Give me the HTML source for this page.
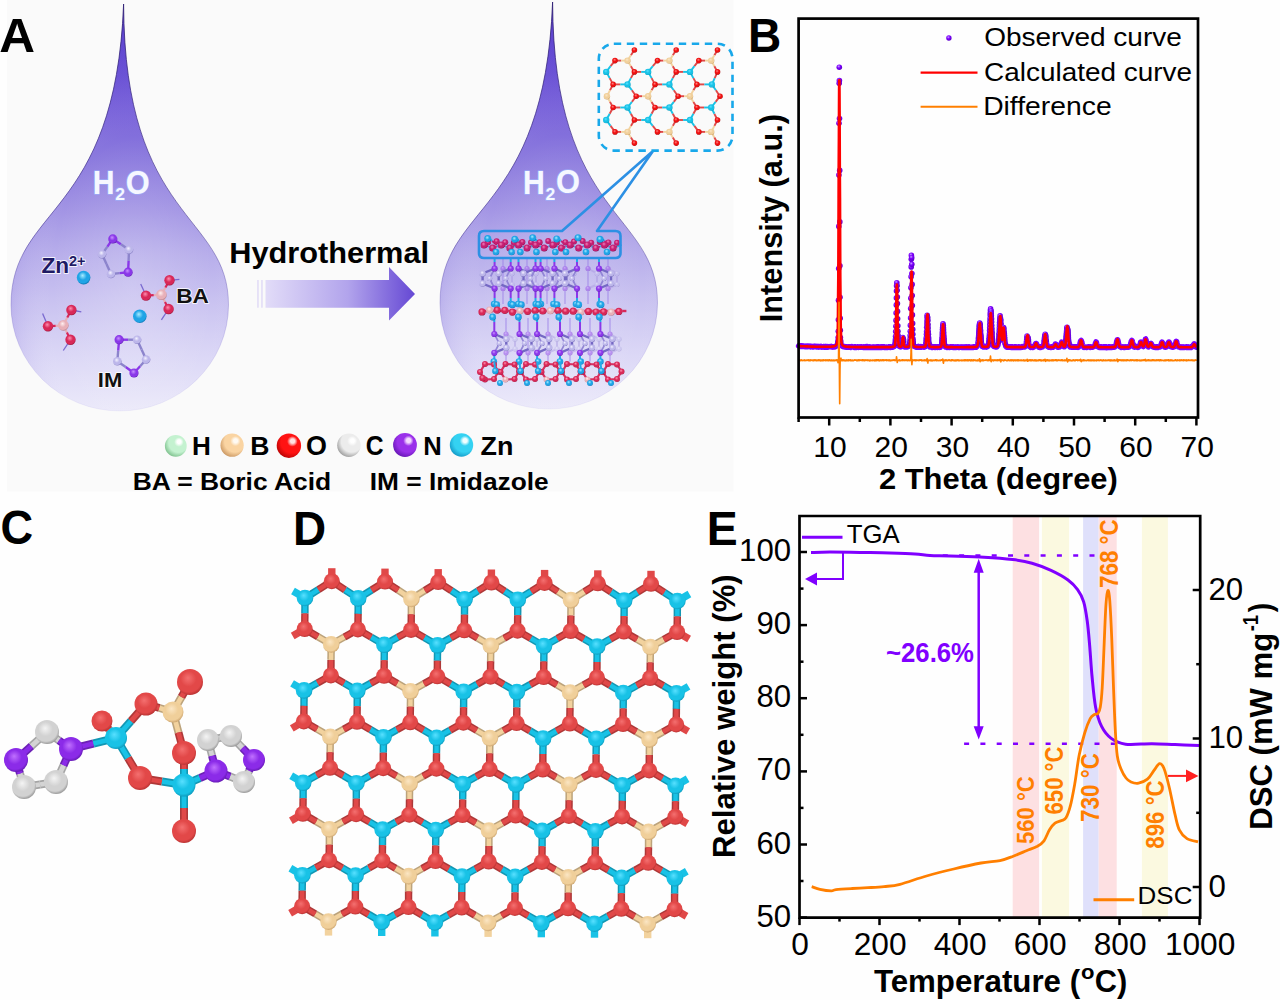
<!DOCTYPE html><html><head><meta charset="utf-8"><title>Figure</title><style>html,body{margin:0;padding:0;background:#fefefe;width:1280px;height:1000px;overflow:hidden}svg{display:block}</style></head><body><svg width="1280" height="1000" viewBox="0 0 1280 1000"><defs><radialGradient id="gLH" cx="0.6" cy="0.38" r="0.72" fx="0.66" fy="0.3"><stop offset="0" stop-color="#ffffff"/><stop offset="0.12" stop-color="#ffffff" stop-opacity="0.9"/><stop offset="0.3" stop-color="#c4f2d0"/><stop offset="0.62" stop-color="#c4f2d0"/><stop offset="1" stop-color="#6cb47c"/></radialGradient><radialGradient id="gLB" cx="0.6" cy="0.38" r="0.72" fx="0.66" fy="0.3"><stop offset="0" stop-color="#fffaf2"/><stop offset="0.12" stop-color="#fffaf2" stop-opacity="0.9"/><stop offset="0.3" stop-color="#fad4a2"/><stop offset="0.62" stop-color="#fad4a2"/><stop offset="1" stop-color="#c08a54"/></radialGradient><radialGradient id="gLOred" cx="0.6" cy="0.38" r="0.72" fx="0.66" fy="0.3"><stop offset="0" stop-color="#ffe0e0"/><stop offset="0.12" stop-color="#ffe0e0" stop-opacity="0.9"/><stop offset="0.3" stop-color="#ff1212"/><stop offset="0.62" stop-color="#ff1212"/><stop offset="1" stop-color="#a80000"/></radialGradient><radialGradient id="gLC" cx="0.6" cy="0.38" r="0.72" fx="0.66" fy="0.3"><stop offset="0" stop-color="#ffffff"/><stop offset="0.12" stop-color="#ffffff" stop-opacity="0.9"/><stop offset="0.3" stop-color="#ececec"/><stop offset="0.62" stop-color="#ececec"/><stop offset="1" stop-color="#8a8a8a"/></radialGradient><radialGradient id="gLN" cx="0.6" cy="0.38" r="0.72" fx="0.66" fy="0.3"><stop offset="0" stop-color="#f4d8ff"/><stop offset="0.12" stop-color="#f4d8ff" stop-opacity="0.9"/><stop offset="0.3" stop-color="#9a30ea"/><stop offset="0.62" stop-color="#9a30ea"/><stop offset="1" stop-color="#5a10a8"/></radialGradient><radialGradient id="gLZn" cx="0.6" cy="0.38" r="0.72" fx="0.66" fy="0.3"><stop offset="0" stop-color="#f0ffff"/><stop offset="0.12" stop-color="#f0ffff" stop-opacity="0.9"/><stop offset="0.3" stop-color="#34d2f2"/><stop offset="0.62" stop-color="#34d2f2"/><stop offset="1" stop-color="#0c8cbc"/></radialGradient><radialGradient id="gO" cx="0.46" cy="0.42" r="0.6" fx="0.42" fy="0.34"><stop offset="0" stop-color="#f47070"/><stop offset="0.5" stop-color="#e24848"/><stop offset="0.8" stop-color="#e24848"/><stop offset="1" stop-color="#b43030"/></radialGradient><radialGradient id="gZn" cx="0.46" cy="0.42" r="0.6" fx="0.42" fy="0.34"><stop offset="0" stop-color="#58e0ff"/><stop offset="0.5" stop-color="#18c2e6"/><stop offset="0.8" stop-color="#18c2e6"/><stop offset="1" stop-color="#0c96b8"/></radialGradient><radialGradient id="gB" cx="0.46" cy="0.42" r="0.6" fx="0.42" fy="0.34"><stop offset="0" stop-color="#fbe6c4"/><stop offset="0.5" stop-color="#f0cf9a"/><stop offset="0.8" stop-color="#f0cf9a"/><stop offset="1" stop-color="#c8a06a"/></radialGradient><radialGradient id="gN" cx="0.46" cy="0.42" r="0.6" fx="0.42" fy="0.34"><stop offset="0" stop-color="#c070ff"/><stop offset="0.5" stop-color="#8b2be8"/><stop offset="0.8" stop-color="#8b2be8"/><stop offset="1" stop-color="#6218b0"/></radialGradient><radialGradient id="gC" cx="0.46" cy="0.42" r="0.6" fx="0.42" fy="0.34"><stop offset="0" stop-color="#f4f4f4"/><stop offset="0.5" stop-color="#d2d2d2"/><stop offset="0.8" stop-color="#d2d2d2"/><stop offset="1" stop-color="#909090"/></radialGradient><radialGradient id="gH" cx="0.46" cy="0.42" r="0.6" fx="0.42" fy="0.34"><stop offset="0" stop-color="#eaffee"/><stop offset="0.5" stop-color="#a8ecb8"/><stop offset="0.8" stop-color="#a8ecb8"/><stop offset="1" stop-color="#70b884"/></radialGradient><radialGradient id="gOred" cx="0.46" cy="0.42" r="0.6" fx="0.42" fy="0.34"><stop offset="0" stop-color="#ff8080"/><stop offset="0.5" stop-color="#ee1010"/><stop offset="0.8" stop-color="#ee1010"/><stop offset="1" stop-color="#a00000"/></radialGradient><radialGradient id="gaO" cx="0.46" cy="0.42" r="0.6" fx="0.42" fy="0.34"><stop offset="0" stop-color="#ff8fb0"/><stop offset="0.5" stop-color="#d82858"/><stop offset="0.8" stop-color="#d82858"/><stop offset="1" stop-color="#98163a"/></radialGradient><radialGradient id="gsO" cx="0.46" cy="0.42" r="0.6" fx="0.42" fy="0.34"><stop offset="0" stop-color="#f080b8"/><stop offset="0.5" stop-color="#c41e72"/><stop offset="0.8" stop-color="#c41e72"/><stop offset="1" stop-color="#7c0e48"/></radialGradient><radialGradient id="gaB" cx="0.46" cy="0.42" r="0.6" fx="0.42" fy="0.34"><stop offset="0" stop-color="#fff0f0"/><stop offset="0.5" stop-color="#e8b0b8"/><stop offset="0.8" stop-color="#e8b0b8"/><stop offset="1" stop-color="#b07a86"/></radialGradient><radialGradient id="gaN" cx="0.46" cy="0.42" r="0.6" fx="0.42" fy="0.34"><stop offset="0" stop-color="#c890ff"/><stop offset="0.5" stop-color="#8a38e8"/><stop offset="0.8" stop-color="#8a38e8"/><stop offset="1" stop-color="#5a18a8"/></radialGradient><radialGradient id="gaC" cx="0.46" cy="0.42" r="0.6" fx="0.42" fy="0.34"><stop offset="0" stop-color="#f4f2ff"/><stop offset="0.5" stop-color="#bcb6ea"/><stop offset="0.8" stop-color="#bcb6ea"/><stop offset="1" stop-color="#7c74bc"/></radialGradient><radialGradient id="gaZn" cx="0.46" cy="0.42" r="0.6" fx="0.42" fy="0.34"><stop offset="0" stop-color="#a8ecff"/><stop offset="0.5" stop-color="#20a4e6"/><stop offset="0.8" stop-color="#20a4e6"/><stop offset="1" stop-color="#0a6eac"/></radialGradient><linearGradient id="dropG" gradientUnits="userSpaceOnUse" x1="0" y1="4" x2="0" y2="412"><stop offset="0" stop-color="#5434cc"/><stop offset="0.12" stop-color="#6046d2"/><stop offset="0.25" stop-color="#765fd9"/><stop offset="0.38" stop-color="#8c7bde"/><stop offset="0.5" stop-color="#a193e4"/><stop offset="0.6" stop-color="#b5abea"/><stop offset="0.72" stop-color="#c8c1f0"/><stop offset="0.86" stop-color="#dbd7f6"/><stop offset="1" stop-color="#eceafa"/></linearGradient><radialGradient id="dropShade" cx="0.56" cy="0.7" r="0.62"><stop offset="0" stop-color="#ffffff" stop-opacity="0.18"/><stop offset="0.6" stop-color="#ffffff" stop-opacity="0"/><stop offset="0.85" stop-color="#7a66d8" stop-opacity="0.10"/><stop offset="1" stop-color="#6a54d0" stop-opacity="0.28"/></radialGradient><linearGradient id="dropStroke" gradientUnits="userSpaceOnUse" x1="0" y1="4" x2="0" y2="412"><stop offset="0" stop-color="#2a1a70" stop-opacity="0.9"/><stop offset="0.55" stop-color="#3a2a88" stop-opacity="0.6"/><stop offset="0.8" stop-color="#6a5ac8" stop-opacity="0.25"/><stop offset="1" stop-color="#9a90e0" stop-opacity="0.1"/></linearGradient><linearGradient id="arrG" x1="0" y1="0" x2="1" y2="0"><stop offset="0" stop-color="#e2dcf8"/><stop offset="0.55" stop-color="#b2a4ec"/><stop offset="1" stop-color="#6548d4"/></linearGradient><radialGradient id="gobs" cx="0.4" cy="0.35" r="0.6"><stop offset="0" stop-color="#c9a0ff"/><stop offset="0.5" stop-color="#7f00ff"/><stop offset="1" stop-color="#6000d0"/></radialGradient></defs><rect width="1280" height="1000" fill="#fefefe"/><rect x="7" y="0" width="726.5" height="491.6" fill="#fafafa"/><g transform="translate(0,0)"><path d="M123.6,4.0 C124.3,221.7 228.5,213.1 228.5,305.0 A108.75,106 0 0 1 11.0,305.0 C11.0,205.5 115.5,218.4 123.6,4.0 Z" fill="url(#dropG)"/><path d="M123.6,4.0 C124.3,221.7 228.5,213.1 228.5,305.0 A108.75,106 0 0 1 11.0,305.0 C11.0,205.5 115.5,218.4 123.6,4.0 Z" fill="url(#dropShade)" stroke="url(#dropStroke)" stroke-width="0.9"/></g><g transform="translate(0,-2)"><path d="M552.6,4.0 C553.3,221.7 657.5,213.1 657.5,305.0 A108.75,106 0 0 1 440.0,305.0 C440.0,205.5 544.5,218.4 552.6,4.0 Z" fill="url(#dropG)"/><path d="M552.6,4.0 C553.3,221.7 657.5,213.1 657.5,305.0 A108.75,106 0 0 1 440.0,305.0 C440.0,205.5 544.5,218.4 552.6,4.0 Z" fill="url(#dropShade)" stroke="url(#dropStroke)" stroke-width="0.9"/></g><text transform="translate(92.74,194.00) scale(0.9335,1)" font-family="'Liberation Sans', Arial, Helvetica, sans-serif" font-weight="bold" font-size="32.32" fill="#f6f8ff" stroke="#9cb4ff" stroke-width="1.4" stroke-opacity="0.7" paint-order="stroke" stroke-linejoin="round">H</text><text transform="translate(115.19,200.10) scale(1.0208,1)" font-family="'Liberation Sans', Arial, Helvetica, sans-serif" font-weight="bold" font-size="17.14" fill="#f6f8ff" stroke="#9cb4ff" stroke-width="1.4" stroke-opacity="0.7" paint-order="stroke" stroke-linejoin="round">2</text><text transform="translate(125.67,193.97) scale(0.9464,1)" font-family="'Liberation Sans', Arial, Helvetica, sans-serif" font-weight="bold" font-size="32.54" fill="#f6f8ff" stroke="#9cb4ff" stroke-width="1.4" stroke-opacity="0.7" paint-order="stroke" stroke-linejoin="round">O</text><text transform="translate(523.04,193.50) scale(0.9335,1)" font-family="'Liberation Sans', Arial, Helvetica, sans-serif" font-weight="bold" font-size="32.32" fill="#f6f8ff" stroke="#9cb4ff" stroke-width="1.4" stroke-opacity="0.7" paint-order="stroke" stroke-linejoin="round">H</text><text transform="translate(545.49,199.60) scale(1.0208,1)" font-family="'Liberation Sans', Arial, Helvetica, sans-serif" font-weight="bold" font-size="17.14" fill="#f6f8ff" stroke="#9cb4ff" stroke-width="1.4" stroke-opacity="0.7" paint-order="stroke" stroke-linejoin="round">2</text><text transform="translate(555.97,193.47) scale(0.9464,1)" font-family="'Liberation Sans', Arial, Helvetica, sans-serif" font-weight="bold" font-size="32.54" fill="#f6f8ff" stroke="#9cb4ff" stroke-width="1.4" stroke-opacity="0.7" paint-order="stroke" stroke-linejoin="round">O</text><line x1="112.8" y1="238.9" x2="120.9" y2="244.3" stroke="#8a38e8" stroke-width="2.4"/><line x1="120.9" y1="244.3" x2="129.0" y2="249.7" stroke="#8c84cc" stroke-width="2.4"/><line x1="129.0" y1="249.7" x2="128.6" y2="260.9" stroke="#8c84cc" stroke-width="2.4"/><line x1="128.6" y1="260.9" x2="128.1" y2="272.2" stroke="#8a38e8" stroke-width="2.4"/><line x1="128.1" y1="272.2" x2="119.5" y2="273.1" stroke="#8a38e8" stroke-width="2.4"/><line x1="119.5" y1="273.1" x2="111.0" y2="274.0" stroke="#8c84cc" stroke-width="2.4"/><line x1="111.0" y1="274.0" x2="106.5" y2="264.1" stroke="#8c84cc" stroke-width="2.4"/><line x1="106.5" y1="264.1" x2="102.0" y2="254.2" stroke="#8c84cc" stroke-width="2.4"/><line x1="102.0" y1="254.2" x2="107.4" y2="246.6" stroke="#8c84cc" stroke-width="2.4"/><line x1="107.4" y1="246.6" x2="112.8" y2="238.9" stroke="#8a38e8" stroke-width="2.4"/><circle cx="112.8" cy="238.9" r="4.6" fill="url(#gaN)"/><circle cx="129.0" cy="249.7" r="4.3" fill="url(#gaC)"/><circle cx="128.1" cy="272.2" r="4.6" fill="url(#gaN)"/><circle cx="111.0" cy="274.0" r="4.3" fill="url(#gaC)"/><circle cx="102.0" cy="254.2" r="4.3" fill="url(#gaC)"/><line x1="119.1" y1="339.7" x2="128.1" y2="339.7" stroke="#8a38e8" stroke-width="2.4"/><line x1="128.1" y1="339.7" x2="137.1" y2="339.7" stroke="#8c84cc" stroke-width="2.4"/><line x1="137.1" y1="339.7" x2="141.6" y2="349.6" stroke="#8c84cc" stroke-width="2.4"/><line x1="141.6" y1="349.6" x2="146.1" y2="359.5" stroke="#8c84cc" stroke-width="2.4"/><line x1="146.1" y1="359.5" x2="140.1" y2="366.2" stroke="#8c84cc" stroke-width="2.4"/><line x1="140.1" y1="366.2" x2="134.0" y2="373.0" stroke="#8a38e8" stroke-width="2.4"/><line x1="134.0" y1="373.0" x2="125.7" y2="367.1" stroke="#8a38e8" stroke-width="2.4"/><line x1="125.7" y1="367.1" x2="117.3" y2="361.3" stroke="#8c84cc" stroke-width="2.4"/><line x1="117.3" y1="361.3" x2="118.2" y2="350.5" stroke="#8c84cc" stroke-width="2.4"/><line x1="118.2" y1="350.5" x2="119.1" y2="339.7" stroke="#8a38e8" stroke-width="2.4"/><circle cx="119.1" cy="339.7" r="4.6" fill="url(#gaN)"/><circle cx="137.1" cy="339.7" r="4.3" fill="url(#gaC)"/><circle cx="146.1" cy="359.5" r="4.3" fill="url(#gaC)"/><circle cx="134.0" cy="373.0" r="4.6" fill="url(#gaN)"/><circle cx="117.3" cy="361.3" r="4.3" fill="url(#gaC)"/><line x1="169.5" y1="280.3" x2="179.4" y2="279.4" stroke="#7a6ad0" stroke-width="1.3"/><line x1="161.4" y1="294.7" x2="165.4" y2="287.5" stroke="#e8b0b8" stroke-width="2.2"/><line x1="165.4" y1="287.5" x2="169.5" y2="280.3" stroke="#d82858" stroke-width="2.2"/><line x1="146" y1="295.6" x2="140.7" y2="283.9" stroke="#7a6ad0" stroke-width="1.3"/><line x1="161.4" y1="294.7" x2="153.7" y2="295.1" stroke="#e8b0b8" stroke-width="2.2"/><line x1="153.7" y1="295.1" x2="146.0" y2="295.6" stroke="#d82858" stroke-width="2.2"/><line x1="168.6" y1="309" x2="161.4" y2="319.9" stroke="#7a6ad0" stroke-width="1.3"/><line x1="161.4" y1="294.7" x2="165.0" y2="301.9" stroke="#e8b0b8" stroke-width="2.2"/><line x1="165.0" y1="301.9" x2="168.6" y2="309.0" stroke="#d82858" stroke-width="2.2"/><circle cx="161.4" cy="294.7" r="5.4" fill="url(#gaB)"/><circle cx="169.5" cy="280.3" r="5.2" fill="url(#gaO)"/><circle cx="146.0" cy="295.6" r="5.2" fill="url(#gaO)"/><circle cx="168.6" cy="309.0" r="5.2" fill="url(#gaO)"/><line x1="71.4" y1="310" x2="81.3" y2="311.8" stroke="#7a6ad0" stroke-width="1.3"/><line x1="63.3" y1="325.3" x2="67.3" y2="317.6" stroke="#e8b0b8" stroke-width="2.2"/><line x1="67.3" y1="317.6" x2="71.4" y2="310.0" stroke="#d82858" stroke-width="2.2"/><line x1="48" y1="326.2" x2="42.6" y2="313.6" stroke="#7a6ad0" stroke-width="1.3"/><line x1="63.3" y1="325.3" x2="55.6" y2="325.8" stroke="#e8b0b8" stroke-width="2.2"/><line x1="55.6" y1="325.8" x2="48.0" y2="326.2" stroke="#d82858" stroke-width="2.2"/><line x1="70.5" y1="339.7" x2="63.3" y2="350.5" stroke="#7a6ad0" stroke-width="1.3"/><line x1="63.3" y1="325.3" x2="66.9" y2="332.5" stroke="#e8b0b8" stroke-width="2.2"/><line x1="66.9" y1="332.5" x2="70.5" y2="339.7" stroke="#d82858" stroke-width="2.2"/><circle cx="63.3" cy="325.3" r="5.4" fill="url(#gaB)"/><circle cx="71.4" cy="310.0" r="5.2" fill="url(#gaO)"/><circle cx="48.0" cy="326.2" r="5.2" fill="url(#gaO)"/><circle cx="70.5" cy="339.7" r="5.2" fill="url(#gaO)"/><circle cx="83.6" cy="277.6" r="6.8" fill="url(#gaZn)"/><circle cx="139.8" cy="316.3" r="6.8" fill="url(#gaZn)"/><text transform="translate(41.52,272.60) scale(1.0562,1)" font-family="'Liberation Sans', Arial, Helvetica, sans-serif" font-weight="bold" font-size="21.45" fill="#1e1a64" stroke="#ffffff" stroke-width="1.8" stroke-opacity="0.85" paint-order="stroke" stroke-linejoin="round">Zn</text><text transform="translate(69.09,265.80) scale(1.0224,1)" font-family="'Liberation Sans', Arial, Helvetica, sans-serif" font-weight="bold" font-size="14.14" fill="#1e1a64" stroke="#ffffff" stroke-width="1.8" stroke-opacity="0.85" paint-order="stroke" stroke-linejoin="round">2+</text><text transform="translate(176.13,303.20) scale(1.1252,1)" font-family="'Liberation Sans', Arial, Helvetica, sans-serif" font-weight="bold" font-size="20.14" fill="#111" stroke="#ffffff" stroke-width="1.8" stroke-opacity="0.85" paint-order="stroke" stroke-linejoin="round">BA</text><text transform="translate(97.87,386.50) scale(1.0488,1)" font-family="'Liberation Sans', Arial, Helvetica, sans-serif" font-weight="bold" font-size="21.01" fill="#111" stroke="#ffffff" stroke-width="1.8" stroke-opacity="0.85" paint-order="stroke" stroke-linejoin="round">IM</text><path d="M265.5,280 L389,280 L389,267 L415,294 L389,320.5 L389,307.7 L265.5,307.7 Z" fill="url(#arrG)"/><rect x="257.3" y="280" width="1.3" height="27.7" fill="#ddd6f6"/><rect x="261.3" y="280" width="1.3" height="27.7" fill="#ddd6f6"/><text transform="translate(229.20,263.44) scale(1.0163,1)" font-family="'Liberation Sans', Arial, Helvetica, sans-serif" font-weight="bold" font-size="30.27" fill="#000">Hydrothermal</text><g opacity="0.45"><line x1="503" y1="258" x2="503" y2="304" stroke="#9a7ee8" stroke-width="1.8"/><path d="M503,268.5 L512,273.5 L512,284.5 L503,288.5" fill="none" stroke="#a898e0" stroke-width="2"/><circle cx="503.0" cy="268.5" r="2.6" fill="url(#gaN)"/><circle cx="503.0" cy="288.5" r="2.6" fill="url(#gaN)"/><circle cx="512.0" cy="273.5" r="2.6" fill="url(#gaC)"/><circle cx="512.0" cy="284.5" r="2.6" fill="url(#gaC)"/></g><g opacity="0.45"><line x1="527" y1="258" x2="527" y2="304" stroke="#9a7ee8" stroke-width="1.8"/><path d="M527,268.5 L536,273.5 L536,284.5 L527,288.5" fill="none" stroke="#a898e0" stroke-width="2"/><circle cx="527.0" cy="268.5" r="2.6" fill="url(#gaN)"/><circle cx="527.0" cy="288.5" r="2.6" fill="url(#gaN)"/><circle cx="536.0" cy="273.5" r="2.6" fill="url(#gaC)"/><circle cx="536.0" cy="284.5" r="2.6" fill="url(#gaC)"/></g><g opacity="0.45"><line x1="547" y1="258" x2="547" y2="304" stroke="#9a7ee8" stroke-width="1.8"/><path d="M547,268.5 L556,273.5 L556,284.5 L547,288.5" fill="none" stroke="#a898e0" stroke-width="2"/><circle cx="547.0" cy="268.5" r="2.6" fill="url(#gaN)"/><circle cx="547.0" cy="288.5" r="2.6" fill="url(#gaN)"/><circle cx="556.0" cy="273.5" r="2.6" fill="url(#gaC)"/><circle cx="556.0" cy="284.5" r="2.6" fill="url(#gaC)"/></g><g opacity="0.45"><line x1="565" y1="258" x2="565" y2="304" stroke="#9a7ee8" stroke-width="1.8"/><path d="M565,268.5 L574,273.5 L574,284.5 L565,288.5" fill="none" stroke="#a898e0" stroke-width="2"/><circle cx="565.0" cy="268.5" r="2.6" fill="url(#gaN)"/><circle cx="565.0" cy="288.5" r="2.6" fill="url(#gaN)"/><circle cx="574.0" cy="273.5" r="2.6" fill="url(#gaC)"/><circle cx="574.0" cy="284.5" r="2.6" fill="url(#gaC)"/></g><g opacity="0.45"><line x1="588" y1="258" x2="588" y2="304" stroke="#9a7ee8" stroke-width="1.8"/><path d="M588,268.5 L597,273.5 L597,284.5 L588,288.5" fill="none" stroke="#a898e0" stroke-width="2"/><circle cx="588.0" cy="268.5" r="2.6" fill="url(#gaN)"/><circle cx="588.0" cy="288.5" r="2.6" fill="url(#gaN)"/><circle cx="597.0" cy="273.5" r="2.6" fill="url(#gaC)"/><circle cx="597.0" cy="284.5" r="2.6" fill="url(#gaC)"/></g><g opacity="0.45"><line x1="608" y1="258" x2="608" y2="304" stroke="#9a7ee8" stroke-width="1.8"/><path d="M608,268.5 L617,273.5 L617,284.5 L608,288.5" fill="none" stroke="#a898e0" stroke-width="2"/><circle cx="608.0" cy="268.5" r="2.6" fill="url(#gaN)"/><circle cx="608.0" cy="288.5" r="2.6" fill="url(#gaN)"/><circle cx="617.0" cy="273.5" r="2.6" fill="url(#gaC)"/><circle cx="617.0" cy="284.5" r="2.6" fill="url(#gaC)"/></g><path d="M494.6,268.5 L482.6,273.5 L482.6,283.5 L494.6,288.5" fill="none" stroke="#7468c4" stroke-width="2.4"/><path d="M494.6,268.5 L489.6,278.5 L494.6,288.5" fill="none" stroke="#9286d6" stroke-width="1.7"/><circle cx="482.6" cy="273.5" r="3.2" fill="url(#gaC)"/><circle cx="482.6" cy="283.5" r="3.2" fill="url(#gaC)"/><circle cx="489.6" cy="278.5" r="2.6" fill="url(#gaC)"/><path d="M510.7,268.5 L498.7,273.5 L498.7,283.5 L510.7,288.5" fill="none" stroke="#7468c4" stroke-width="2.4"/><path d="M510.7,268.5 L505.7,278.5 L510.7,288.5" fill="none" stroke="#9286d6" stroke-width="1.7"/><circle cx="498.7" cy="273.5" r="3.2" fill="url(#gaC)"/><circle cx="498.7" cy="283.5" r="3.2" fill="url(#gaC)"/><circle cx="505.7" cy="278.5" r="2.6" fill="url(#gaC)"/><path d="M518.5,268.5 L530.5,273.5 L530.5,283.5 L518.5,288.5" fill="none" stroke="#7468c4" stroke-width="2.4"/><path d="M518.5,268.5 L523.5,278.5 L518.5,288.5" fill="none" stroke="#9286d6" stroke-width="1.7"/><circle cx="530.5" cy="273.5" r="3.2" fill="url(#gaC)"/><circle cx="530.5" cy="283.5" r="3.2" fill="url(#gaC)"/><circle cx="523.5" cy="278.5" r="2.6" fill="url(#gaC)"/><path d="M535.5,268.5 L523.5,273.5 L523.5,283.5 L535.5,288.5" fill="none" stroke="#7468c4" stroke-width="2.4"/><path d="M535.5,268.5 L530.5,278.5 L535.5,288.5" fill="none" stroke="#9286d6" stroke-width="1.7"/><circle cx="523.5" cy="273.5" r="3.2" fill="url(#gaC)"/><circle cx="523.5" cy="283.5" r="3.2" fill="url(#gaC)"/><circle cx="530.5" cy="278.5" r="2.6" fill="url(#gaC)"/><path d="M540.6,268.5 L552.6,273.5 L552.6,283.5 L540.6,288.5" fill="none" stroke="#7468c4" stroke-width="2.4"/><path d="M540.6,268.5 L545.6,278.5 L540.6,288.5" fill="none" stroke="#9286d6" stroke-width="1.7"/><circle cx="552.6" cy="273.5" r="3.2" fill="url(#gaC)"/><circle cx="552.6" cy="283.5" r="3.2" fill="url(#gaC)"/><circle cx="545.6" cy="278.5" r="2.6" fill="url(#gaC)"/><path d="M554.4,268.5 L566.4,273.5 L566.4,283.5 L554.4,288.5" fill="none" stroke="#7468c4" stroke-width="2.4"/><path d="M554.4,268.5 L559.4,278.5 L554.4,288.5" fill="none" stroke="#9286d6" stroke-width="1.7"/><circle cx="566.4" cy="273.5" r="3.2" fill="url(#gaC)"/><circle cx="566.4" cy="283.5" r="3.2" fill="url(#gaC)"/><circle cx="559.4" cy="278.5" r="2.6" fill="url(#gaC)"/><path d="M577.0,268.5 L565.0,273.5 L565.0,283.5 L577.0,288.5" fill="none" stroke="#7468c4" stroke-width="2.4"/><path d="M577,268.5 L572.0,278.5 L577,288.5" fill="none" stroke="#9286d6" stroke-width="1.7"/><circle cx="565.0" cy="273.5" r="3.2" fill="url(#gaC)"/><circle cx="565.0" cy="283.5" r="3.2" fill="url(#gaC)"/><circle cx="572.0" cy="278.5" r="2.6" fill="url(#gaC)"/><path d="M599.0,268.5 L611.0,273.5 L611.0,283.5 L599.0,288.5" fill="none" stroke="#7468c4" stroke-width="2.4"/><path d="M599,268.5 L604.0,278.5 L599,288.5" fill="none" stroke="#9286d6" stroke-width="1.7"/><circle cx="611.0" cy="273.5" r="3.2" fill="url(#gaC)"/><circle cx="611.0" cy="283.5" r="3.2" fill="url(#gaC)"/><circle cx="604.0" cy="278.5" r="2.6" fill="url(#gaC)"/><line x1="494.6" y1="258" x2="494.6" y2="262" stroke="#22ace8" stroke-width="2"/><line x1="494.6" y1="262" x2="494.6" y2="268.5" stroke="#8a38e8" stroke-width="2"/><line x1="494.6" y1="288.5" x2="494.6" y2="298" stroke="#8a38e8" stroke-width="2"/><line x1="494.6" y1="298" x2="494.6" y2="304" stroke="#22ace8" stroke-width="2"/><circle cx="494.6" cy="268.5" r="3.1" fill="url(#gaN)"/><circle cx="494.6" cy="288.5" r="3.1" fill="url(#gaN)"/><circle cx="494.1" cy="304.0" r="3.3" fill="url(#gaZn)"/><line x1="510.7" y1="258" x2="510.7" y2="262" stroke="#22ace8" stroke-width="2"/><line x1="510.7" y1="262" x2="510.7" y2="268.5" stroke="#8a38e8" stroke-width="2"/><line x1="510.7" y1="288.5" x2="510.7" y2="298" stroke="#8a38e8" stroke-width="2"/><line x1="510.7" y1="298" x2="510.7" y2="304" stroke="#22ace8" stroke-width="2"/><circle cx="510.7" cy="268.5" r="3.1" fill="url(#gaN)"/><circle cx="510.7" cy="288.5" r="3.1" fill="url(#gaN)"/><circle cx="510.8" cy="304.0" r="3.3" fill="url(#gaZn)"/><line x1="518.5" y1="258" x2="518.5" y2="262" stroke="#22ace8" stroke-width="2"/><line x1="518.5" y1="262" x2="518.5" y2="268.5" stroke="#8a38e8" stroke-width="2"/><line x1="518.5" y1="288.5" x2="518.5" y2="298" stroke="#8a38e8" stroke-width="2"/><line x1="518.5" y1="298" x2="518.5" y2="304" stroke="#22ace8" stroke-width="2"/><circle cx="518.5" cy="268.5" r="3.1" fill="url(#gaN)"/><circle cx="518.5" cy="288.5" r="3.1" fill="url(#gaN)"/><circle cx="518.2" cy="304.0" r="3.3" fill="url(#gaZn)"/><line x1="535.5" y1="258" x2="535.5" y2="262" stroke="#22ace8" stroke-width="2"/><line x1="535.5" y1="262" x2="535.5" y2="268.5" stroke="#8a38e8" stroke-width="2"/><line x1="535.5" y1="288.5" x2="535.5" y2="298" stroke="#8a38e8" stroke-width="2"/><line x1="535.5" y1="298" x2="535.5" y2="304" stroke="#22ace8" stroke-width="2"/><circle cx="535.5" cy="268.5" r="3.1" fill="url(#gaN)"/><circle cx="535.5" cy="288.5" r="3.1" fill="url(#gaN)"/><circle cx="535.7" cy="304.0" r="3.3" fill="url(#gaZn)"/><line x1="540.6" y1="258" x2="540.6" y2="262" stroke="#22ace8" stroke-width="2"/><line x1="540.6" y1="262" x2="540.6" y2="268.5" stroke="#8a38e8" stroke-width="2"/><line x1="540.6" y1="288.5" x2="540.6" y2="298" stroke="#8a38e8" stroke-width="2"/><line x1="540.6" y1="298" x2="540.6" y2="304" stroke="#22ace8" stroke-width="2"/><circle cx="540.6" cy="268.5" r="3.1" fill="url(#gaN)"/><circle cx="540.6" cy="288.5" r="3.1" fill="url(#gaN)"/><circle cx="540.9" cy="304.0" r="3.3" fill="url(#gaZn)"/><line x1="554.4" y1="258" x2="554.4" y2="262" stroke="#22ace8" stroke-width="2"/><line x1="554.4" y1="262" x2="554.4" y2="268.5" stroke="#8a38e8" stroke-width="2"/><line x1="554.4" y1="288.5" x2="554.4" y2="298" stroke="#8a38e8" stroke-width="2"/><line x1="554.4" y1="298" x2="554.4" y2="304" stroke="#22ace8" stroke-width="2"/><circle cx="554.4" cy="268.5" r="3.1" fill="url(#gaN)"/><circle cx="554.4" cy="288.5" r="3.1" fill="url(#gaN)"/><circle cx="553.5" cy="304.0" r="3.3" fill="url(#gaZn)"/><line x1="577" y1="258" x2="577" y2="262" stroke="#22ace8" stroke-width="2"/><line x1="577" y1="262" x2="577" y2="268.5" stroke="#8a38e8" stroke-width="2"/><line x1="577" y1="288.5" x2="577" y2="298" stroke="#8a38e8" stroke-width="2"/><line x1="577" y1="298" x2="577" y2="304" stroke="#22ace8" stroke-width="2"/><circle cx="577.0" cy="268.5" r="3.1" fill="url(#gaN)"/><circle cx="577.0" cy="288.5" r="3.1" fill="url(#gaN)"/><circle cx="576.0" cy="304.0" r="3.3" fill="url(#gaZn)"/><line x1="599" y1="258" x2="599" y2="262" stroke="#22ace8" stroke-width="2"/><line x1="599" y1="262" x2="599" y2="268.5" stroke="#8a38e8" stroke-width="2"/><line x1="599" y1="288.5" x2="599" y2="298" stroke="#8a38e8" stroke-width="2"/><line x1="599" y1="298" x2="599" y2="304" stroke="#22ace8" stroke-width="2"/><circle cx="599.0" cy="268.5" r="3.1" fill="url(#gaN)"/><circle cx="599.0" cy="288.5" r="3.1" fill="url(#gaN)"/><circle cx="599.7" cy="304.0" r="3.3" fill="url(#gaZn)"/><g opacity="0.45"><line x1="506" y1="318" x2="506" y2="361.5" stroke="#9a7ee8" stroke-width="1.8"/><path d="M506,334 L515,339 L515,348.8 L506,352.8" fill="none" stroke="#a898e0" stroke-width="2"/><circle cx="506.0" cy="334.0" r="2.6" fill="url(#gaN)"/><circle cx="506.0" cy="352.8" r="2.6" fill="url(#gaN)"/><circle cx="515.0" cy="339.0" r="2.6" fill="url(#gaC)"/><circle cx="515.0" cy="348.8" r="2.6" fill="url(#gaC)"/></g><g opacity="0.45"><line x1="528" y1="318" x2="528" y2="361.5" stroke="#9a7ee8" stroke-width="1.8"/><path d="M528,334 L537,339 L537,348.8 L528,352.8" fill="none" stroke="#a898e0" stroke-width="2"/><circle cx="528.0" cy="334.0" r="2.6" fill="url(#gaN)"/><circle cx="528.0" cy="352.8" r="2.6" fill="url(#gaN)"/><circle cx="537.0" cy="339.0" r="2.6" fill="url(#gaC)"/><circle cx="537.0" cy="348.8" r="2.6" fill="url(#gaC)"/></g><g opacity="0.45"><line x1="548" y1="318" x2="548" y2="361.5" stroke="#9a7ee8" stroke-width="1.8"/><path d="M548,334 L557,339 L557,348.8 L548,352.8" fill="none" stroke="#a898e0" stroke-width="2"/><circle cx="548.0" cy="334.0" r="2.6" fill="url(#gaN)"/><circle cx="548.0" cy="352.8" r="2.6" fill="url(#gaN)"/><circle cx="557.0" cy="339.0" r="2.6" fill="url(#gaC)"/><circle cx="557.0" cy="348.8" r="2.6" fill="url(#gaC)"/></g><g opacity="0.45"><line x1="570" y1="318" x2="570" y2="361.5" stroke="#9a7ee8" stroke-width="1.8"/><path d="M570,334 L579,339 L579,348.8 L570,352.8" fill="none" stroke="#a898e0" stroke-width="2"/><circle cx="570.0" cy="334.0" r="2.6" fill="url(#gaN)"/><circle cx="570.0" cy="352.8" r="2.6" fill="url(#gaN)"/><circle cx="579.0" cy="339.0" r="2.6" fill="url(#gaC)"/><circle cx="579.0" cy="348.8" r="2.6" fill="url(#gaC)"/></g><g opacity="0.45"><line x1="590" y1="318" x2="590" y2="361.5" stroke="#9a7ee8" stroke-width="1.8"/><path d="M590,334 L599,339 L599,348.8 L590,352.8" fill="none" stroke="#a898e0" stroke-width="2"/><circle cx="590.0" cy="334.0" r="2.6" fill="url(#gaN)"/><circle cx="590.0" cy="352.8" r="2.6" fill="url(#gaN)"/><circle cx="599.0" cy="339.0" r="2.6" fill="url(#gaC)"/><circle cx="599.0" cy="348.8" r="2.6" fill="url(#gaC)"/></g><g opacity="0.45"><line x1="610" y1="318" x2="610" y2="361.5" stroke="#9a7ee8" stroke-width="1.8"/><path d="M610,334 L619,339 L619,348.8 L610,352.8" fill="none" stroke="#a898e0" stroke-width="2"/><circle cx="610.0" cy="334.0" r="2.6" fill="url(#gaN)"/><circle cx="610.0" cy="352.8" r="2.6" fill="url(#gaN)"/><circle cx="619.0" cy="339.0" r="2.6" fill="url(#gaC)"/><circle cx="619.0" cy="348.8" r="2.6" fill="url(#gaC)"/></g><path d="M494.3,334.0 L506.3,339.0 L506.3,347.8 L494.3,352.8" fill="none" stroke="#7468c4" stroke-width="2.4"/><path d="M494.3,334 L499.3,343.4 L494.3,352.8" fill="none" stroke="#9286d6" stroke-width="1.7"/><circle cx="506.3" cy="339.0" r="3.2" fill="url(#gaC)"/><circle cx="506.3" cy="347.8" r="3.2" fill="url(#gaC)"/><circle cx="499.3" cy="343.4" r="2.6" fill="url(#gaC)"/><path d="M519.5,334.0 L531.5,339.0 L531.5,347.8 L519.5,352.8" fill="none" stroke="#7468c4" stroke-width="2.4"/><path d="M519.5,334 L524.5,343.4 L519.5,352.8" fill="none" stroke="#9286d6" stroke-width="1.7"/><circle cx="531.5" cy="339.0" r="3.2" fill="url(#gaC)"/><circle cx="531.5" cy="347.8" r="3.2" fill="url(#gaC)"/><circle cx="524.5" cy="343.4" r="2.6" fill="url(#gaC)"/><path d="M537.1,334.0 L549.1,339.0 L549.1,347.8 L537.1,352.8" fill="none" stroke="#7468c4" stroke-width="2.4"/><path d="M537.1,334 L542.1,343.4 L537.1,352.8" fill="none" stroke="#9286d6" stroke-width="1.7"/><circle cx="549.1" cy="339.0" r="3.2" fill="url(#gaC)"/><circle cx="549.1" cy="347.8" r="3.2" fill="url(#gaC)"/><circle cx="542.1" cy="343.4" r="2.6" fill="url(#gaC)"/><path d="M560.0,334.0 L572.0,339.0 L572.0,347.8 L560.0,352.8" fill="none" stroke="#7468c4" stroke-width="2.4"/><path d="M560,334 L565.0,343.4 L560,352.8" fill="none" stroke="#9286d6" stroke-width="1.7"/><circle cx="572.0" cy="339.0" r="3.2" fill="url(#gaC)"/><circle cx="572.0" cy="347.8" r="3.2" fill="url(#gaC)"/><circle cx="565.0" cy="343.4" r="2.6" fill="url(#gaC)"/><path d="M580.0,334.0 L592.0,339.0 L592.0,347.8 L580.0,352.8" fill="none" stroke="#7468c4" stroke-width="2.4"/><path d="M580,334 L585.0,343.4 L580,352.8" fill="none" stroke="#9286d6" stroke-width="1.7"/><circle cx="592.0" cy="339.0" r="3.2" fill="url(#gaC)"/><circle cx="592.0" cy="347.8" r="3.2" fill="url(#gaC)"/><circle cx="585.0" cy="343.4" r="2.6" fill="url(#gaC)"/><path d="M600.4,334.0 L612.4,339.0 L612.4,347.8 L600.4,352.8" fill="none" stroke="#7468c4" stroke-width="2.4"/><path d="M600.4,334 L605.4,343.4 L600.4,352.8" fill="none" stroke="#9286d6" stroke-width="1.7"/><circle cx="612.4" cy="339.0" r="3.2" fill="url(#gaC)"/><circle cx="612.4" cy="347.8" r="3.2" fill="url(#gaC)"/><circle cx="605.4" cy="343.4" r="2.6" fill="url(#gaC)"/><line x1="494.3" y1="318" x2="494.3" y2="322" stroke="#22ace8" stroke-width="2"/><line x1="494.3" y1="322" x2="494.3" y2="334" stroke="#8a38e8" stroke-width="2"/><line x1="494.3" y1="352.8" x2="494.3" y2="355.5" stroke="#8a38e8" stroke-width="2"/><line x1="494.3" y1="355.5" x2="494.3" y2="361.5" stroke="#22ace8" stroke-width="2"/><circle cx="494.3" cy="334.0" r="3.1" fill="url(#gaN)"/><circle cx="494.3" cy="352.8" r="3.1" fill="url(#gaN)"/><circle cx="493.8" cy="361.5" r="3.3" fill="url(#gaZn)"/><line x1="519.5" y1="318" x2="519.5" y2="322" stroke="#22ace8" stroke-width="2"/><line x1="519.5" y1="322" x2="519.5" y2="334" stroke="#8a38e8" stroke-width="2"/><line x1="519.5" y1="352.8" x2="519.5" y2="355.5" stroke="#8a38e8" stroke-width="2"/><line x1="519.5" y1="355.5" x2="519.5" y2="361.5" stroke="#22ace8" stroke-width="2"/><circle cx="519.5" cy="334.0" r="3.1" fill="url(#gaN)"/><circle cx="519.5" cy="352.8" r="3.1" fill="url(#gaN)"/><circle cx="519.0" cy="361.5" r="3.3" fill="url(#gaZn)"/><line x1="537.1" y1="318" x2="537.1" y2="322" stroke="#22ace8" stroke-width="2"/><line x1="537.1" y1="322" x2="537.1" y2="334" stroke="#8a38e8" stroke-width="2"/><line x1="537.1" y1="352.8" x2="537.1" y2="355.5" stroke="#8a38e8" stroke-width="2"/><line x1="537.1" y1="355.5" x2="537.1" y2="361.5" stroke="#22ace8" stroke-width="2"/><circle cx="537.1" cy="334.0" r="3.1" fill="url(#gaN)"/><circle cx="537.1" cy="352.8" r="3.1" fill="url(#gaN)"/><circle cx="538.1" cy="361.5" r="3.3" fill="url(#gaZn)"/><line x1="560" y1="318" x2="560" y2="322" stroke="#22ace8" stroke-width="2"/><line x1="560" y1="322" x2="560" y2="334" stroke="#8a38e8" stroke-width="2"/><line x1="560" y1="352.8" x2="560" y2="355.5" stroke="#8a38e8" stroke-width="2"/><line x1="560" y1="355.5" x2="560" y2="361.5" stroke="#22ace8" stroke-width="2"/><circle cx="560.0" cy="334.0" r="3.1" fill="url(#gaN)"/><circle cx="560.0" cy="352.8" r="3.1" fill="url(#gaN)"/><circle cx="559.9" cy="361.5" r="3.3" fill="url(#gaZn)"/><line x1="580" y1="318" x2="580" y2="322" stroke="#22ace8" stroke-width="2"/><line x1="580" y1="322" x2="580" y2="334" stroke="#8a38e8" stroke-width="2"/><line x1="580" y1="352.8" x2="580" y2="355.5" stroke="#8a38e8" stroke-width="2"/><line x1="580" y1="355.5" x2="580" y2="361.5" stroke="#22ace8" stroke-width="2"/><circle cx="580.0" cy="334.0" r="3.1" fill="url(#gaN)"/><circle cx="580.0" cy="352.8" r="3.1" fill="url(#gaN)"/><circle cx="580.7" cy="361.5" r="3.3" fill="url(#gaZn)"/><line x1="600.4" y1="318" x2="600.4" y2="322" stroke="#22ace8" stroke-width="2"/><line x1="600.4" y1="322" x2="600.4" y2="334" stroke="#8a38e8" stroke-width="2"/><line x1="600.4" y1="352.8" x2="600.4" y2="355.5" stroke="#8a38e8" stroke-width="2"/><line x1="600.4" y1="355.5" x2="600.4" y2="361.5" stroke="#22ace8" stroke-width="2"/><circle cx="600.4" cy="334.0" r="3.1" fill="url(#gaN)"/><circle cx="600.4" cy="352.8" r="3.1" fill="url(#gaN)"/><circle cx="600.4" cy="361.5" r="3.3" fill="url(#gaZn)"/><line x1="484.0" y1="245.0" x2="488.3" y2="246.5" stroke="#c41e72" stroke-width="1.8"/><line x1="488.3" y1="246.5" x2="492.6" y2="248.0" stroke="#22ace8" stroke-width="1.8"/><line x1="492.6" y1="248.0" x2="496.9" y2="246.5" stroke="#c41e72" stroke-width="1.8"/><line x1="496.9" y1="246.5" x2="501.2" y2="245.0" stroke="#22ace8" stroke-width="1.8"/><line x1="501.2" y1="245.0" x2="505.5" y2="246.5" stroke="#c41e72" stroke-width="1.8"/><line x1="505.5" y1="246.5" x2="509.8" y2="248.0" stroke="#22ace8" stroke-width="1.8"/><line x1="509.8" y1="248.0" x2="514.1" y2="246.5" stroke="#c41e72" stroke-width="1.8"/><line x1="514.1" y1="246.5" x2="518.4" y2="245.0" stroke="#22ace8" stroke-width="1.8"/><line x1="518.4" y1="245.0" x2="522.7" y2="246.5" stroke="#c41e72" stroke-width="1.8"/><line x1="522.7" y1="246.5" x2="527.0" y2="248.0" stroke="#22ace8" stroke-width="1.8"/><line x1="527.0" y1="248.0" x2="531.3" y2="246.5" stroke="#c41e72" stroke-width="1.8"/><line x1="531.3" y1="246.5" x2="535.6" y2="245.0" stroke="#22ace8" stroke-width="1.8"/><line x1="535.6" y1="245.0" x2="539.9" y2="246.5" stroke="#c41e72" stroke-width="1.8"/><line x1="539.9" y1="246.5" x2="544.2" y2="248.0" stroke="#22ace8" stroke-width="1.8"/><line x1="544.2" y1="248.0" x2="548.5" y2="246.5" stroke="#c41e72" stroke-width="1.8"/><line x1="548.5" y1="246.5" x2="552.8" y2="245.0" stroke="#22ace8" stroke-width="1.8"/><line x1="552.8" y1="245.0" x2="557.1" y2="246.5" stroke="#c41e72" stroke-width="1.8"/><line x1="557.1" y1="246.5" x2="561.4" y2="248.0" stroke="#22ace8" stroke-width="1.8"/><line x1="561.4" y1="248.0" x2="565.7" y2="246.5" stroke="#c41e72" stroke-width="1.8"/><line x1="565.7" y1="246.5" x2="570.0" y2="245.0" stroke="#22ace8" stroke-width="1.8"/><line x1="570.0" y1="245.0" x2="574.3" y2="246.5" stroke="#c41e72" stroke-width="1.8"/><line x1="574.3" y1="246.5" x2="578.6" y2="248.0" stroke="#22ace8" stroke-width="1.8"/><line x1="578.6" y1="248.0" x2="582.9" y2="246.5" stroke="#c41e72" stroke-width="1.8"/><line x1="582.9" y1="246.5" x2="587.2" y2="245.0" stroke="#22ace8" stroke-width="1.8"/><line x1="587.2" y1="245.0" x2="591.5" y2="246.5" stroke="#c41e72" stroke-width="1.8"/><line x1="591.5" y1="246.5" x2="595.8" y2="248.0" stroke="#22ace8" stroke-width="1.8"/><line x1="595.8" y1="248.0" x2="600.1" y2="246.5" stroke="#c41e72" stroke-width="1.8"/><line x1="600.1" y1="246.5" x2="604.4" y2="245.0" stroke="#22ace8" stroke-width="1.8"/><line x1="604.4" y1="245.0" x2="608.7" y2="246.5" stroke="#c41e72" stroke-width="1.8"/><line x1="608.7" y1="246.5" x2="613.0" y2="248.0" stroke="#22ace8" stroke-width="1.8"/><line x1="613.0" y1="248.0" x2="617.3" y2="246.5" stroke="#c41e72" stroke-width="1.8"/><line x1="617.3" y1="246.5" x2="621.6" y2="245.0" stroke="#22ace8" stroke-width="1.8"/><line x1="487.7" y1="237.0" x2="492.2" y2="241.0" stroke="#22ace8" stroke-width="1.8"/><line x1="492.2" y1="241.0" x2="496.7" y2="245.0" stroke="#c41e72" stroke-width="1.8"/><line x1="514.8" y1="237.0" x2="519.3" y2="241.0" stroke="#22ace8" stroke-width="1.8"/><line x1="519.3" y1="241.0" x2="523.8" y2="245.0" stroke="#c41e72" stroke-width="1.8"/><line x1="532.7" y1="237.0" x2="537.2" y2="241.0" stroke="#22ace8" stroke-width="1.8"/><line x1="537.2" y1="241.0" x2="541.7" y2="245.0" stroke="#c41e72" stroke-width="1.8"/><line x1="556.7" y1="237.0" x2="561.2" y2="241.0" stroke="#22ace8" stroke-width="1.8"/><line x1="561.2" y1="241.0" x2="565.7" y2="245.0" stroke="#c41e72" stroke-width="1.8"/><line x1="578.0" y1="237.0" x2="582.5" y2="241.0" stroke="#22ace8" stroke-width="1.8"/><line x1="582.5" y1="241.0" x2="587.0" y2="245.0" stroke="#c41e72" stroke-width="1.8"/><line x1="600.0" y1="237.0" x2="604.5" y2="241.0" stroke="#22ace8" stroke-width="1.8"/><line x1="604.5" y1="241.0" x2="609.0" y2="245.0" stroke="#c41e72" stroke-width="1.8"/><circle cx="488.0" cy="242.3" r="3.0" fill="url(#gsO)"/><circle cx="496.6" cy="241.3" r="3.0" fill="url(#gsO)"/><circle cx="505.2" cy="242.3" r="3.0" fill="url(#gsO)"/><circle cx="513.8" cy="242.7" r="3.0" fill="url(#gsO)"/><circle cx="522.4" cy="242.0" r="3.0" fill="url(#gsO)"/><circle cx="531.0" cy="242.5" r="3.0" fill="url(#gsO)"/><circle cx="539.6" cy="242.3" r="3.0" fill="url(#gsO)"/><circle cx="548.2" cy="241.1" r="3.0" fill="url(#gsO)"/><circle cx="556.8" cy="242.5" r="3.0" fill="url(#gsO)"/><circle cx="565.4" cy="242.2" r="3.0" fill="url(#gsO)"/><circle cx="574.0" cy="241.6" r="3.0" fill="url(#gsO)"/><circle cx="582.6" cy="241.1" r="3.0" fill="url(#gsO)"/><circle cx="591.2" cy="242.7" r="3.0" fill="url(#gsO)"/><circle cx="599.8" cy="241.9" r="3.0" fill="url(#gsO)"/><circle cx="608.4" cy="242.4" r="3.0" fill="url(#gsO)"/><circle cx="617.0" cy="242.8" r="3.0" fill="url(#gsO)"/><circle cx="484.0" cy="245.0" r="3.5" fill="url(#gsO)"/><circle cx="492.6" cy="248.0" r="3.5" fill="url(#gsO)"/><circle cx="501.2" cy="245.0" r="3.5" fill="url(#gsO)"/><circle cx="509.8" cy="248.0" r="3.5" fill="url(#gsO)"/><circle cx="518.4" cy="245.0" r="3.5" fill="url(#gsO)"/><circle cx="527.0" cy="248.0" r="3.5" fill="url(#gsO)"/><circle cx="535.6" cy="245.0" r="3.5" fill="url(#gsO)"/><circle cx="544.2" cy="248.0" r="3.5" fill="url(#gsO)"/><circle cx="552.8" cy="245.0" r="3.5" fill="url(#gsO)"/><circle cx="561.4" cy="248.0" r="3.5" fill="url(#gsO)"/><circle cx="570.0" cy="245.0" r="3.5" fill="url(#gsO)"/><circle cx="578.6" cy="248.0" r="3.5" fill="url(#gsO)"/><circle cx="587.2" cy="245.0" r="3.5" fill="url(#gsO)"/><circle cx="595.8" cy="248.0" r="3.5" fill="url(#gsO)"/><circle cx="604.4" cy="245.0" r="3.5" fill="url(#gsO)"/><circle cx="613.0" cy="248.0" r="3.5" fill="url(#gsO)"/><circle cx="487.7" cy="238.6" r="3.5" fill="url(#gaZn)"/><circle cx="514.8" cy="239.3" r="3.5" fill="url(#gaZn)"/><circle cx="532.7" cy="237.7" r="3.5" fill="url(#gaZn)"/><circle cx="556.7" cy="238.9" r="3.5" fill="url(#gaZn)"/><circle cx="578.0" cy="237.8" r="3.5" fill="url(#gaZn)"/><circle cx="600.0" cy="239.3" r="3.5" fill="url(#gaZn)"/><circle cx="496.0" cy="252.0" r="3.3" fill="url(#gaZn)"/><circle cx="511.6" cy="252.0" r="3.3" fill="url(#gaZn)"/><circle cx="520.3" cy="252.0" r="3.3" fill="url(#gaZn)"/><circle cx="536.4" cy="252.0" r="3.3" fill="url(#gaZn)"/><circle cx="555.3" cy="252.0" r="3.3" fill="url(#gaZn)"/><circle cx="566.0" cy="252.0" r="3.3" fill="url(#gaZn)"/><circle cx="586.0" cy="252.0" r="3.3" fill="url(#gaZn)"/><circle cx="607.0" cy="252.0" r="3.3" fill="url(#gaZn)"/><circle cx="496.7" cy="304.7" r="3.4" fill="url(#gaZn)"/><circle cx="512.5" cy="304.7" r="3.4" fill="url(#gaZn)"/><circle cx="521.3" cy="304.7" r="3.4" fill="url(#gaZn)"/><circle cx="538.3" cy="304.7" r="3.4" fill="url(#gaZn)"/><circle cx="557.0" cy="304.7" r="3.4" fill="url(#gaZn)"/><circle cx="578.7" cy="304.7" r="3.4" fill="url(#gaZn)"/><circle cx="601.0" cy="304.7" r="3.4" fill="url(#gaZn)"/><line x1="482.0" y1="311.0" x2="485.8" y2="311.0" stroke="#d82858" stroke-width="2.4"/><line x1="485.8" y1="311.0" x2="489.6" y2="311.0" stroke="#d82858" stroke-width="2.4"/><line x1="489.6" y1="311.0" x2="493.4" y2="311.0" stroke="#d82858" stroke-width="2.4"/><line x1="493.4" y1="311.0" x2="497.2" y2="311.0" stroke="#d82858" stroke-width="2.4"/><line x1="497.2" y1="311.0" x2="501.0" y2="311.0" stroke="#d82858" stroke-width="2.4"/><line x1="501.0" y1="311.0" x2="504.8" y2="311.0" stroke="#d82858" stroke-width="2.4"/><line x1="504.8" y1="311.0" x2="508.6" y2="311.0" stroke="#d82858" stroke-width="2.4"/><line x1="508.6" y1="311.0" x2="512.4" y2="311.0" stroke="#d82858" stroke-width="2.4"/><line x1="512.4" y1="311.0" x2="516.2" y2="311.0" stroke="#d82858" stroke-width="2.4"/><line x1="516.2" y1="311.0" x2="520.0" y2="311.0" stroke="#d82858" stroke-width="2.4"/><line x1="520.0" y1="311.0" x2="523.8" y2="311.0" stroke="#d82858" stroke-width="2.4"/><line x1="523.8" y1="311.0" x2="527.6" y2="311.0" stroke="#d82858" stroke-width="2.4"/><line x1="527.6" y1="311.0" x2="531.4" y2="311.0" stroke="#d82858" stroke-width="2.4"/><line x1="531.4" y1="311.0" x2="535.2" y2="311.0" stroke="#d82858" stroke-width="2.4"/><line x1="535.2" y1="311.0" x2="539.0" y2="311.0" stroke="#d82858" stroke-width="2.4"/><line x1="539.0" y1="311.0" x2="542.8" y2="311.0" stroke="#d82858" stroke-width="2.4"/><line x1="542.8" y1="311.0" x2="546.6" y2="311.0" stroke="#d82858" stroke-width="2.4"/><line x1="546.6" y1="311.0" x2="550.4" y2="311.0" stroke="#d82858" stroke-width="2.4"/><line x1="550.4" y1="311.0" x2="554.2" y2="311.0" stroke="#d82858" stroke-width="2.4"/><line x1="554.2" y1="311.0" x2="558.0" y2="311.0" stroke="#d82858" stroke-width="2.4"/><line x1="558.0" y1="311.0" x2="561.8" y2="311.0" stroke="#d82858" stroke-width="2.4"/><line x1="561.8" y1="311.0" x2="565.6" y2="311.0" stroke="#d82858" stroke-width="2.4"/><line x1="565.6" y1="311.0" x2="569.4" y2="311.0" stroke="#d82858" stroke-width="2.4"/><line x1="569.4" y1="311.0" x2="573.2" y2="311.0" stroke="#d82858" stroke-width="2.4"/><line x1="573.2" y1="311.0" x2="577.0" y2="311.0" stroke="#d82858" stroke-width="2.4"/><line x1="577.0" y1="311.0" x2="580.8" y2="311.0" stroke="#d82858" stroke-width="2.4"/><line x1="580.8" y1="311.0" x2="584.6" y2="311.0" stroke="#d82858" stroke-width="2.4"/><line x1="584.6" y1="311.0" x2="588.4" y2="311.0" stroke="#d82858" stroke-width="2.4"/><line x1="588.4" y1="311.0" x2="592.2" y2="311.0" stroke="#d82858" stroke-width="2.4"/><line x1="592.2" y1="311.0" x2="596.0" y2="311.0" stroke="#d82858" stroke-width="2.4"/><line x1="596.0" y1="311.0" x2="599.8" y2="311.0" stroke="#d82858" stroke-width="2.4"/><line x1="599.8" y1="311.0" x2="603.6" y2="311.0" stroke="#d82858" stroke-width="2.4"/><line x1="603.6" y1="311.0" x2="607.4" y2="311.0" stroke="#d82858" stroke-width="2.4"/><line x1="607.4" y1="311.0" x2="611.2" y2="311.0" stroke="#d82858" stroke-width="2.4"/><line x1="611.2" y1="311.0" x2="615.0" y2="311.0" stroke="#d82858" stroke-width="2.4"/><line x1="615.0" y1="311.0" x2="618.8" y2="311.0" stroke="#d82858" stroke-width="2.4"/><line x1="618.8" y1="311.0" x2="622.6" y2="311.0" stroke="#d82858" stroke-width="2.4"/><line x1="622.6" y1="311.0" x2="626.4" y2="311.0" stroke="#d82858" stroke-width="2.4"/><circle cx="482.0" cy="311.9" r="3.6" fill="url(#gaO)"/><circle cx="489.6" cy="310.0" r="3.6" fill="url(#gaB)"/><circle cx="497.2" cy="310.1" r="3.6" fill="url(#gaO)"/><circle cx="504.8" cy="310.3" r="3.6" fill="url(#gaO)"/><circle cx="512.4" cy="312.1" r="3.6" fill="url(#gaO)"/><circle cx="520.0" cy="310.8" r="3.6" fill="url(#gaB)"/><circle cx="527.6" cy="311.3" r="3.6" fill="url(#gaO)"/><circle cx="535.2" cy="310.5" r="3.6" fill="url(#gaO)"/><circle cx="542.8" cy="311.0" r="3.6" fill="url(#gaO)"/><circle cx="550.4" cy="310.7" r="3.6" fill="url(#gaB)"/><circle cx="558.0" cy="310.6" r="3.6" fill="url(#gaO)"/><circle cx="565.6" cy="311.2" r="3.6" fill="url(#gaO)"/><circle cx="573.2" cy="311.2" r="3.6" fill="url(#gaO)"/><circle cx="580.8" cy="312.0" r="3.6" fill="url(#gaB)"/><circle cx="588.4" cy="311.4" r="3.6" fill="url(#gaO)"/><circle cx="596.0" cy="312.0" r="3.6" fill="url(#gaO)"/><circle cx="603.6" cy="311.9" r="3.6" fill="url(#gaO)"/><circle cx="611.2" cy="312.2" r="3.6" fill="url(#gaB)"/><circle cx="618.8" cy="311.4" r="3.6" fill="url(#gaO)"/><circle cx="492.6" cy="317.0" r="3.4" fill="url(#gaZn)"/><circle cx="518.4" cy="317.0" r="3.4" fill="url(#gaZn)"/><circle cx="536.0" cy="317.0" r="3.4" fill="url(#gaZn)"/><circle cx="558.8" cy="317.0" r="3.4" fill="url(#gaZn)"/><circle cx="578.7" cy="317.0" r="3.4" fill="url(#gaZn)"/><circle cx="599.3" cy="317.0" r="3.4" fill="url(#gaZn)"/><path d="M485.0,364.0 L494.0,364.5 L498.5,371.5 L494.0,379.0 L485.0,379.5 L480.0,372.0Z" fill="none" stroke="#d83060" stroke-width="2.2"/><circle cx="485.0" cy="364.0" r="3.0" fill="url(#gaO)"/><circle cx="494.0" cy="364.5" r="3.0" fill="url(#gaO)"/><circle cx="498.5" cy="371.5" r="3.0" fill="url(#gaO)"/><circle cx="494.0" cy="379.0" r="3.0" fill="url(#gaO)"/><circle cx="485.0" cy="379.5" r="3.0" fill="url(#gaO)"/><circle cx="480.0" cy="372.0" r="3.0" fill="url(#gaO)"/><path d="M505.5,364.0 L514.5,364.5 L519.0,371.5 L514.5,379.0 L505.5,379.5 L500.5,372.0Z" fill="none" stroke="#d83060" stroke-width="2.2"/><circle cx="505.5" cy="364.0" r="3.0" fill="url(#gaO)"/><circle cx="514.5" cy="364.5" r="3.0" fill="url(#gaO)"/><circle cx="519.0" cy="371.5" r="3.0" fill="url(#gaO)"/><circle cx="514.5" cy="379.0" r="3.0" fill="url(#gaO)"/><circle cx="505.5" cy="379.5" r="3.0" fill="url(#gaB)"/><circle cx="500.5" cy="372.0" r="3.0" fill="url(#gaO)"/><path d="M526.0,364.0 L535.0,364.5 L539.5,371.5 L535.0,379.0 L526.0,379.5 L521.0,372.0Z" fill="none" stroke="#d83060" stroke-width="2.2"/><circle cx="526.0" cy="364.0" r="3.0" fill="url(#gaO)"/><circle cx="535.0" cy="364.5" r="3.0" fill="url(#gaO)"/><circle cx="539.5" cy="371.5" r="3.0" fill="url(#gaO)"/><circle cx="535.0" cy="379.0" r="3.0" fill="url(#gaO)"/><circle cx="526.0" cy="379.5" r="3.0" fill="url(#gaO)"/><circle cx="521.0" cy="372.0" r="3.0" fill="url(#gaO)"/><path d="M546.5,364.0 L555.5,364.5 L560.0,371.5 L555.5,379.0 L546.5,379.5 L541.5,372.0Z" fill="none" stroke="#d83060" stroke-width="2.2"/><circle cx="546.5" cy="364.0" r="3.0" fill="url(#gaO)"/><circle cx="555.5" cy="364.5" r="3.0" fill="url(#gaO)"/><circle cx="560.0" cy="371.5" r="3.0" fill="url(#gaO)"/><circle cx="555.5" cy="379.0" r="3.0" fill="url(#gaO)"/><circle cx="546.5" cy="379.5" r="3.0" fill="url(#gaB)"/><circle cx="541.5" cy="372.0" r="3.0" fill="url(#gaO)"/><path d="M567.0,364.0 L576.0,364.5 L580.5,371.5 L576.0,379.0 L567.0,379.5 L562.0,372.0Z" fill="none" stroke="#d83060" stroke-width="2.2"/><circle cx="567.0" cy="364.0" r="3.0" fill="url(#gaO)"/><circle cx="576.0" cy="364.5" r="3.0" fill="url(#gaO)"/><circle cx="580.5" cy="371.5" r="3.0" fill="url(#gaO)"/><circle cx="576.0" cy="379.0" r="3.0" fill="url(#gaO)"/><circle cx="567.0" cy="379.5" r="3.0" fill="url(#gaO)"/><circle cx="562.0" cy="372.0" r="3.0" fill="url(#gaO)"/><path d="M587.5,364.0 L596.5,364.5 L601.0,371.5 L596.5,379.0 L587.5,379.5 L582.5,372.0Z" fill="none" stroke="#d83060" stroke-width="2.2"/><circle cx="587.5" cy="364.0" r="3.0" fill="url(#gaO)"/><circle cx="596.5" cy="364.5" r="3.0" fill="url(#gaO)"/><circle cx="601.0" cy="371.5" r="3.0" fill="url(#gaO)"/><circle cx="596.5" cy="379.0" r="3.0" fill="url(#gaO)"/><circle cx="587.5" cy="379.5" r="3.0" fill="url(#gaB)"/><circle cx="582.5" cy="372.0" r="3.0" fill="url(#gaO)"/><path d="M608.0,364.0 L617.0,364.5 L621.5,371.5 L617.0,379.0 L608.0,379.5 L603.0,372.0Z" fill="none" stroke="#d83060" stroke-width="2.2"/><circle cx="608.0" cy="364.0" r="3.0" fill="url(#gaO)"/><circle cx="617.0" cy="364.5" r="3.0" fill="url(#gaO)"/><circle cx="621.5" cy="371.5" r="3.0" fill="url(#gaO)"/><circle cx="617.0" cy="379.0" r="3.0" fill="url(#gaO)"/><circle cx="608.0" cy="379.5" r="3.0" fill="url(#gaO)"/><circle cx="603.0" cy="372.0" r="3.0" fill="url(#gaO)"/><line x1="494.3" y1="361.5" x2="495.3" y2="371" stroke="#22ace8" stroke-width="2"/><circle cx="495.3" cy="371.0" r="3.2" fill="url(#gaZn)"/><line x1="519.5" y1="361.5" x2="520.5" y2="371" stroke="#22ace8" stroke-width="2"/><circle cx="520.5" cy="371.0" r="3.2" fill="url(#gaZn)"/><line x1="537.1" y1="361.5" x2="538.1" y2="371" stroke="#22ace8" stroke-width="2"/><circle cx="538.1" cy="371.0" r="3.2" fill="url(#gaZn)"/><line x1="560" y1="361.5" x2="561" y2="371" stroke="#22ace8" stroke-width="2"/><circle cx="561.0" cy="371.0" r="3.2" fill="url(#gaZn)"/><line x1="580" y1="361.5" x2="581" y2="371" stroke="#22ace8" stroke-width="2"/><circle cx="581.0" cy="371.0" r="3.2" fill="url(#gaZn)"/><line x1="600.4" y1="361.5" x2="601.4" y2="371" stroke="#22ace8" stroke-width="2"/><circle cx="601.4" cy="371.0" r="3.2" fill="url(#gaZn)"/><circle cx="500.0" cy="383.0" r="3.0" fill="url(#gaZn)"/><circle cx="527.0" cy="383.0" r="3.0" fill="url(#gaZn)"/><circle cx="548.0" cy="383.0" r="3.0" fill="url(#gaZn)"/><circle cx="569.0" cy="383.0" r="3.0" fill="url(#gaZn)"/><circle cx="590.0" cy="383.0" r="3.0" fill="url(#gaZn)"/><circle cx="611.0" cy="383.0" r="3.0" fill="url(#gaZn)"/><circle cx="482.5" cy="378.0" r="3.2" fill="url(#gaO)"/><path d="M562,231 L484,231 Q479,231 479,236 L479,253 Q479,258 484,258 L615.5,258 Q620.5,258 620.5,253 L620.5,236 Q620.5,231 615.5,231 L597,231 L653,151 Z" fill="none" stroke="#2c90e4" stroke-width="2.6" stroke-linejoin="round"/><rect x="598.8" y="43.8" width="133.7" height="106.8" rx="15" ry="15" fill="#fafafa" stroke="#18a8ea" stroke-width="2.6" stroke-dasharray="7.4,5.6"/><line x1="634.4" y1="50.0" x2="630.9" y2="55.3" stroke="#e04848" stroke-width="1.9"/><line x1="630.9" y1="55.3" x2="627.5" y2="60.6" stroke="#f2d29e" stroke-width="1.9"/><line x1="676.2" y1="50.0" x2="672.8" y2="55.3" stroke="#e04848" stroke-width="1.9"/><line x1="672.8" y1="55.3" x2="669.4" y2="60.6" stroke="#f2d29e" stroke-width="1.9"/><line x1="717.5" y1="50.0" x2="714.4" y2="55.3" stroke="#e04848" stroke-width="1.9"/><line x1="714.4" y1="55.3" x2="711.2" y2="60.6" stroke="#f2d29e" stroke-width="1.9"/><line x1="615.0" y1="60.6" x2="621.2" y2="60.6" stroke="#e04848" stroke-width="1.9"/><line x1="621.2" y1="60.6" x2="627.5" y2="60.6" stroke="#f2d29e" stroke-width="1.9"/><line x1="615.0" y1="60.6" x2="610.6" y2="66.2" stroke="#e04848" stroke-width="1.9"/><line x1="610.6" y1="66.2" x2="606.2" y2="71.9" stroke="#18c2e6" stroke-width="1.9"/><line x1="627.5" y1="60.6" x2="630.9" y2="66.2" stroke="#f2d29e" stroke-width="1.9"/><line x1="630.9" y1="66.2" x2="634.4" y2="71.9" stroke="#e04848" stroke-width="1.9"/><line x1="657.5" y1="60.6" x2="663.4" y2="60.6" stroke="#e04848" stroke-width="1.9"/><line x1="663.4" y1="60.6" x2="669.4" y2="60.6" stroke="#f2d29e" stroke-width="1.9"/><line x1="657.5" y1="60.6" x2="652.8" y2="66.2" stroke="#e04848" stroke-width="1.9"/><line x1="652.8" y1="66.2" x2="648.1" y2="71.9" stroke="#18c2e6" stroke-width="1.9"/><line x1="669.4" y1="60.6" x2="672.8" y2="66.2" stroke="#f2d29e" stroke-width="1.9"/><line x1="672.8" y1="66.2" x2="676.2" y2="71.9" stroke="#e04848" stroke-width="1.9"/><line x1="698.8" y1="60.6" x2="705.0" y2="60.6" stroke="#e04848" stroke-width="1.9"/><line x1="705.0" y1="60.6" x2="711.2" y2="60.6" stroke="#f2d29e" stroke-width="1.9"/><line x1="698.8" y1="60.6" x2="694.4" y2="66.2" stroke="#e04848" stroke-width="1.9"/><line x1="694.4" y1="66.2" x2="690.0" y2="71.9" stroke="#18c2e6" stroke-width="1.9"/><line x1="711.2" y1="60.6" x2="714.4" y2="66.2" stroke="#f2d29e" stroke-width="1.9"/><line x1="714.4" y1="66.2" x2="717.5" y2="71.9" stroke="#e04848" stroke-width="1.9"/><line x1="606.2" y1="71.9" x2="609.7" y2="78.1" stroke="#18c2e6" stroke-width="1.9"/><line x1="609.7" y1="78.1" x2="613.1" y2="84.4" stroke="#e04848" stroke-width="1.9"/><line x1="634.4" y1="71.9" x2="641.2" y2="71.9" stroke="#e04848" stroke-width="1.9"/><line x1="641.2" y1="71.9" x2="648.1" y2="71.9" stroke="#18c2e6" stroke-width="1.9"/><line x1="634.4" y1="71.9" x2="630.9" y2="78.1" stroke="#e04848" stroke-width="1.9"/><line x1="630.9" y1="78.1" x2="627.5" y2="84.4" stroke="#18c2e6" stroke-width="1.9"/><line x1="648.1" y1="71.9" x2="651.6" y2="78.1" stroke="#18c2e6" stroke-width="1.9"/><line x1="651.6" y1="78.1" x2="655.0" y2="84.4" stroke="#e04848" stroke-width="1.9"/><line x1="676.2" y1="71.9" x2="683.1" y2="71.9" stroke="#e04848" stroke-width="1.9"/><line x1="683.1" y1="71.9" x2="690.0" y2="71.9" stroke="#18c2e6" stroke-width="1.9"/><line x1="676.2" y1="71.9" x2="672.8" y2="78.1" stroke="#e04848" stroke-width="1.9"/><line x1="672.8" y1="78.1" x2="669.4" y2="84.4" stroke="#18c2e6" stroke-width="1.9"/><line x1="690.0" y1="71.9" x2="693.4" y2="78.1" stroke="#18c2e6" stroke-width="1.9"/><line x1="693.4" y1="78.1" x2="696.9" y2="84.4" stroke="#e04848" stroke-width="1.9"/><line x1="717.5" y1="71.9" x2="714.7" y2="78.1" stroke="#e04848" stroke-width="1.9"/><line x1="714.7" y1="78.1" x2="711.9" y2="84.4" stroke="#18c2e6" stroke-width="1.9"/><line x1="613.1" y1="84.4" x2="620.3" y2="84.4" stroke="#e04848" stroke-width="1.9"/><line x1="620.3" y1="84.4" x2="627.5" y2="84.4" stroke="#18c2e6" stroke-width="1.9"/><line x1="613.1" y1="84.4" x2="610.0" y2="90.3" stroke="#e04848" stroke-width="1.9"/><line x1="610.0" y1="90.3" x2="606.9" y2="96.2" stroke="#f2d29e" stroke-width="1.9"/><line x1="627.5" y1="84.4" x2="631.9" y2="90.3" stroke="#18c2e6" stroke-width="1.9"/><line x1="631.9" y1="90.3" x2="636.2" y2="96.2" stroke="#e04848" stroke-width="1.9"/><line x1="655.0" y1="84.4" x2="662.2" y2="84.4" stroke="#e04848" stroke-width="1.9"/><line x1="662.2" y1="84.4" x2="669.4" y2="84.4" stroke="#18c2e6" stroke-width="1.9"/><line x1="655.0" y1="84.4" x2="651.6" y2="90.3" stroke="#e04848" stroke-width="1.9"/><line x1="651.6" y1="90.3" x2="648.1" y2="96.2" stroke="#f2d29e" stroke-width="1.9"/><line x1="669.4" y1="84.4" x2="673.8" y2="90.3" stroke="#18c2e6" stroke-width="1.9"/><line x1="673.8" y1="90.3" x2="678.1" y2="96.2" stroke="#e04848" stroke-width="1.9"/><line x1="696.9" y1="84.4" x2="704.4" y2="84.4" stroke="#e04848" stroke-width="1.9"/><line x1="704.4" y1="84.4" x2="711.9" y2="84.4" stroke="#18c2e6" stroke-width="1.9"/><line x1="696.9" y1="84.4" x2="693.4" y2="90.3" stroke="#e04848" stroke-width="1.9"/><line x1="693.4" y1="90.3" x2="690.0" y2="96.2" stroke="#f2d29e" stroke-width="1.9"/><line x1="711.9" y1="84.4" x2="715.9" y2="90.3" stroke="#18c2e6" stroke-width="1.9"/><line x1="715.9" y1="90.3" x2="720.0" y2="96.2" stroke="#e04848" stroke-width="1.9"/><line x1="606.9" y1="96.2" x2="610.0" y2="101.9" stroke="#f2d29e" stroke-width="1.9"/><line x1="610.0" y1="101.9" x2="613.1" y2="107.5" stroke="#e04848" stroke-width="1.9"/><line x1="636.2" y1="96.2" x2="642.2" y2="96.2" stroke="#e04848" stroke-width="1.9"/><line x1="642.2" y1="96.2" x2="648.1" y2="96.2" stroke="#f2d29e" stroke-width="1.9"/><line x1="636.2" y1="96.2" x2="631.9" y2="101.9" stroke="#e04848" stroke-width="1.9"/><line x1="631.9" y1="101.9" x2="627.5" y2="107.5" stroke="#18c2e6" stroke-width="1.9"/><line x1="648.1" y1="96.2" x2="651.6" y2="101.9" stroke="#f2d29e" stroke-width="1.9"/><line x1="651.6" y1="101.9" x2="655.0" y2="107.5" stroke="#e04848" stroke-width="1.9"/><line x1="678.1" y1="96.2" x2="684.1" y2="96.2" stroke="#e04848" stroke-width="1.9"/><line x1="684.1" y1="96.2" x2="690.0" y2="96.2" stroke="#f2d29e" stroke-width="1.9"/><line x1="678.1" y1="96.2" x2="673.8" y2="101.9" stroke="#e04848" stroke-width="1.9"/><line x1="673.8" y1="101.9" x2="669.4" y2="107.5" stroke="#18c2e6" stroke-width="1.9"/><line x1="690.0" y1="96.2" x2="693.4" y2="101.9" stroke="#f2d29e" stroke-width="1.9"/><line x1="693.4" y1="101.9" x2="696.9" y2="107.5" stroke="#e04848" stroke-width="1.9"/><line x1="720.0" y1="96.2" x2="715.6" y2="101.9" stroke="#e04848" stroke-width="1.9"/><line x1="715.6" y1="101.9" x2="711.2" y2="107.5" stroke="#18c2e6" stroke-width="1.9"/><line x1="613.1" y1="107.5" x2="620.3" y2="107.5" stroke="#e04848" stroke-width="1.9"/><line x1="620.3" y1="107.5" x2="627.5" y2="107.5" stroke="#18c2e6" stroke-width="1.9"/><line x1="613.1" y1="107.5" x2="609.7" y2="113.8" stroke="#e04848" stroke-width="1.9"/><line x1="609.7" y1="113.8" x2="606.2" y2="120.0" stroke="#18c2e6" stroke-width="1.9"/><line x1="627.5" y1="107.5" x2="630.9" y2="113.8" stroke="#18c2e6" stroke-width="1.9"/><line x1="630.9" y1="113.8" x2="634.4" y2="120.0" stroke="#e04848" stroke-width="1.9"/><line x1="655.0" y1="107.5" x2="662.2" y2="107.5" stroke="#e04848" stroke-width="1.9"/><line x1="662.2" y1="107.5" x2="669.4" y2="107.5" stroke="#18c2e6" stroke-width="1.9"/><line x1="655.0" y1="107.5" x2="651.6" y2="113.8" stroke="#e04848" stroke-width="1.9"/><line x1="651.6" y1="113.8" x2="648.1" y2="120.0" stroke="#18c2e6" stroke-width="1.9"/><line x1="669.4" y1="107.5" x2="672.8" y2="113.8" stroke="#18c2e6" stroke-width="1.9"/><line x1="672.8" y1="113.8" x2="676.2" y2="120.0" stroke="#e04848" stroke-width="1.9"/><line x1="696.9" y1="107.5" x2="704.1" y2="107.5" stroke="#e04848" stroke-width="1.9"/><line x1="704.1" y1="107.5" x2="711.2" y2="107.5" stroke="#18c2e6" stroke-width="1.9"/><line x1="696.9" y1="107.5" x2="693.4" y2="113.8" stroke="#e04848" stroke-width="1.9"/><line x1="693.4" y1="113.8" x2="690.0" y2="120.0" stroke="#18c2e6" stroke-width="1.9"/><line x1="711.2" y1="107.5" x2="714.4" y2="113.8" stroke="#18c2e6" stroke-width="1.9"/><line x1="714.4" y1="113.8" x2="717.5" y2="120.0" stroke="#e04848" stroke-width="1.9"/><line x1="606.2" y1="120.0" x2="610.6" y2="125.9" stroke="#18c2e6" stroke-width="1.9"/><line x1="610.6" y1="125.9" x2="615.0" y2="131.9" stroke="#e04848" stroke-width="1.9"/><line x1="634.4" y1="120.0" x2="641.2" y2="120.0" stroke="#e04848" stroke-width="1.9"/><line x1="641.2" y1="120.0" x2="648.1" y2="120.0" stroke="#18c2e6" stroke-width="1.9"/><line x1="634.4" y1="120.0" x2="630.9" y2="125.9" stroke="#e04848" stroke-width="1.9"/><line x1="630.9" y1="125.9" x2="627.5" y2="131.9" stroke="#f2d29e" stroke-width="1.9"/><line x1="648.1" y1="120.0" x2="652.8" y2="125.9" stroke="#18c2e6" stroke-width="1.9"/><line x1="652.8" y1="125.9" x2="657.5" y2="131.9" stroke="#e04848" stroke-width="1.9"/><line x1="676.2" y1="120.0" x2="683.1" y2="120.0" stroke="#e04848" stroke-width="1.9"/><line x1="683.1" y1="120.0" x2="690.0" y2="120.0" stroke="#18c2e6" stroke-width="1.9"/><line x1="676.2" y1="120.0" x2="672.8" y2="125.9" stroke="#e04848" stroke-width="1.9"/><line x1="672.8" y1="125.9" x2="669.4" y2="131.9" stroke="#f2d29e" stroke-width="1.9"/><line x1="690.0" y1="120.0" x2="694.4" y2="125.9" stroke="#18c2e6" stroke-width="1.9"/><line x1="694.4" y1="125.9" x2="698.8" y2="131.9" stroke="#e04848" stroke-width="1.9"/><line x1="717.5" y1="120.0" x2="714.4" y2="125.9" stroke="#e04848" stroke-width="1.9"/><line x1="714.4" y1="125.9" x2="711.2" y2="131.9" stroke="#f2d29e" stroke-width="1.9"/><line x1="615.0" y1="131.9" x2="621.2" y2="131.9" stroke="#e04848" stroke-width="1.9"/><line x1="621.2" y1="131.9" x2="627.5" y2="131.9" stroke="#f2d29e" stroke-width="1.9"/><line x1="627.5" y1="131.9" x2="630.9" y2="137.5" stroke="#f2d29e" stroke-width="1.9"/><line x1="630.9" y1="137.5" x2="634.4" y2="143.1" stroke="#e04848" stroke-width="1.9"/><line x1="657.5" y1="131.9" x2="663.4" y2="131.9" stroke="#e04848" stroke-width="1.9"/><line x1="663.4" y1="131.9" x2="669.4" y2="131.9" stroke="#f2d29e" stroke-width="1.9"/><line x1="669.4" y1="131.9" x2="672.8" y2="137.5" stroke="#f2d29e" stroke-width="1.9"/><line x1="672.8" y1="137.5" x2="676.2" y2="143.1" stroke="#e04848" stroke-width="1.9"/><line x1="698.8" y1="131.9" x2="705.0" y2="131.9" stroke="#e04848" stroke-width="1.9"/><line x1="705.0" y1="131.9" x2="711.2" y2="131.9" stroke="#f2d29e" stroke-width="1.9"/><line x1="711.2" y1="131.9" x2="714.4" y2="137.5" stroke="#f2d29e" stroke-width="1.9"/><line x1="714.4" y1="137.5" x2="717.5" y2="143.1" stroke="#e04848" stroke-width="1.9"/><circle cx="634.4" cy="50.0" r="2.8" fill="url(#gOred)"/><circle cx="676.2" cy="50.0" r="2.8" fill="url(#gOred)"/><circle cx="717.5" cy="50.0" r="2.8" fill="url(#gOred)"/><circle cx="615.0" cy="60.6" r="2.8" fill="url(#gOred)"/><circle cx="627.5" cy="60.6" r="3.2" fill="url(#gB)"/><circle cx="657.5" cy="60.6" r="2.8" fill="url(#gOred)"/><circle cx="669.4" cy="60.6" r="3.2" fill="url(#gB)"/><circle cx="698.8" cy="60.6" r="2.8" fill="url(#gOred)"/><circle cx="711.2" cy="60.6" r="3.2" fill="url(#gB)"/><circle cx="606.2" cy="71.9" r="3.2" fill="url(#gZn)"/><circle cx="634.4" cy="71.9" r="2.8" fill="url(#gOred)"/><circle cx="648.1" cy="71.9" r="3.2" fill="url(#gZn)"/><circle cx="676.2" cy="71.9" r="2.8" fill="url(#gOred)"/><circle cx="690.0" cy="71.9" r="3.2" fill="url(#gZn)"/><circle cx="717.5" cy="71.9" r="2.8" fill="url(#gOred)"/><circle cx="613.1" cy="84.4" r="2.8" fill="url(#gOred)"/><circle cx="627.5" cy="84.4" r="3.2" fill="url(#gZn)"/><circle cx="655.0" cy="84.4" r="2.8" fill="url(#gOred)"/><circle cx="669.4" cy="84.4" r="3.2" fill="url(#gZn)"/><circle cx="696.9" cy="84.4" r="2.8" fill="url(#gOred)"/><circle cx="711.9" cy="84.4" r="3.2" fill="url(#gZn)"/><circle cx="606.9" cy="96.2" r="3.2" fill="url(#gB)"/><circle cx="636.2" cy="96.2" r="2.8" fill="url(#gOred)"/><circle cx="648.1" cy="96.2" r="3.2" fill="url(#gB)"/><circle cx="678.1" cy="96.2" r="2.8" fill="url(#gOred)"/><circle cx="690.0" cy="96.2" r="3.2" fill="url(#gB)"/><circle cx="720.0" cy="96.2" r="2.8" fill="url(#gOred)"/><circle cx="613.1" cy="107.5" r="2.8" fill="url(#gOred)"/><circle cx="627.5" cy="107.5" r="3.2" fill="url(#gZn)"/><circle cx="655.0" cy="107.5" r="2.8" fill="url(#gOred)"/><circle cx="669.4" cy="107.5" r="3.2" fill="url(#gZn)"/><circle cx="696.9" cy="107.5" r="2.8" fill="url(#gOred)"/><circle cx="711.2" cy="107.5" r="3.2" fill="url(#gZn)"/><circle cx="606.2" cy="120.0" r="3.2" fill="url(#gZn)"/><circle cx="634.4" cy="120.0" r="2.8" fill="url(#gOred)"/><circle cx="648.1" cy="120.0" r="3.2" fill="url(#gZn)"/><circle cx="676.2" cy="120.0" r="2.8" fill="url(#gOred)"/><circle cx="690.0" cy="120.0" r="3.2" fill="url(#gZn)"/><circle cx="717.5" cy="120.0" r="2.8" fill="url(#gOred)"/><circle cx="615.0" cy="131.9" r="2.8" fill="url(#gOred)"/><circle cx="627.5" cy="131.9" r="3.2" fill="url(#gB)"/><circle cx="657.5" cy="131.9" r="2.8" fill="url(#gOred)"/><circle cx="669.4" cy="131.9" r="3.2" fill="url(#gB)"/><circle cx="698.8" cy="131.9" r="2.8" fill="url(#gOred)"/><circle cx="711.2" cy="131.9" r="3.2" fill="url(#gB)"/><circle cx="634.4" cy="143.1" r="2.8" fill="url(#gOred)"/><circle cx="676.2" cy="143.1" r="2.8" fill="url(#gOred)"/><circle cx="717.5" cy="143.1" r="2.8" fill="url(#gOred)"/><circle cx="175.8" cy="445.9" r="10.9" fill="url(#gLH)"/><text transform="translate(192.10,454.50) scale(0.9842,1)" font-family="'Liberation Sans', Arial, Helvetica, sans-serif" font-weight="bold" font-size="26.52" fill="#000">H</text><circle cx="232.1" cy="445.2" r="11.6" fill="url(#gLB)"/><text transform="translate(250.37,454.50) scale(1.0013,1)" font-family="'Liberation Sans', Arial, Helvetica, sans-serif" font-weight="bold" font-size="26.52" fill="#000">B</text><circle cx="288.9" cy="445.7" r="12.2" fill="url(#gLOred)"/><text transform="translate(305.92,454.73) scale(0.9847,1)" font-family="'Liberation Sans', Arial, Helvetica, sans-serif" font-weight="bold" font-size="27.32" fill="#000">O</text><circle cx="348.9" cy="445.2" r="11.7" fill="url(#gLC)"/><text transform="translate(365.81,454.73) scale(0.9052,1)" font-family="'Liberation Sans', Arial, Helvetica, sans-serif" font-weight="bold" font-size="27.32" fill="#000">C</text><circle cx="405.0" cy="445.0" r="11.9" fill="url(#gLN)"/><text transform="translate(423.34,454.50) scale(0.9650,1)" font-family="'Liberation Sans', Arial, Helvetica, sans-serif" font-weight="bold" font-size="26.52" fill="#000">N</text><circle cx="461.5" cy="445.0" r="11.7" fill="url(#gLZn)"/><text transform="translate(480.59,454.50) scale(1.0144,1)" font-family="'Liberation Sans', Arial, Helvetica, sans-serif" font-weight="bold" font-size="26.52" fill="#000">Zn</text><text transform="translate(132.68,490.26) scale(1.1109,1)" font-family="'Liberation Sans', Arial, Helvetica, sans-serif" font-weight="bold" font-size="23.81" fill="#000">BA = Boric Acid</text><text transform="translate(369.79,490.26) scale(1.1035,1)" font-family="'Liberation Sans', Arial, Helvetica, sans-serif" font-weight="bold" font-size="23.81" fill="#000">IM = Imidazole</text><polyline points="798.6,345.9 798.9,346.1 799.1,346.1 799.4,345.7 799.6,345.7 799.9,345.7 800.1,346.0 800.4,345.8 800.7,346.2 800.9,346.2 801.2,346.5 801.4,346.4 801.7,345.9 801.9,346.0 802.2,345.9 802.4,346.3 802.7,346.3 802.9,345.9 803.2,346.4 803.4,346.1 803.7,346.2 803.9,346.5 804.2,346.1 804.4,346.3 804.7,346.5 804.9,346.7 805.2,346.3 805.4,346.1 805.7,346.0 805.9,346.6 806.2,346.7 806.4,346.6 806.7,346.5 806.9,346.7 807.2,346.4 807.4,346.1 807.7,346.6 807.9,346.7 808.2,346.4 808.4,346.1 808.7,346.2 808.9,346.2 809.2,346.2 809.4,346.4 809.7,346.2 809.9,346.6 810.2,346.8 810.4,346.4 810.7,346.5 810.9,346.9 811.2,346.3 811.4,346.4 811.7,346.7 811.9,346.2 812.2,346.5 812.4,347.0 812.7,346.6 812.9,346.8 813.2,347.0 813.4,346.9 813.7,346.6 813.9,346.3 814.2,346.3 814.5,346.4 814.7,346.6 815.0,346.3 815.2,346.4 815.5,346.3 815.7,346.8 816.0,346.5 816.2,346.6 816.5,347.0 816.7,346.7 817.0,346.4 817.2,346.6 817.5,347.0 817.7,346.4 818.0,346.8 818.2,346.8 818.5,346.8 818.7,347.1 819.0,346.6 819.2,346.5 819.5,346.8 819.7,346.7 820.0,347.0 820.2,347.1 820.5,347.1 820.7,346.6 821.0,346.7 821.2,346.4 821.5,346.6 821.7,347.2 822.0,347.2 822.2,347.2 822.5,346.6 822.7,346.6 823.0,346.9 823.2,347.1 823.5,347.0 823.7,346.5 824.0,347.2 824.2,347.1 824.5,346.6 824.7,346.7 825.0,347.2 825.2,346.8 825.5,347.1 825.7,346.6 826.0,347.2 826.2,346.6 826.5,347.3 826.7,346.8 827.0,346.6 827.2,347.3 827.5,346.9 827.7,346.8 828.0,347.1 828.3,346.7 828.5,346.7 828.8,346.7 829.0,346.6 829.3,346.8 829.5,346.9 829.8,346.8 830.0,346.9 830.3,346.9 830.5,346.8 830.8,346.5 831.0,346.6 831.3,347.0 831.5,346.7 831.8,346.9 832.0,346.5 832.3,346.6 832.5,347.0 832.8,346.9 833.0,347.1 833.3,346.9 833.5,346.8 833.8,346.7 834.0,346.7 834.3,346.8 834.5,347.0 834.8,346.6 835.0,346.8 835.3,346.2 835.5,346.1 835.8,346.0 836.0,346.5 836.3,345.8 836.5,346.0 836.8,346.0 837.0,345.2 837.3,344.9 837.5,344.8 837.8,343.1 837.8,343.1" fill="none" stroke="#7f00ff" stroke-width="5.4" stroke-linejoin="round" stroke-linecap="round"/><polyline points="840.8,343.3 841.0,344.6 841.3,344.7 841.6,345.5 841.8,345.4 842.1,346.1 842.3,345.8 842.6,346.4 842.8,346.0 843.1,346.1 843.3,346.5 843.6,346.7 843.8,346.5 844.1,346.7 844.3,346.4 844.6,346.4 844.8,346.7 845.1,347.0 845.3,346.9 845.6,346.8 845.8,346.7 846.1,347.1 846.3,346.7 846.6,347.3 846.8,347.2 847.1,347.0 847.3,346.9 847.6,347.1 847.8,346.9 848.1,347.2 848.3,346.9 848.6,346.7 848.8,346.7 849.1,346.8 849.3,346.7 849.6,347.3 849.8,346.9 850.1,346.9 850.3,346.8 850.6,346.9 850.8,347.4 851.1,346.9 851.3,346.9 851.6,346.7 851.8,347.1 852.1,346.8 852.3,346.7 852.6,346.8 852.8,346.7 853.1,346.9 853.3,347.2 853.6,347.3 853.8,347.3 854.1,347.0 854.3,347.5 854.6,347.3 854.8,346.7 855.1,347.4 855.4,347.3 855.6,346.8 855.9,347.1 856.1,347.4 856.4,347.2 856.6,347.3 856.9,346.9 857.1,346.8 857.4,346.8 857.6,347.2 857.9,347.2 858.1,347.1 858.4,347.4 858.6,347.1 858.9,347.3 859.1,347.3 859.4,346.8 859.6,347.3 859.9,347.3 860.1,347.1 860.4,347.1 860.6,347.3 860.9,347.2 861.1,346.8 861.4,347.3 861.6,347.2 861.9,346.8 862.1,347.3 862.4,347.3 862.6,347.1 862.9,347.1 863.1,347.5 863.4,347.5 863.6,346.8 863.9,347.4 864.1,347.1 864.4,346.9 864.6,346.9 864.9,346.9 865.1,347.5 865.4,347.4 865.6,347.5 865.9,346.9 866.1,347.1 866.4,346.7 866.6,347.1 866.9,346.9 867.1,347.0 867.4,346.7 867.6,347.4 867.9,347.5 868.1,347.5 868.4,347.0 868.6,347.5 868.9,347.0 869.2,347.0 869.4,346.8 869.7,347.0 869.9,347.0 870.2,347.2 870.4,347.0 870.7,347.5 870.9,347.3 871.2,347.5 871.4,347.3 871.7,347.3 871.9,347.4 872.2,347.0 872.4,347.5 872.7,347.1 872.9,347.0 873.2,347.5 873.4,347.3 873.7,347.2 873.9,346.9 874.2,346.9 874.4,347.2 874.7,347.5 874.9,347.1 875.2,346.9 875.4,347.0 875.7,346.9 875.9,347.2 876.2,347.4 876.4,347.1 876.7,347.1 876.9,346.8 877.2,347.5 877.4,347.2 877.7,347.4 877.9,347.0 878.2,347.1 878.4,347.5 878.7,347.4 878.9,346.8 879.2,347.5 879.4,347.2 879.7,347.1 879.9,347.4 880.2,347.5 880.4,346.8 880.7,347.2 880.9,347.5 881.2,347.3 881.4,347.1 881.7,346.8 881.9,346.9 882.2,347.3 882.5,346.8 882.7,347.3 883.0,346.8 883.2,347.2 883.5,347.0 883.7,347.2 884.0,347.0 884.2,347.5 884.5,347.4 884.7,346.9 885.0,347.5 885.2,347.0 885.5,347.1 885.7,347.1 886.0,347.3 886.2,346.9 886.5,347.0 886.7,347.3 887.0,347.4 887.2,347.1 887.5,347.5 887.7,347.4 888.0,346.9 888.2,346.9 888.5,347.1 888.7,346.9 889.0,347.2 889.2,346.8 889.5,346.8 889.7,346.8 890.0,346.7 890.2,347.4 890.5,347.2 890.7,347.4 891.0,346.8 891.2,347.2 891.5,347.1 891.7,346.9 892.0,346.7 892.2,346.7 892.5,347.3 892.7,347.2 893.0,346.7 893.2,347.0 893.5,346.3 893.7,346.5 894.0,346.3 894.2,346.7 894.5,346.2 894.7,346.1 895.0,344.7 895.1,344.0" fill="none" stroke="#7f00ff" stroke-width="5.4" stroke-linejoin="round" stroke-linecap="round"/><polyline points="898.5,344.5 898.8,345.7 899.0,346.2 899.3,346.3 899.5,346.2 899.8,346.7 900.0,346.3 900.3,346.4 900.5,346.3 900.8,346.5 901.0,346.9 901.3,346.2 901.5,345.6 901.8,345.2 902.0,343.3 902.3,341.5 902.3,341.5" fill="none" stroke="#7f00ff" stroke-width="5.4" stroke-linejoin="round" stroke-linecap="round"/><polyline points="902.5,339.2 902.6,338.3" fill="none" stroke="#7f00ff" stroke-width="5.4" stroke-linejoin="round" stroke-linecap="round"/><polyline points="903.7,341.5 903.9,343.6 904.2,345.6 904.4,346.0 904.7,346.9 904.9,346.5 905.2,346.9 905.4,346.5 905.7,347.1 905.9,347.1 906.2,346.6 906.4,346.5 906.7,346.8 906.9,346.6 907.2,346.7 907.4,346.9 907.7,346.3 907.9,346.6 908.2,346.4 908.4,346.1 908.7,346.3 908.9,345.8 909.2,345.7 909.4,345.1 909.7,344.0 909.7,344.0" fill="none" stroke="#7f00ff" stroke-width="5.4" stroke-linejoin="round" stroke-linecap="round"/><polyline points="913.3,343.8 913.6,345.2 913.8,345.4 914.1,346.2 914.3,345.9 914.6,346.3 914.8,346.2 915.1,346.6 915.3,346.3 915.6,346.9 915.8,346.5 916.1,347.1 916.3,346.8 916.6,347.2 916.8,347.2 917.1,347.2 917.3,347.2 917.6,346.9 917.8,347.2 918.1,346.7 918.3,347.0 918.6,346.7 918.8,347.2 919.1,346.6 919.3,347.2 919.6,347.3 919.8,347.1 920.1,347.1 920.3,347.0 920.6,347.0 920.8,347.0 921.1,346.6 921.3,347.0 921.6,347.2 921.8,347.0 922.1,347.0 922.3,346.7 922.6,346.7 922.8,347.0 923.1,347.1 923.4,347.1 923.6,346.9 923.9,346.9 924.1,347.2 924.4,347.1 924.6,347.0 924.9,346.4 925.1,346.5 925.4,346.6 925.6,345.8 925.7,345.4" fill="none" stroke="#7f00ff" stroke-width="5.4" stroke-linejoin="round" stroke-linecap="round"/><polyline points="929.0,344.1 929.2,345.7 929.5,346.6 929.7,346.9 930.0,346.6 930.3,346.6 930.5,346.9 930.8,347.1 931.0,346.7 931.3,346.6 931.5,346.8 931.8,347.4 932.0,347.1 932.3,346.6 932.5,346.8 932.8,347.0 933.0,347.4 933.3,346.8 933.5,346.7 933.8,347.0 934.0,347.0 934.3,347.1 934.5,346.8 934.8,347.1 935.0,347.4 935.3,346.8 935.5,347.2 935.8,347.3 936.0,346.9 936.3,347.2 936.5,347.0 936.8,347.0 937.0,347.3 937.3,347.4 937.5,347.1 937.8,346.9 938.0,347.3 938.3,347.1 938.5,346.8 938.8,347.1 939.0,347.1 939.3,346.7 939.5,346.8 939.8,347.3 940.0,347.1 940.3,347.2 940.5,346.8 940.8,346.7 941.0,346.1 941.3,345.5 941.5,344.9 941.7,343.9" fill="none" stroke="#7f00ff" stroke-width="5.4" stroke-linejoin="round" stroke-linecap="round"/><polyline points="944.6,345.2 944.8,346.1 945.1,346.9 945.3,347.0 945.6,347.1 945.8,347.1 946.1,346.8 946.3,347.1 946.6,347.3 946.8,346.6 947.1,347.4 947.3,346.8 947.6,346.7 947.8,347.2 948.1,347.3 948.3,347.2 948.6,347.4 948.8,347.4 949.1,347.4 949.3,347.5 949.6,346.9 949.8,346.8 950.1,347.4 950.3,347.4 950.6,347.0 950.8,346.8 951.1,346.9 951.3,347.1 951.6,346.9 951.8,347.3 952.1,347.0 952.3,347.2 952.6,347.2 952.8,347.1 953.1,347.4 953.3,347.3 953.6,346.9 953.8,346.8 954.1,346.9 954.3,346.9 954.6,347.5 954.8,347.2 955.1,347.4 955.3,347.2 955.6,347.4 955.8,347.5 956.1,346.9 956.3,347.2 956.6,347.3 956.8,347.4 957.1,347.4 957.3,347.0 957.6,347.1 957.9,346.8 958.1,346.8 958.4,347.0 958.6,347.2 958.9,347.5 959.1,347.1 959.4,347.4 959.6,347.3 959.9,347.0 960.1,347.4 960.4,347.4 960.6,347.1 960.9,347.2 961.1,347.1 961.4,347.0 961.6,347.0 961.9,347.4 962.1,346.9 962.4,347.0 962.6,346.9 962.9,346.9 963.1,347.3 963.4,347.5 963.6,347.1 963.9,347.4 964.1,347.1 964.4,347.3 964.6,346.9 964.9,346.8 965.1,347.4 965.4,347.2 965.6,347.1 965.9,347.2 966.1,347.3 966.4,347.1 966.6,347.3 966.9,346.9 967.1,347.4 967.4,347.3 967.6,347.3 967.9,347.1 968.1,347.2 968.4,347.1 968.6,347.3 968.9,346.9 969.1,347.1 969.4,347.1 969.6,347.5 969.9,347.3 970.1,347.0 970.4,347.5 970.6,347.2 970.9,347.3 971.2,347.1 971.4,347.2 971.7,347.3 971.9,347.2 972.2,347.1 972.4,347.4 972.7,347.2 972.9,347.3 973.2,347.5 973.4,346.7 973.7,347.0 973.9,347.0 974.2,347.2 974.4,346.8 974.7,347.2 974.9,347.0 975.2,347.2 975.4,346.7 975.7,347.2 975.9,347.0 976.2,346.9 976.4,347.2 976.7,346.8 976.9,346.8 977.2,346.2 977.4,345.6 977.7,345.0 977.9,343.7 978.1,342.9" fill="none" stroke="#7f00ff" stroke-width="5.4" stroke-linejoin="round" stroke-linecap="round"/><polyline points="981.3,341.8 981.6,343.4 981.8,344.8 982.1,345.7 982.3,346.6 982.6,346.3 982.8,346.7 983.1,346.9 983.3,347.0 983.6,346.6 983.8,346.8 984.1,346.8 984.3,346.9 984.6,346.6 984.8,346.8 985.1,346.8 985.3,346.8 985.6,346.9 985.8,346.4 986.1,346.8 986.3,346.9 986.6,346.6 986.8,347.1 987.1,346.8 987.3,346.2 987.6,346.6 987.8,346.2 988.1,346.0 988.3,345.7 988.6,344.6 988.8,342.6 988.8,342.6" fill="none" stroke="#7f00ff" stroke-width="5.4" stroke-linejoin="round" stroke-linecap="round"/><polyline points="992.7,342.8 993.0,344.3 993.2,345.6 993.5,346.2 993.7,346.4 994.0,346.5 994.2,346.6 994.5,346.3 994.7,346.6 995.0,346.3 995.2,346.3 995.5,347.0 995.7,346.6 996.0,346.9 996.2,346.4 996.5,346.5 996.7,346.5 997.0,346.9 997.2,346.5 997.5,345.9 997.7,345.9 998.0,345.1 998.2,343.9 998.5,342.4 998.5,342.4" fill="none" stroke="#7f00ff" stroke-width="5.4" stroke-linejoin="round" stroke-linecap="round"/><polyline points="1001.9,339.1 1002.1,339.9 1002.4,339.0 1002.5,338.6" fill="none" stroke="#7f00ff" stroke-width="5.4" stroke-linejoin="round" stroke-linecap="round"/><polyline points="1005.2,343.9 1005.4,345.1 1005.7,346.3 1005.9,346.4 1006.2,346.3 1006.4,346.9 1006.7,346.7 1006.9,347.2 1007.2,347.0 1007.4,346.8 1007.7,346.8 1007.9,347.0 1008.2,347.2 1008.4,346.6 1008.7,346.9 1008.9,347.3 1009.2,346.7 1009.4,347.3 1009.7,347.1 1009.9,347.3 1010.2,347.2 1010.4,346.9 1010.7,347.1 1010.9,346.8 1011.2,347.4 1011.4,347.2 1011.7,347.1 1011.9,346.9 1012.2,347.3 1012.4,346.8 1012.7,347.3 1012.9,347.2 1013.2,347.4 1013.4,347.1 1013.7,346.9 1013.9,346.9 1014.2,347.0 1014.4,347.0 1014.7,346.8 1014.9,347.5 1015.2,346.8 1015.4,347.4 1015.7,347.2 1015.9,347.1 1016.2,346.8 1016.4,347.4 1016.7,347.2 1016.9,347.4 1017.2,347.5 1017.4,347.4 1017.7,346.9 1017.9,346.9 1018.2,346.8 1018.4,347.2 1018.7,347.1 1019.0,347.5 1019.2,347.2 1019.5,346.8 1019.7,346.9 1020.0,347.2 1020.2,347.3 1020.5,347.1 1020.7,347.5 1021.0,346.9 1021.2,346.9 1021.5,347.4 1021.7,347.4 1022.0,347.3 1022.2,347.2 1022.5,346.7 1022.7,347.3 1023.0,347.2 1023.2,347.1 1023.5,346.7 1023.7,346.8 1024.0,347.0 1024.2,346.8 1024.5,347.1 1024.7,347.0 1025.0,346.4 1025.2,346.2 1025.5,346.3 1025.7,345.0 1026.0,343.9 1026.2,343.0 1026.5,340.9 1026.7,339.2 1026.7,339.2" fill="none" stroke="#7f00ff" stroke-width="5.4" stroke-linejoin="round" stroke-linecap="round"/><polyline points="1028.5,341.1 1028.7,342.4 1029.0,344.0 1029.2,344.9 1029.5,345.6 1029.7,346.6 1030.0,346.7 1030.2,346.7 1030.5,346.8 1030.7,347.4 1031.0,346.7 1031.2,347.3 1031.5,347.2 1031.7,347.4 1032.0,347.3 1032.2,346.8 1032.5,347.3 1032.8,346.8 1033.0,347.4 1033.3,347.1 1033.5,346.7 1033.8,347.1 1034.0,346.4 1034.3,346.6 1034.5,346.0 1034.8,345.8 1035.0,345.4 1035.3,344.2 1035.5,344.0 1035.8,343.5 1036.0,343.4 1036.3,343.5 1036.5,343.7 1036.8,344.6 1037.0,345.2 1037.3,345.3 1037.5,346.0 1037.8,346.3 1038.0,346.3 1038.3,346.8 1038.5,346.7 1038.8,347.3 1039.0,346.9 1039.3,347.0 1039.5,346.7 1039.8,347.4 1040.0,347.1 1040.3,347.1 1040.5,347.4 1040.8,346.8 1041.0,346.8 1041.3,346.6 1041.5,347.2 1041.8,346.6 1042.0,347.0 1042.3,347.1 1042.5,347.1 1042.8,346.3 1043.0,346.3 1043.3,345.6 1043.5,344.8 1043.8,343.7 1044.0,341.6 1044.2,340.9" fill="none" stroke="#7f00ff" stroke-width="5.4" stroke-linejoin="round" stroke-linecap="round"/><polyline points="1046.3,341.1 1046.6,343.0 1046.8,343.9 1047.1,345.7 1047.3,345.9 1047.6,346.6 1047.8,346.7 1048.1,346.8 1048.3,346.5 1048.6,347.3 1048.8,347.4 1049.1,347.3 1049.3,347.3 1049.6,347.2 1049.8,347.2 1050.1,347.1 1050.3,347.2 1050.6,347.1 1050.8,347.4 1051.1,346.9 1051.3,346.8 1051.6,347.4 1051.8,346.9 1052.1,347.1 1052.3,346.8 1052.6,346.9 1052.8,346.9 1053.1,346.7 1053.3,347.2 1053.6,346.9 1053.8,346.5 1054.1,346.4 1054.3,346.2 1054.6,345.5 1054.8,344.9 1055.1,344.6 1055.3,343.9 1055.6,344.4 1055.8,344.2 1056.1,344.3 1056.3,344.8 1056.6,345.2 1056.8,346.2 1057.1,345.9 1057.3,346.5 1057.6,346.5 1057.8,347.3 1058.1,346.7 1058.3,346.9 1058.6,347.1 1058.8,347.2 1059.1,347.1 1059.3,347.1 1059.6,347.0 1059.9,346.8 1060.1,346.4 1060.4,345.8 1060.6,344.9 1060.9,344.2 1061.1,343.5 1061.4,342.7 1061.6,342.1 1061.9,342.3 1062.1,342.4 1062.4,343.0 1062.6,344.1 1062.9,344.7 1063.1,345.1 1063.4,345.6 1063.6,346.3 1063.9,346.8 1064.1,346.9 1064.4,346.9 1064.6,346.4 1064.9,345.8 1065.1,345.6 1065.4,344.9 1065.6,343.1 1065.6,343.1" fill="none" stroke="#7f00ff" stroke-width="5.4" stroke-linejoin="round" stroke-linecap="round"/><polyline points="1068.8,342.1 1068.9,342.6" fill="none" stroke="#7f00ff" stroke-width="5.4" stroke-linejoin="round" stroke-linecap="round"/><polyline points="1069.1,344.9 1069.4,345.5 1069.6,346.5 1069.9,346.8 1070.1,347.0 1070.4,346.5 1070.6,346.9 1070.9,346.7 1071.1,347.1 1071.4,346.9 1071.6,347.1 1071.9,346.9 1072.1,346.9 1072.4,346.6 1072.6,347.3 1072.9,347.2 1073.1,347.1 1073.4,346.9 1073.7,347.1 1073.9,347.1 1074.2,346.8 1074.4,347.3 1074.7,346.8 1074.9,347.1 1075.2,347.2 1075.4,346.7 1075.7,347.3 1075.9,347.3 1076.2,346.8 1076.4,346.8 1076.7,347.1 1076.9,347.0 1077.2,346.7 1077.4,347.1 1077.7,347.0 1077.9,346.8 1078.2,347.3 1078.4,346.7 1078.7,347.0 1078.9,346.6 1079.2,346.1 1079.4,345.3 1079.7,344.9 1079.9,343.6 1080.2,342.6 1080.4,341.4 1080.7,340.6 1080.9,340.6 1081.2,340.3 1081.4,340.8 1081.7,341.6 1081.9,342.5 1082.2,343.7 1082.4,344.6 1082.7,345.4 1082.9,346.3 1083.2,346.2 1083.4,346.4 1083.7,347.2 1083.9,346.9 1084.2,347.3 1084.4,346.9 1084.7,347.0 1084.9,346.9 1085.2,347.1 1085.4,347.1 1085.7,347.3 1085.9,347.4 1086.2,347.0 1086.4,347.2 1086.7,347.4 1086.9,347.1 1087.2,347.0 1087.5,347.0 1087.7,347.2 1088.0,347.1 1088.2,346.9 1088.5,347.0 1088.7,346.8 1089.0,347.0 1089.2,347.0 1089.5,347.0 1089.7,346.8 1090.0,347.0 1090.2,347.5 1090.5,347.4 1090.7,346.8 1091.0,346.8 1091.2,347.3 1091.5,347.1 1091.7,347.3 1092.0,347.4 1092.2,347.2 1092.5,346.8 1092.7,347.3 1093.0,346.7 1093.2,346.8 1093.5,346.8 1093.7,346.5 1094.0,346.7 1094.2,346.6 1094.5,346.0 1094.7,345.2 1095.0,344.4 1095.2,344.0 1095.5,342.8 1095.7,342.7 1096.0,341.8 1096.2,342.0 1096.5,342.5 1096.7,343.6 1097.0,344.4 1097.2,345.2 1097.5,345.5 1097.7,346.5 1098.0,346.9 1098.2,347.0 1098.5,347.0 1098.7,346.7 1099.0,347.0 1099.2,347.4 1099.5,347.3 1099.7,347.3 1100.0,346.9 1100.2,347.5 1100.5,347.2 1100.8,346.8 1101.0,347.1 1101.3,347.0 1101.5,347.3 1101.8,346.9 1102.0,347.2 1102.3,347.5 1102.5,347.0 1102.8,346.9 1103.0,347.0 1103.3,347.2 1103.5,346.9 1103.8,347.2 1104.0,347.4 1104.3,346.9 1104.5,347.1 1104.8,346.8 1105.0,346.9 1105.3,347.1 1105.5,347.0 1105.8,347.1 1106.0,346.8 1106.3,347.6 1106.5,346.8 1106.8,347.6 1107.0,346.9 1107.3,347.1 1107.5,347.2 1107.8,347.5 1108.0,347.3 1108.3,347.3 1108.5,347.0 1108.8,346.8 1109.0,347.4 1109.3,346.9 1109.5,347.4 1109.8,346.9 1110.0,347.4 1110.3,347.0 1110.5,347.4 1110.8,347.0 1111.0,347.0 1111.3,346.9 1111.5,347.2 1111.8,347.4 1112.0,347.5 1112.3,347.1 1112.5,346.9 1112.8,347.2 1113.0,347.3 1113.3,347.1 1113.5,346.8 1113.8,347.0 1114.0,347.2 1114.3,347.3 1114.6,347.2 1114.8,346.7 1115.1,346.7 1115.3,346.3 1115.6,346.1 1115.8,345.7 1116.1,344.3 1116.3,343.4 1116.6,341.9 1116.8,340.8 1117.1,340.3 1117.3,339.6 1117.6,339.6 1117.8,340.0 1118.1,340.9 1118.3,341.8 1118.6,343.6 1118.8,344.5 1119.1,345.1 1119.3,345.6 1119.6,346.5 1119.8,346.4 1120.1,346.8 1120.3,346.9 1120.6,347.1 1120.8,346.7 1121.1,347.4 1121.3,346.8 1121.6,346.9 1121.8,347.1 1122.1,347.1 1122.3,346.9 1122.6,346.8 1122.8,347.2 1123.1,347.1 1123.3,347.1 1123.6,347.2 1123.8,347.3 1124.1,347.5 1124.3,346.8 1124.6,347.0 1124.8,347.5 1125.1,347.4 1125.3,347.4 1125.6,346.9 1125.8,346.7 1126.1,346.9 1126.3,347.3 1126.6,347.4 1126.8,347.4 1127.1,347.4 1127.3,346.8 1127.6,347.0 1127.8,347.2 1128.1,346.8 1128.4,347.3 1128.6,347.2 1128.9,347.1 1129.1,347.0 1129.4,346.5 1129.6,346.8 1129.9,346.0 1130.1,346.0 1130.4,344.8 1130.6,343.9 1130.9,342.9 1131.1,341.8 1131.4,340.9 1131.6,340.7 1131.9,340.3 1132.1,340.9 1132.4,341.1 1132.6,342.3 1132.9,343.6 1133.1,344.1 1133.4,345.4 1133.6,345.9 1133.9,346.6 1134.1,347.0 1134.4,346.5 1134.6,346.7 1134.9,347.1 1135.1,346.8 1135.4,347.0 1135.6,347.0 1135.9,346.7 1136.1,346.9 1136.4,347.0 1136.6,346.7 1136.9,347.2 1137.1,346.9 1137.4,346.9 1137.6,347.1 1137.9,347.4 1138.1,347.0 1138.4,347.2 1138.6,346.9 1138.9,346.5 1139.1,346.6 1139.4,346.3 1139.6,345.2 1139.9,344.9 1140.1,344.0 1140.4,343.2 1140.6,342.1 1140.9,342.0 1141.1,342.1 1141.4,342.3 1141.7,343.0 1141.9,343.5 1142.2,344.6 1142.4,345.4 1142.7,345.6 1142.9,346.0 1143.2,346.5 1143.4,346.6 1143.7,346.2 1143.9,345.0 1144.2,344.6 1144.4,343.4 1144.7,342.3 1144.9,340.7 1145.2,340.3 1145.4,339.1 1145.7,338.9 1145.9,339.7 1146.2,340.4 1146.4,341.8 1146.7,343.1 1146.9,344.3 1147.2,345.1 1147.4,346.0 1147.7,346.1 1147.9,346.3 1148.2,347.0 1148.4,347.0 1148.7,346.5 1148.9,346.5 1149.2,346.3 1149.4,345.3 1149.7,344.8 1149.9,344.4 1150.2,344.0 1150.4,343.4 1150.7,343.5 1150.9,343.6 1151.2,343.5 1151.4,343.8 1151.7,344.3 1151.9,345.4 1152.2,346.0 1152.4,346.2 1152.7,346.6 1152.9,346.8 1153.2,347.1 1153.4,347.2 1153.7,347.3 1153.9,347.3 1154.2,347.0 1154.4,347.1 1154.7,346.8 1154.9,347.1 1155.2,347.3 1155.5,347.5 1155.7,347.3 1156.0,346.7 1156.2,346.8 1156.5,347.2 1156.7,347.5 1157.0,346.8 1157.2,347.3 1157.5,346.8 1157.7,347.3 1158.0,347.5 1158.2,347.2 1158.5,347.3 1158.7,346.9 1159.0,346.8 1159.2,346.7 1159.5,346.9 1159.7,346.5 1160.0,346.6 1160.2,346.8 1160.5,345.8 1160.7,345.3 1161.0,344.6 1161.2,344.3 1161.5,343.1 1161.7,342.4 1162.0,342.0 1162.2,342.5 1162.5,342.7 1162.7,342.9 1163.0,343.9 1163.2,344.4 1163.5,345.4 1163.7,346.0 1164.0,346.1 1164.2,346.5 1164.5,347.1 1164.7,347.2 1165.0,346.8 1165.2,346.7 1165.5,346.6 1165.7,346.7 1166.0,346.7 1166.2,347.1 1166.5,346.7 1166.7,346.8 1167.0,346.7 1167.2,345.7 1167.5,345.5 1167.7,344.7 1168.0,343.8 1168.2,342.8 1168.5,342.4 1168.7,341.9 1169.0,341.9 1169.3,342.3 1169.5,343.0 1169.8,344.0 1170.0,344.7 1170.3,345.8 1170.5,345.8 1170.8,346.7 1171.0,346.5 1171.3,346.7 1171.5,346.6 1171.8,346.9 1172.0,346.9 1172.3,347.2 1172.5,347.1 1172.8,347.2 1173.0,347.3 1173.3,346.9 1173.5,346.9 1173.8,346.7 1174.0,346.6 1174.3,346.7 1174.5,346.0 1174.8,345.0 1175.0,344.3 1175.3,343.3 1175.5,342.9 1175.8,342.1 1176.0,341.4 1176.3,341.3 1176.5,341.4 1176.8,341.8 1177.0,343.4 1177.3,344.2 1177.5,344.7 1177.8,345.8 1178.0,346.4 1178.3,346.6 1178.5,346.9 1178.8,347.0 1179.0,346.8 1179.3,346.9 1179.5,347.1 1179.8,347.1 1180.0,346.9 1180.3,347.5 1180.5,347.1 1180.8,347.4 1181.0,346.9 1181.3,347.1 1181.5,347.4 1181.8,347.4 1182.0,347.1 1182.3,347.4 1182.6,346.9 1182.8,346.8 1183.1,347.4 1183.3,347.1 1183.6,347.1 1183.8,347.3 1184.1,347.1 1184.3,347.4 1184.6,347.3 1184.8,347.2 1185.1,347.1 1185.3,347.1 1185.6,346.9 1185.8,346.8 1186.1,347.3 1186.3,347.0 1186.6,347.4 1186.8,347.3 1187.1,346.9 1187.3,347.4 1187.6,347.1 1187.8,347.1 1188.1,347.3 1188.3,347.1 1188.6,347.4 1188.8,347.1 1189.1,347.5 1189.3,347.5 1189.6,347.1 1189.8,347.0 1190.1,347.4 1190.3,347.2 1190.6,347.5 1190.8,346.8 1191.1,347.1 1191.3,347.4 1191.6,347.1 1191.8,347.0 1192.1,346.9 1192.3,346.9 1192.6,346.5 1192.8,346.4 1193.1,346.0 1193.3,345.0 1193.6,344.5 1193.8,344.2 1194.1,344.4 1194.3,343.8 1194.6,344.6 1194.8,344.4 1195.1,345.1 1195.3,346.1 1195.6,346.4 1195.8,346.3 1196.1,346.3 1196.2,347.2" fill="none" stroke="#7f00ff" stroke-width="5.4" stroke-linejoin="round" stroke-linecap="round"/><circle cx="837.9" cy="342.4" r="2.8" fill="url(#gobs)"/><circle cx="838.0" cy="340.9" r="2.8" fill="url(#gobs)"/><circle cx="838.2" cy="337.6" r="2.8" fill="url(#gobs)"/><circle cx="838.3" cy="331.3" r="2.8" fill="url(#gobs)"/><circle cx="838.4" cy="319.8" r="2.8" fill="url(#gobs)"/><circle cx="838.5" cy="300.2" r="2.8" fill="url(#gobs)"/><circle cx="838.7" cy="268.6" r="2.8" fill="url(#gobs)"/><circle cx="838.8" cy="226.4" r="2.8" fill="url(#gobs)"/><circle cx="838.9" cy="175.1" r="2.8" fill="url(#gobs)"/><circle cx="839.0" cy="123.2" r="2.8" fill="url(#gobs)"/><circle cx="839.2" cy="83.3" r="2.8" fill="url(#gobs)"/><circle cx="839.3" cy="67.2" r="2.8" fill="url(#gobs)"/><circle cx="839.4" cy="80.6" r="2.8" fill="url(#gobs)"/><circle cx="839.5" cy="118.6" r="2.8" fill="url(#gobs)"/><circle cx="839.7" cy="170.4" r="2.8" fill="url(#gobs)"/><circle cx="839.8" cy="221.9" r="2.8" fill="url(#gobs)"/><circle cx="839.9" cy="265.7" r="2.8" fill="url(#gobs)"/><circle cx="840.0" cy="297.2" r="2.8" fill="url(#gobs)"/><circle cx="840.2" cy="318.3" r="2.8" fill="url(#gobs)"/><circle cx="840.3" cy="330.3" r="2.8" fill="url(#gobs)"/><circle cx="840.4" cy="337.5" r="2.8" fill="url(#gobs)"/><circle cx="840.5" cy="340.5" r="2.8" fill="url(#gobs)"/><circle cx="840.7" cy="342.1" r="2.8" fill="url(#gobs)"/><circle cx="895.2" cy="343.5" r="2.8" fill="url(#gobs)"/><circle cx="895.4" cy="341.3" r="2.8" fill="url(#gobs)"/><circle cx="895.5" cy="339.4" r="2.8" fill="url(#gobs)"/><circle cx="895.6" cy="336.3" r="2.8" fill="url(#gobs)"/><circle cx="895.7" cy="331.6" r="2.8" fill="url(#gobs)"/><circle cx="895.9" cy="326.2" r="2.8" fill="url(#gobs)"/><circle cx="896.0" cy="320.4" r="2.8" fill="url(#gobs)"/><circle cx="896.1" cy="313.0" r="2.8" fill="url(#gobs)"/><circle cx="896.3" cy="305.1" r="2.8" fill="url(#gobs)"/><circle cx="896.4" cy="298.0" r="2.8" fill="url(#gobs)"/><circle cx="896.5" cy="291.0" r="2.8" fill="url(#gobs)"/><circle cx="896.6" cy="285.8" r="2.8" fill="url(#gobs)"/><circle cx="896.8" cy="282.7" r="2.8" fill="url(#gobs)"/><circle cx="897.0" cy="285.7" r="2.8" fill="url(#gobs)"/><circle cx="897.1" cy="290.2" r="2.8" fill="url(#gobs)"/><circle cx="897.3" cy="297.0" r="2.8" fill="url(#gobs)"/><circle cx="897.4" cy="303.6" r="2.8" fill="url(#gobs)"/><circle cx="897.5" cy="311.4" r="2.8" fill="url(#gobs)"/><circle cx="897.6" cy="318.8" r="2.8" fill="url(#gobs)"/><circle cx="897.8" cy="325.7" r="2.8" fill="url(#gobs)"/><circle cx="897.9" cy="331.2" r="2.8" fill="url(#gobs)"/><circle cx="898.0" cy="335.2" r="2.8" fill="url(#gobs)"/><circle cx="898.1" cy="338.5" r="2.8" fill="url(#gobs)"/><circle cx="898.3" cy="341.1" r="2.8" fill="url(#gobs)"/><circle cx="898.4" cy="342.9" r="2.8" fill="url(#gobs)"/><circle cx="902.4" cy="340.3" r="2.8" fill="url(#gobs)"/><circle cx="902.8" cy="337.5" r="2.8" fill="url(#gobs)"/><circle cx="903.4" cy="339.3" r="2.8" fill="url(#gobs)"/><circle cx="903.5" cy="340.7" r="2.8" fill="url(#gobs)"/><circle cx="909.8" cy="343.4" r="2.8" fill="url(#gobs)"/><circle cx="909.9" cy="341.6" r="2.8" fill="url(#gobs)"/><circle cx="910.1" cy="338.9" r="2.8" fill="url(#gobs)"/><circle cx="910.2" cy="335.6" r="2.8" fill="url(#gobs)"/><circle cx="910.3" cy="331.3" r="2.8" fill="url(#gobs)"/><circle cx="910.4" cy="325.4" r="2.8" fill="url(#gobs)"/><circle cx="910.6" cy="318.0" r="2.8" fill="url(#gobs)"/><circle cx="910.7" cy="308.5" r="2.8" fill="url(#gobs)"/><circle cx="910.8" cy="298.3" r="2.8" fill="url(#gobs)"/><circle cx="910.9" cy="287.8" r="2.8" fill="url(#gobs)"/><circle cx="911.1" cy="276.7" r="2.8" fill="url(#gobs)"/><circle cx="911.2" cy="266.9" r="2.8" fill="url(#gobs)"/><circle cx="911.3" cy="259.3" r="2.8" fill="url(#gobs)"/><circle cx="911.4" cy="255.4" r="2.8" fill="url(#gobs)"/><circle cx="911.7" cy="257.7" r="2.8" fill="url(#gobs)"/><circle cx="911.8" cy="264.3" r="2.8" fill="url(#gobs)"/><circle cx="911.9" cy="273.5" r="2.8" fill="url(#gobs)"/><circle cx="912.1" cy="284.4" r="2.8" fill="url(#gobs)"/><circle cx="912.2" cy="295.5" r="2.8" fill="url(#gobs)"/><circle cx="912.3" cy="305.6" r="2.8" fill="url(#gobs)"/><circle cx="912.4" cy="314.9" r="2.8" fill="url(#gobs)"/><circle cx="912.6" cy="323.4" r="2.8" fill="url(#gobs)"/><circle cx="912.7" cy="329.4" r="2.8" fill="url(#gobs)"/><circle cx="912.8" cy="334.3" r="2.8" fill="url(#gobs)"/><circle cx="912.9" cy="338.7" r="2.8" fill="url(#gobs)"/><circle cx="913.1" cy="340.9" r="2.8" fill="url(#gobs)"/><circle cx="913.2" cy="343.0" r="2.8" fill="url(#gobs)"/><circle cx="925.9" cy="343.9" r="2.8" fill="url(#gobs)"/><circle cx="926.1" cy="341.8" r="2.8" fill="url(#gobs)"/><circle cx="926.2" cy="339.4" r="2.8" fill="url(#gobs)"/><circle cx="926.4" cy="337.6" r="2.8" fill="url(#gobs)"/><circle cx="926.5" cy="334.2" r="2.8" fill="url(#gobs)"/><circle cx="926.6" cy="331.4" r="2.8" fill="url(#gobs)"/><circle cx="926.7" cy="327.3" r="2.8" fill="url(#gobs)"/><circle cx="926.9" cy="324.0" r="2.8" fill="url(#gobs)"/><circle cx="927.0" cy="320.9" r="2.8" fill="url(#gobs)"/><circle cx="927.1" cy="317.4" r="2.8" fill="url(#gobs)"/><circle cx="927.2" cy="315.3" r="2.8" fill="url(#gobs)"/><circle cx="927.7" cy="317.5" r="2.8" fill="url(#gobs)"/><circle cx="927.9" cy="320.4" r="2.8" fill="url(#gobs)"/><circle cx="928.0" cy="324.5" r="2.8" fill="url(#gobs)"/><circle cx="928.1" cy="327.9" r="2.8" fill="url(#gobs)"/><circle cx="928.2" cy="331.5" r="2.8" fill="url(#gobs)"/><circle cx="928.4" cy="334.2" r="2.8" fill="url(#gobs)"/><circle cx="928.5" cy="337.6" r="2.8" fill="url(#gobs)"/><circle cx="928.6" cy="339.4" r="2.8" fill="url(#gobs)"/><circle cx="928.7" cy="341.7" r="2.8" fill="url(#gobs)"/><circle cx="928.9" cy="343.2" r="2.8" fill="url(#gobs)"/><circle cx="941.8" cy="342.8" r="2.8" fill="url(#gobs)"/><circle cx="941.9" cy="341.1" r="2.8" fill="url(#gobs)"/><circle cx="942.0" cy="338.9" r="2.8" fill="url(#gobs)"/><circle cx="942.2" cy="337.0" r="2.8" fill="url(#gobs)"/><circle cx="942.3" cy="334.5" r="2.8" fill="url(#gobs)"/><circle cx="942.4" cy="332.3" r="2.8" fill="url(#gobs)"/><circle cx="942.5" cy="329.6" r="2.8" fill="url(#gobs)"/><circle cx="942.7" cy="327.2" r="2.8" fill="url(#gobs)"/><circle cx="942.8" cy="325.7" r="2.8" fill="url(#gobs)"/><circle cx="943.0" cy="323.9" r="2.8" fill="url(#gobs)"/><circle cx="943.3" cy="325.6" r="2.8" fill="url(#gobs)"/><circle cx="943.4" cy="327.7" r="2.8" fill="url(#gobs)"/><circle cx="943.5" cy="329.9" r="2.8" fill="url(#gobs)"/><circle cx="943.7" cy="332.8" r="2.8" fill="url(#gobs)"/><circle cx="943.8" cy="335.5" r="2.8" fill="url(#gobs)"/><circle cx="943.9" cy="337.7" r="2.8" fill="url(#gobs)"/><circle cx="944.1" cy="339.5" r="2.8" fill="url(#gobs)"/><circle cx="944.2" cy="341.7" r="2.8" fill="url(#gobs)"/><circle cx="944.4" cy="343.8" r="2.8" fill="url(#gobs)"/><circle cx="978.2" cy="341.7" r="2.8" fill="url(#gobs)"/><circle cx="978.4" cy="338.9" r="2.8" fill="url(#gobs)"/><circle cx="978.6" cy="337.1" r="2.8" fill="url(#gobs)"/><circle cx="978.7" cy="335.8" r="2.8" fill="url(#gobs)"/><circle cx="978.8" cy="333.5" r="2.8" fill="url(#gobs)"/><circle cx="978.9" cy="331.5" r="2.8" fill="url(#gobs)"/><circle cx="979.1" cy="329.6" r="2.8" fill="url(#gobs)"/><circle cx="979.2" cy="327.8" r="2.8" fill="url(#gobs)"/><circle cx="979.3" cy="326.1" r="2.8" fill="url(#gobs)"/><circle cx="979.4" cy="324.9" r="2.8" fill="url(#gobs)"/><circle cx="979.7" cy="323.1" r="2.8" fill="url(#gobs)"/><circle cx="980.1" cy="324.2" r="2.8" fill="url(#gobs)"/><circle cx="980.2" cy="326.2" r="2.8" fill="url(#gobs)"/><circle cx="980.3" cy="327.9" r="2.8" fill="url(#gobs)"/><circle cx="980.4" cy="329.7" r="2.8" fill="url(#gobs)"/><circle cx="980.6" cy="331.1" r="2.8" fill="url(#gobs)"/><circle cx="980.7" cy="333.7" r="2.8" fill="url(#gobs)"/><circle cx="980.8" cy="335.5" r="2.8" fill="url(#gobs)"/><circle cx="980.9" cy="336.8" r="2.8" fill="url(#gobs)"/><circle cx="981.1" cy="338.5" r="2.8" fill="url(#gobs)"/><circle cx="981.2" cy="340.8" r="2.8" fill="url(#gobs)"/><circle cx="989.0" cy="341.8" r="2.8" fill="url(#gobs)"/><circle cx="989.1" cy="339.9" r="2.8" fill="url(#gobs)"/><circle cx="989.2" cy="338.2" r="2.8" fill="url(#gobs)"/><circle cx="989.3" cy="336.1" r="2.8" fill="url(#gobs)"/><circle cx="989.5" cy="333.8" r="2.8" fill="url(#gobs)"/><circle cx="989.6" cy="330.6" r="2.8" fill="url(#gobs)"/><circle cx="989.7" cy="327.8" r="2.8" fill="url(#gobs)"/><circle cx="989.8" cy="324.6" r="2.8" fill="url(#gobs)"/><circle cx="990.0" cy="321.4" r="2.8" fill="url(#gobs)"/><circle cx="990.1" cy="318.4" r="2.8" fill="url(#gobs)"/><circle cx="990.2" cy="315.0" r="2.8" fill="url(#gobs)"/><circle cx="990.3" cy="312.8" r="2.8" fill="url(#gobs)"/><circle cx="990.5" cy="310.3" r="2.8" fill="url(#gobs)"/><circle cx="990.6" cy="308.9" r="2.8" fill="url(#gobs)"/><circle cx="991.1" cy="311.0" r="2.8" fill="url(#gobs)"/><circle cx="991.2" cy="313.4" r="2.8" fill="url(#gobs)"/><circle cx="991.3" cy="315.8" r="2.8" fill="url(#gobs)"/><circle cx="991.5" cy="318.9" r="2.8" fill="url(#gobs)"/><circle cx="991.6" cy="322.1" r="2.8" fill="url(#gobs)"/><circle cx="991.7" cy="325.6" r="2.8" fill="url(#gobs)"/><circle cx="991.9" cy="328.7" r="2.8" fill="url(#gobs)"/><circle cx="992.0" cy="331.8" r="2.8" fill="url(#gobs)"/><circle cx="992.1" cy="333.9" r="2.8" fill="url(#gobs)"/><circle cx="992.2" cy="336.8" r="2.8" fill="url(#gobs)"/><circle cx="992.4" cy="339.0" r="2.8" fill="url(#gobs)"/><circle cx="992.5" cy="340.4" r="2.8" fill="url(#gobs)"/><circle cx="998.6" cy="341.2" r="2.8" fill="url(#gobs)"/><circle cx="998.8" cy="339.2" r="2.8" fill="url(#gobs)"/><circle cx="998.9" cy="337.4" r="2.8" fill="url(#gobs)"/><circle cx="999.0" cy="335.1" r="2.8" fill="url(#gobs)"/><circle cx="999.1" cy="333.3" r="2.8" fill="url(#gobs)"/><circle cx="999.3" cy="330.4" r="2.8" fill="url(#gobs)"/><circle cx="999.4" cy="327.8" r="2.8" fill="url(#gobs)"/><circle cx="999.5" cy="325.1" r="2.8" fill="url(#gobs)"/><circle cx="999.6" cy="322.6" r="2.8" fill="url(#gobs)"/><circle cx="999.8" cy="320.8" r="2.8" fill="url(#gobs)"/><circle cx="999.9" cy="318.4" r="2.8" fill="url(#gobs)"/><circle cx="1000.1" cy="315.9" r="2.8" fill="url(#gobs)"/><circle cx="1000.6" cy="318.9" r="2.8" fill="url(#gobs)"/><circle cx="1000.8" cy="320.5" r="2.8" fill="url(#gobs)"/><circle cx="1000.9" cy="323.2" r="2.8" fill="url(#gobs)"/><circle cx="1001.0" cy="325.2" r="2.8" fill="url(#gobs)"/><circle cx="1001.1" cy="327.6" r="2.8" fill="url(#gobs)"/><circle cx="1001.3" cy="330.6" r="2.8" fill="url(#gobs)"/><circle cx="1001.4" cy="332.9" r="2.8" fill="url(#gobs)"/><circle cx="1001.5" cy="335.1" r="2.8" fill="url(#gobs)"/><circle cx="1001.6" cy="336.8" r="2.8" fill="url(#gobs)"/><circle cx="1002.8" cy="335.2" r="2.8" fill="url(#gobs)"/><circle cx="1002.9" cy="333.6" r="2.8" fill="url(#gobs)"/><circle cx="1003.1" cy="331.1" r="2.8" fill="url(#gobs)"/><circle cx="1003.3" cy="329.2" r="2.8" fill="url(#gobs)"/><circle cx="1003.6" cy="327.5" r="2.8" fill="url(#gobs)"/><circle cx="1003.9" cy="329.0" r="2.8" fill="url(#gobs)"/><circle cx="1004.1" cy="331.7" r="2.8" fill="url(#gobs)"/><circle cx="1004.3" cy="333.6" r="2.8" fill="url(#gobs)"/><circle cx="1004.4" cy="335.3" r="2.8" fill="url(#gobs)"/><circle cx="1004.5" cy="337.3" r="2.8" fill="url(#gobs)"/><circle cx="1004.6" cy="338.6" r="2.8" fill="url(#gobs)"/><circle cx="1004.8" cy="340.6" r="2.8" fill="url(#gobs)"/><circle cx="1005.0" cy="343.0" r="2.8" fill="url(#gobs)"/><circle cx="1026.9" cy="337.9" r="2.8" fill="url(#gobs)"/><circle cx="1027.1" cy="336.0" r="2.8" fill="url(#gobs)"/><circle cx="1028.1" cy="337.8" r="2.8" fill="url(#gobs)"/><circle cx="1028.4" cy="339.7" r="2.8" fill="url(#gobs)"/><circle cx="1044.3" cy="340.0" r="2.8" fill="url(#gobs)"/><circle cx="1044.5" cy="337.9" r="2.8" fill="url(#gobs)"/><circle cx="1044.8" cy="335.7" r="2.8" fill="url(#gobs)"/><circle cx="1045.2" cy="334.2" r="2.8" fill="url(#gobs)"/><circle cx="1045.7" cy="335.6" r="2.8" fill="url(#gobs)"/><circle cx="1045.9" cy="337.5" r="2.8" fill="url(#gobs)"/><circle cx="1046.2" cy="340.2" r="2.8" fill="url(#gobs)"/><circle cx="1065.7" cy="342.5" r="2.8" fill="url(#gobs)"/><circle cx="1065.9" cy="340.9" r="2.8" fill="url(#gobs)"/><circle cx="1066.0" cy="339.5" r="2.8" fill="url(#gobs)"/><circle cx="1066.1" cy="338.1" r="2.8" fill="url(#gobs)"/><circle cx="1066.2" cy="336.3" r="2.8" fill="url(#gobs)"/><circle cx="1066.4" cy="334.5" r="2.8" fill="url(#gobs)"/><circle cx="1066.5" cy="332.9" r="2.8" fill="url(#gobs)"/><circle cx="1066.6" cy="331.0" r="2.8" fill="url(#gobs)"/><circle cx="1066.9" cy="328.3" r="2.8" fill="url(#gobs)"/><circle cx="1067.0" cy="327.2" r="2.8" fill="url(#gobs)"/><circle cx="1067.8" cy="329.5" r="2.8" fill="url(#gobs)"/><circle cx="1067.9" cy="331.1" r="2.8" fill="url(#gobs)"/><circle cx="1068.0" cy="332.4" r="2.8" fill="url(#gobs)"/><circle cx="1068.1" cy="334.2" r="2.8" fill="url(#gobs)"/><circle cx="1068.3" cy="336.1" r="2.8" fill="url(#gobs)"/><circle cx="1068.4" cy="338.0" r="2.8" fill="url(#gobs)"/><circle cx="1068.6" cy="340.6" r="2.8" fill="url(#gobs)"/><circle cx="1069.0" cy="343.6" r="2.8" fill="url(#gobs)"/><polyline points="798.6,346.0 798.7,346.0 798.8,346.0 799.0,346.0 799.1,346.0 799.2,346.0 799.3,346.0 799.5,346.0 799.6,346.0 799.7,346.1 799.8,346.1 799.9,346.1 800.1,346.1 800.2,346.1 800.3,346.1 800.4,346.1 800.6,346.1 800.7,346.1 800.8,346.1 800.9,346.1 801.0,346.1 801.2,346.1 801.3,346.1 801.4,346.2 801.5,346.2 801.7,346.2 801.8,346.2 801.9,346.2 802.0,346.2 802.1,346.2 802.3,346.2 802.4,346.2 802.5,346.2 802.6,346.2 802.8,346.2 802.9,346.2 803.0,346.2 803.1,346.2 803.3,346.2 803.4,346.3 803.5,346.3 803.6,346.3 803.7,346.3 803.9,346.3 804.0,346.3 804.1,346.3 804.2,346.3 804.4,346.3 804.5,346.3 804.6,346.3 804.7,346.3 804.8,346.3 805.0,346.3 805.1,346.3 805.2,346.3 805.3,346.3 805.5,346.4 805.6,346.4 805.7,346.4 805.8,346.4 805.9,346.4 806.1,346.4 806.2,346.4 806.3,346.4 806.4,346.4 806.6,346.4 806.7,346.4 806.8,346.4 806.9,346.4 807.0,346.4 807.2,346.4 807.3,346.4 807.4,346.4 807.5,346.4 807.7,346.4 807.8,346.4 807.9,346.5 808.0,346.5 808.1,346.5 808.3,346.5 808.4,346.5 808.5,346.5 808.6,346.5 808.8,346.5 808.9,346.5 809.0,346.5 809.1,346.5 809.2,346.5 809.4,346.5 809.5,346.5 809.6,346.5 809.7,346.5 809.9,346.5 810.0,346.5 810.1,346.5 810.2,346.5 810.4,346.5 810.5,346.5 810.6,346.5 810.7,346.6 810.8,346.6 811.0,346.6 811.1,346.6 811.2,346.6 811.3,346.6 811.5,346.6 811.6,346.6 811.7,346.6 811.8,346.6 811.9,346.6 812.1,346.6 812.2,346.6 812.3,346.6 812.4,346.6 812.6,346.6 812.7,346.6 812.8,346.6 812.9,346.6 813.0,346.6 813.2,346.6 813.3,346.6 813.4,346.6 813.5,346.6 813.7,346.6 813.8,346.6 813.9,346.6 814.0,346.6 814.1,346.6 814.3,346.7 814.4,346.7 814.5,346.7 814.6,346.7 814.8,346.7 814.9,346.7 815.0,346.7 815.1,346.7 815.2,346.7 815.4,346.7 815.5,346.7 815.6,346.7 815.7,346.7 815.9,346.7 816.0,346.7 816.1,346.7 816.2,346.7 816.3,346.7 816.5,346.7 816.6,346.7 816.7,346.7 816.8,346.7 817.0,346.7 817.1,346.7 817.2,346.7 817.3,346.7 817.4,346.7 817.6,346.7 817.7,346.7 817.8,346.7 817.9,346.7 818.1,346.7 818.2,346.7 818.3,346.7 818.4,346.7 818.6,346.7 818.7,346.7 818.8,346.7 818.9,346.7 819.0,346.8 819.2,346.8 819.3,346.8 819.4,346.8 819.5,346.8 819.7,346.8 819.8,346.8 819.9,346.8 820.0,346.8 820.1,346.8 820.3,346.8 820.4,346.8 820.5,346.8 820.6,346.8 820.8,346.8 820.9,346.8 821.0,346.8 821.1,346.8 821.2,346.8 821.4,346.8 821.5,346.8 821.6,346.8 821.7,346.8 821.9,346.8 822.0,346.8 822.1,346.8 822.2,346.8 822.3,346.8 822.5,346.8 822.6,346.8 822.7,346.8 822.8,346.8 823.0,346.8 823.1,346.8 823.2,346.8 823.3,346.8 823.4,346.8 823.6,346.8 823.7,346.8 823.8,346.8 823.9,346.8 824.1,346.8 824.2,346.8 824.3,346.8 824.4,346.8 824.5,346.8 824.7,346.8 824.8,346.8 824.9,346.8 825.0,346.8 825.2,346.8 825.3,346.8 825.4,346.8 825.5,346.8 825.7,346.8 825.8,346.8 825.9,346.8 826.0,346.8 826.1,346.8 826.3,346.8 826.4,346.8 826.5,346.8 826.6,346.8 826.8,346.8 826.9,346.8 827.0,346.8 827.1,346.8 827.2,346.8 827.4,346.8 827.5,346.8 827.6,346.8 827.7,346.8 827.9,346.8 828.0,346.8 828.1,346.8 828.2,346.8 828.3,346.8 828.5,346.8 828.6,346.8 828.7,346.8 828.8,346.8 829.0,346.8 829.1,346.8 829.2,346.8 829.3,346.8 829.4,346.8 829.6,346.7 829.7,346.7 829.8,346.7 829.9,346.7 830.1,346.7 830.2,346.7 830.3,346.7 830.4,346.7 830.5,346.7 830.7,346.7 830.8,346.7 830.9,346.7 831.0,346.7 831.2,346.7 831.3,346.7 831.4,346.7 831.5,346.6 831.6,346.6 831.8,346.6 831.9,346.6 832.0,346.6 832.1,346.6 832.3,346.6 832.4,346.6 832.5,346.5 832.6,346.5 832.7,346.5 832.9,346.5 833.0,346.5 833.1,346.5 833.2,346.4 833.4,346.4 833.5,346.4 833.6,346.4 833.7,346.3 833.9,346.3 834.0,346.3 834.1,346.2 834.2,346.2 834.3,346.2 834.5,346.1 834.6,346.1 834.7,346.0 834.8,346.0 835.0,345.9 835.1,345.9 835.2,345.8 835.3,345.7 835.4,345.6 835.6,345.5 835.7,345.4 835.8,345.3 835.9,345.2 836.1,345.1 836.2,344.9 836.3,344.8 836.4,344.6 836.5,344.4 836.7,344.1 836.8,343.8 836.9,343.4 837.0,342.9 837.2,342.2 837.3,341.1 837.4,339.6 837.5,337.2 837.6,333.6 837.8,328.3 837.9,320.6 838.0,309.9 838.1,295.5 838.3,277.0 838.4,254.2 838.5,227.6 838.6,198.0 838.7,167.1 838.9,137.1 839.0,110.8 839.1,91.1 839.2,80.4 839.4,80.4 839.5,91.1 839.6,110.8 839.7,137.1 839.8,167.1 840.0,198.0 840.1,227.6 840.2,254.2 840.3,277.0 840.5,295.5 840.6,309.9 840.7,320.6 840.8,328.3 841.0,333.6 841.1,337.2 841.2,339.6 841.3,341.2 841.4,342.2 841.6,342.9 841.7,343.5 841.8,343.8 841.9,344.1 842.1,344.4 842.2,344.6 842.3,344.8 842.4,345.0 842.5,345.1 842.7,345.3 842.8,345.4 842.9,345.5 843.0,345.6 843.2,345.7 843.3,345.8 843.4,345.8 843.5,345.9 843.6,346.0 843.8,346.0 843.9,346.1 844.0,346.1 844.1,346.2 844.3,346.2 844.4,346.3 844.5,346.3 844.6,346.3 844.7,346.4 844.9,346.4 845.0,346.4 845.1,346.5 845.2,346.5 845.4,346.5 845.5,346.5 845.6,346.6 845.7,346.6 845.8,346.6 846.0,346.6 846.1,346.6 846.2,346.7 846.3,346.7 846.5,346.7 846.6,346.7 846.7,346.7 846.8,346.7 846.9,346.7 847.1,346.8 847.2,346.8 847.3,346.8 847.4,346.8 847.6,346.8 847.7,346.8 847.8,346.8 847.9,346.8 848.0,346.8 848.2,346.8 848.3,346.8 848.4,346.9 848.5,346.9 848.7,346.9 848.8,346.9 848.9,346.9 849.0,346.9 849.2,346.9 849.3,346.9 849.4,346.9 849.5,346.9 849.6,346.9 849.8,346.9 849.9,346.9 850.0,346.9 850.1,346.9 850.3,346.9 850.4,346.9 850.5,347.0 850.6,347.0 850.7,347.0 850.9,347.0 851.0,347.0 851.1,347.0 851.2,347.0 851.4,347.0 851.5,347.0 851.6,347.0 851.7,347.0 851.8,347.0 852.0,347.0 852.1,347.0 852.2,347.0 852.3,347.0 852.5,347.0 852.6,347.0 852.7,347.0 852.8,347.0 852.9,347.0 853.1,347.0 853.2,347.0 853.3,347.0 853.4,347.0 853.6,347.0 853.7,347.0 853.8,347.0 853.9,347.0 854.0,347.0 854.2,347.0 854.3,347.0 854.4,347.0 854.5,347.0 854.7,347.0 854.8,347.0 854.9,347.0 855.0,347.0 855.1,347.1 855.3,347.1 855.4,347.1 855.5,347.1 855.6,347.1 855.8,347.1 855.9,347.1 856.0,347.1 856.1,347.1 856.3,347.1 856.4,347.1 856.5,347.1 856.6,347.1 856.7,347.1 856.9,347.1 857.0,347.1 857.1,347.1 857.2,347.1 857.4,347.1 857.5,347.1 857.6,347.1 857.7,347.1 857.8,347.1 858.0,347.1 858.1,347.1 858.2,347.1 858.3,347.1 858.5,347.1 858.6,347.1 858.7,347.1 858.8,347.1 858.9,347.1 859.1,347.1 859.2,347.1 859.3,347.1 859.4,347.1 859.6,347.1 859.7,347.1 859.8,347.1 859.9,347.1 860.0,347.1 860.2,347.1 860.3,347.1 860.4,347.1 860.5,347.1 860.7,347.1 860.8,347.1 860.9,347.1 861.0,347.1 861.1,347.1 861.3,347.1 861.4,347.1 861.5,347.1 861.6,347.1 861.8,347.1 861.9,347.1 862.0,347.1 862.1,347.1 862.2,347.1 862.4,347.1 862.5,347.1 862.6,347.1 862.7,347.1 862.9,347.1 863.0,347.1 863.1,347.1 863.2,347.1 863.3,347.1 863.5,347.1 863.6,347.1 863.7,347.1 863.8,347.1 864.0,347.1 864.1,347.1 864.2,347.1 864.3,347.1 864.5,347.1 864.6,347.1 864.7,347.1 864.8,347.1 864.9,347.1 865.1,347.1 865.2,347.1 865.3,347.1 865.4,347.1 865.6,347.1 865.7,347.1 865.8,347.1 865.9,347.1 866.0,347.1 866.2,347.1 866.3,347.1 866.4,347.1 866.5,347.1 866.7,347.1 866.8,347.1 866.9,347.1 867.0,347.1 867.1,347.1 867.3,347.1 867.4,347.1 867.5,347.1 867.6,347.1 867.8,347.1 867.9,347.1 868.0,347.1 868.1,347.1 868.2,347.1 868.4,347.1 868.5,347.1 868.6,347.1 868.7,347.1 868.9,347.1 869.0,347.1 869.1,347.1 869.2,347.1 869.3,347.1 869.5,347.1 869.6,347.1 869.7,347.1 869.8,347.1 870.0,347.1 870.1,347.1 870.2,347.1 870.3,347.1 870.4,347.1 870.6,347.1 870.7,347.1 870.8,347.1 870.9,347.1 871.1,347.1 871.2,347.1 871.3,347.1 871.4,347.1 871.6,347.1 871.7,347.1 871.8,347.1 871.9,347.1 872.0,347.1 872.2,347.1 872.3,347.1 872.4,347.1 872.5,347.1 872.7,347.1 872.8,347.1 872.9,347.1 873.0,347.1 873.1,347.1 873.3,347.1 873.4,347.1 873.5,347.1 873.6,347.1 873.8,347.1 873.9,347.1 874.0,347.1 874.1,347.1 874.2,347.1 874.4,347.1 874.5,347.1 874.6,347.1 874.7,347.1 874.9,347.1 875.0,347.1 875.1,347.1 875.2,347.1 875.3,347.1 875.5,347.1 875.6,347.1 875.7,347.1 875.8,347.1 876.0,347.1 876.1,347.1 876.2,347.1 876.3,347.1 876.4,347.1 876.6,347.1 876.7,347.1 876.8,347.1 876.9,347.1 877.1,347.1 877.2,347.1 877.3,347.1 877.4,347.1 877.5,347.1 877.7,347.1 877.8,347.1 877.9,347.1 878.0,347.1 878.2,347.1 878.3,347.1 878.4,347.1 878.5,347.1 878.6,347.1 878.8,347.1 878.9,347.1 879.0,347.1 879.1,347.1 879.3,347.1 879.4,347.1 879.5,347.1 879.6,347.1 879.8,347.1 879.9,347.1 880.0,347.1 880.1,347.1 880.2,347.1 880.4,347.1 880.5,347.1 880.6,347.1 880.7,347.1 880.9,347.1 881.0,347.1 881.1,347.1 881.2,347.1 881.3,347.1 881.5,347.1 881.6,347.1 881.7,347.1 881.8,347.1 882.0,347.1 882.1,347.1 882.2,347.1 882.3,347.1 882.4,347.1 882.6,347.1 882.7,347.1 882.8,347.1 882.9,347.1 883.1,347.1 883.2,347.1 883.3,347.1 883.4,347.1 883.5,347.1 883.7,347.1 883.8,347.1 883.9,347.1 884.0,347.1 884.2,347.1 884.3,347.1 884.4,347.1 884.5,347.1 884.6,347.1 884.8,347.1 884.9,347.1 885.0,347.1 885.1,347.1 885.3,347.1 885.4,347.1 885.5,347.1 885.6,347.1 885.7,347.1 885.9,347.1 886.0,347.1 886.1,347.1 886.2,347.1 886.4,347.1 886.5,347.1 886.6,347.1 886.7,347.1 886.9,347.1 887.0,347.1 887.1,347.1 887.2,347.1 887.3,347.1 887.5,347.1 887.6,347.1 887.7,347.1 887.8,347.1 888.0,347.1 888.1,347.1 888.2,347.1 888.3,347.1 888.4,347.1 888.6,347.1 888.7,347.1 888.8,347.1 888.9,347.1 889.1,347.1 889.2,347.1 889.3,347.1 889.4,347.1 889.5,347.1 889.7,347.1 889.8,347.1 889.9,347.1 890.0,347.1 890.2,347.0 890.3,347.0 890.4,347.0 890.5,347.0 890.6,347.0 890.8,347.0 890.9,347.0 891.0,347.0 891.1,347.0 891.3,347.0 891.4,347.0 891.5,347.0 891.6,347.0 891.7,347.0 891.9,347.0 892.0,346.9 892.1,346.9 892.2,346.9 892.4,346.9 892.5,346.9 892.6,346.9 892.7,346.9 892.8,346.8 893.0,346.8 893.1,346.8 893.2,346.8 893.3,346.8 893.5,346.7 893.6,346.7 893.7,346.7 893.8,346.6 893.9,346.6 894.1,346.5 894.2,346.5 894.3,346.4 894.4,346.3 894.6,346.2 894.7,346.0 894.8,345.8 894.9,345.4 895.1,344.8 895.2,344.0 895.3,342.7 895.4,340.9 895.5,338.4 895.7,335.0 895.8,330.7 895.9,325.3 896.0,319.0 896.2,312.1 896.3,304.8 896.4,297.8 896.5,291.6 896.6,287.0 896.8,284.5 896.9,284.5 897.0,287.0 897.1,291.6 897.3,297.8 897.4,304.8 897.5,312.1 897.6,319.0 897.7,325.3 897.9,330.6 898.0,335.0 898.1,338.4 898.2,340.9 898.4,342.7 898.5,343.9 898.6,344.8 898.7,345.3 898.8,345.7 899.0,346.0 899.1,346.1 899.2,346.2 899.3,346.3 899.5,346.4 899.6,346.4 899.7,346.5 899.8,346.5 899.9,346.6 900.1,346.6 900.2,346.6 900.3,346.6 900.4,346.6 900.6,346.6 900.7,346.6 900.8,346.6 900.9,346.6 901.0,346.6 901.2,346.5 901.3,346.4 901.4,346.2 901.5,345.9 901.7,345.5 901.8,345.0 901.9,344.3 902.0,343.5 902.2,342.5 902.3,341.4 902.4,340.2 902.5,339.1 902.6,338.1 902.8,337.4 902.9,337.0 903.0,337.0 903.1,337.4 903.3,338.2 903.4,339.1 903.5,340.3 903.6,341.4 903.7,342.5 903.9,343.5 904.0,344.4 904.1,345.1 904.2,345.6 904.4,346.0 904.5,346.3 904.6,346.5 904.7,346.6 904.8,346.7 905.0,346.7 905.1,346.8 905.2,346.8 905.3,346.8 905.5,346.8 905.6,346.8 905.7,346.8 905.8,346.8 905.9,346.8 906.1,346.8 906.2,346.8 906.3,346.8 906.4,346.8 906.6,346.8 906.7,346.8 906.8,346.8 906.9,346.8 907.0,346.8 907.2,346.8 907.3,346.8 907.4,346.7 907.5,346.7 907.7,346.7 907.8,346.7 907.9,346.7 908.0,346.6 908.1,346.6 908.3,346.6 908.4,346.5 908.5,346.5 908.6,346.4 908.8,346.4 908.9,346.3 909.0,346.2 909.1,346.1 909.2,346.0 909.4,345.7 909.5,345.5 909.6,345.0 909.7,344.3 909.9,343.3 910.0,341.8 910.1,339.6 910.2,336.6 910.4,332.5 910.5,327.3 910.6,320.8 910.7,313.2 910.8,304.9 911.0,296.1 911.1,287.6 911.2,280.1 911.3,274.5 911.5,271.5 911.6,271.5 911.7,274.6 911.8,280.2 911.9,287.6 912.1,296.1 912.2,304.9 912.3,313.3 912.4,320.8 912.6,327.3 912.7,332.5 912.8,336.6 912.9,339.6 913.0,341.8 913.2,343.3 913.3,344.4 913.4,345.0 913.5,345.5 913.7,345.8 913.8,346.0 913.9,346.1 914.0,346.2 914.1,346.3 914.3,346.4 914.4,346.4 914.5,346.5 914.6,346.5 914.8,346.6 914.9,346.6 915.0,346.7 915.1,346.7 915.2,346.7 915.4,346.7 915.5,346.8 915.6,346.8 915.7,346.8 915.9,346.8 916.0,346.8 916.1,346.9 916.2,346.9 916.3,346.9 916.5,346.9 916.6,346.9 916.7,346.9 916.8,346.9 917.0,346.9 917.1,346.9 917.2,347.0 917.3,347.0 917.5,347.0 917.6,347.0 917.7,347.0 917.8,347.0 917.9,347.0 918.1,347.0 918.2,347.0 918.3,347.0 918.4,347.0 918.6,347.0 918.7,347.0 918.8,347.0 918.9,347.0 919.0,347.0 919.2,347.0 919.3,347.0 919.4,347.0 919.5,347.0 919.7,347.0 919.8,347.0 919.9,347.0 920.0,347.0 920.1,347.0 920.3,347.0 920.4,347.0 920.5,347.0 920.6,347.0 920.8,347.0 920.9,347.0 921.0,347.0 921.1,347.0 921.2,347.0 921.4,347.0 921.5,347.0 921.6,347.0 921.7,347.0 921.9,347.0 922.0,347.0 922.1,347.0 922.2,347.0 922.3,347.0 922.5,347.0 922.6,347.0 922.7,347.0 922.8,347.0 923.0,347.0 923.1,347.0 923.2,347.0 923.3,347.0 923.4,346.9 923.6,346.9 923.7,346.9 923.8,346.9 923.9,346.9 924.1,346.9 924.2,346.9 924.3,346.8 924.4,346.8 924.5,346.8 924.7,346.8 924.8,346.7 924.9,346.7 925.0,346.6 925.2,346.5 925.3,346.4 925.4,346.2 925.5,345.9 925.7,345.4 925.8,344.8 925.9,343.9 926.0,342.7 926.1,341.2 926.3,339.2 926.4,336.7 926.5,333.9 926.6,330.6 926.8,327.2 926.9,323.7 927.0,320.4 927.1,317.5 927.2,315.4 927.4,314.3 927.5,314.3 927.6,315.4 927.7,317.5 927.9,320.4 928.0,323.7 928.1,327.2 928.2,330.7 928.3,333.9 928.5,336.8 928.6,339.2 928.7,341.2 928.8,342.7 929.0,343.9 929.1,344.8 929.2,345.4 929.3,345.9 929.4,346.2 929.6,346.4 929.7,346.5 929.8,346.6 929.9,346.7 930.1,346.7 930.2,346.8 930.3,346.8 930.4,346.8 930.5,346.9 930.7,346.9 930.8,346.9 930.9,346.9 931.0,346.9 931.2,346.9 931.3,347.0 931.4,347.0 931.5,347.0 931.6,347.0 931.8,347.0 931.9,347.0 932.0,347.0 932.1,347.0 932.3,347.0 932.4,347.0 932.5,347.0 932.6,347.0 932.8,347.0 932.9,347.0 933.0,347.1 933.1,347.1 933.2,347.1 933.4,347.1 933.5,347.1 933.6,347.1 933.7,347.1 933.9,347.1 934.0,347.1 934.1,347.1 934.2,347.1 934.3,347.1 934.5,347.1 934.6,347.1 934.7,347.1 934.8,347.1 935.0,347.1 935.1,347.1 935.2,347.1 935.3,347.1 935.4,347.1 935.6,347.1 935.7,347.1 935.8,347.1 935.9,347.1 936.1,347.1 936.2,347.1 936.3,347.1 936.4,347.1 936.5,347.1 936.7,347.1 936.8,347.1 936.9,347.1 937.0,347.1 937.2,347.1 937.3,347.1 937.4,347.1 937.5,347.1 937.6,347.1 937.8,347.1 937.9,347.1 938.0,347.1 938.1,347.1 938.3,347.1 938.4,347.1 938.5,347.0 938.6,347.0 938.7,347.0 938.9,347.0 939.0,347.0 939.1,347.0 939.2,347.0 939.4,347.0 939.5,347.0 939.6,347.0 939.7,347.0 939.8,347.0 940.0,346.9 940.1,346.9 940.2,346.9 940.3,346.9 940.5,346.8 940.6,346.8 940.7,346.7 940.8,346.7 941.0,346.6 941.1,346.4 941.2,346.1 941.3,345.8 941.4,345.3 941.6,344.5 941.7,343.6 941.8,342.3 941.9,340.8 942.1,339.0 942.2,336.8 942.3,334.5 942.4,332.0 942.5,329.6 942.7,327.5 942.8,325.7 942.9,324.6 943.0,324.2 943.2,324.6 943.3,325.7 943.4,327.5 943.5,329.6 943.6,332.0 943.8,334.5 943.9,336.8 944.0,339.0 944.1,340.8 944.3,342.4 944.4,343.6 944.5,344.5 944.6,345.3 944.7,345.8 944.9,346.1 945.0,346.4 945.1,346.6 945.2,346.7 945.4,346.8 945.5,346.8 945.6,346.9 945.7,346.9 945.8,346.9 946.0,346.9 946.1,347.0 946.2,347.0 946.3,347.0 946.5,347.0 946.6,347.0 946.7,347.0 946.8,347.0 946.9,347.0 947.1,347.0 947.2,347.1 947.3,347.1 947.4,347.1 947.6,347.1 947.7,347.1 947.8,347.1 947.9,347.1 948.1,347.1 948.2,347.1 948.3,347.1 948.4,347.1 948.5,347.1 948.7,347.1 948.8,347.1 948.9,347.1 949.0,347.1 949.2,347.1 949.3,347.1 949.4,347.1 949.5,347.1 949.6,347.1 949.8,347.1 949.9,347.1 950.0,347.1 950.1,347.1 950.3,347.1 950.4,347.1 950.5,347.1 950.6,347.1 950.7,347.1 950.9,347.1 951.0,347.1 951.1,347.1 951.2,347.1 951.4,347.1 951.5,347.1 951.6,347.1 951.7,347.1 951.8,347.1 952.0,347.1 952.1,347.1 952.2,347.1 952.3,347.1 952.5,347.1 952.6,347.2 952.7,347.2 952.8,347.2 952.9,347.2 953.1,347.2 953.2,347.2 953.3,347.2 953.4,347.2 953.6,347.2 953.7,347.2 953.8,347.2 953.9,347.2 954.0,347.2 954.2,347.2 954.3,347.2 954.4,347.2 954.5,347.2 954.7,347.2 954.8,347.2 954.9,347.2 955.0,347.2 955.1,347.2 955.3,347.2 955.4,347.2 955.5,347.2 955.6,347.2 955.8,347.2 955.9,347.2 956.0,347.2 956.1,347.2 956.3,347.2 956.4,347.2 956.5,347.2 956.6,347.2 956.7,347.2 956.9,347.2 957.0,347.2 957.1,347.2 957.2,347.2 957.4,347.2 957.5,347.2 957.6,347.2 957.7,347.2 957.8,347.2 958.0,347.2 958.1,347.2 958.2,347.2 958.3,347.2 958.5,347.2 958.6,347.2 958.7,347.2 958.8,347.2 958.9,347.2 959.1,347.2 959.2,347.2 959.3,347.2 959.4,347.2 959.6,347.2 959.7,347.2 959.8,347.2 959.9,347.2 960.0,347.2 960.2,347.2 960.3,347.2 960.4,347.2 960.5,347.2 960.7,347.2 960.8,347.2 960.9,347.2 961.0,347.2 961.1,347.2 961.3,347.2 961.4,347.2 961.5,347.2 961.6,347.2 961.8,347.2 961.9,347.2 962.0,347.2 962.1,347.2 962.2,347.2 962.4,347.2 962.5,347.2 962.6,347.2 962.7,347.2 962.9,347.2 963.0,347.2 963.1,347.2 963.2,347.2 963.4,347.2 963.5,347.2 963.6,347.2 963.7,347.2 963.8,347.2 964.0,347.2 964.1,347.2 964.2,347.2 964.3,347.2 964.5,347.2 964.6,347.2 964.7,347.2 964.8,347.2 964.9,347.2 965.1,347.2 965.2,347.2 965.3,347.2 965.4,347.2 965.6,347.2 965.7,347.2 965.8,347.2 965.9,347.2 966.0,347.2 966.2,347.2 966.3,347.2 966.4,347.2 966.5,347.1 966.7,347.1 966.8,347.1 966.9,347.1 967.0,347.1 967.1,347.1 967.3,347.1 967.4,347.1 967.5,347.1 967.6,347.1 967.8,347.1 967.9,347.1 968.0,347.1 968.1,347.1 968.2,347.1 968.4,347.1 968.5,347.1 968.6,347.1 968.7,347.1 968.9,347.1 969.0,347.1 969.1,347.1 969.2,347.1 969.3,347.1 969.5,347.1 969.6,347.1 969.7,347.1 969.8,347.1 970.0,347.1 970.1,347.1 970.2,347.1 970.3,347.1 970.4,347.1 970.6,347.1 970.7,347.1 970.8,347.1 970.9,347.1 971.1,347.1 971.2,347.1 971.3,347.1 971.4,347.1 971.6,347.1 971.7,347.1 971.8,347.1 971.9,347.1 972.0,347.1 972.2,347.1 972.3,347.1 972.4,347.1 972.5,347.1 972.7,347.1 972.8,347.1 972.9,347.1 973.0,347.1 973.1,347.1 973.3,347.1 973.4,347.1 973.5,347.1 973.6,347.1 973.8,347.1 973.9,347.1 974.0,347.0 974.1,347.0 974.2,347.0 974.4,347.0 974.5,347.0 974.6,347.0 974.7,347.0 974.9,347.0 975.0,347.0 975.1,347.0 975.2,347.0 975.3,347.0 975.5,347.0 975.6,346.9 975.7,346.9 975.8,346.9 976.0,346.9 976.1,346.9 976.2,346.9 976.3,346.8 976.4,346.8 976.6,346.8 976.7,346.7 976.8,346.7 976.9,346.6 977.1,346.5 977.2,346.3 977.3,346.2 977.4,345.9 977.5,345.6 977.7,345.1 977.8,344.6 977.9,343.9 978.0,343.1 978.2,342.0 978.3,340.8 978.4,339.4 978.5,337.8 978.7,336.1 978.8,334.2 978.9,332.2 979.0,330.3 979.1,328.4 979.3,326.7 979.4,325.2 979.5,324.1 979.6,323.4 979.8,323.1 979.9,323.4 980.0,324.1 980.1,325.2 980.2,326.7 980.4,328.4 980.5,330.3 980.6,332.2 980.7,334.2 980.9,336.0 981.0,337.8 981.1,339.4 981.2,340.8 981.3,342.0 981.5,343.0 981.6,343.9 981.7,344.6 981.8,345.1 982.0,345.5 982.1,345.9 982.2,346.1 982.3,346.3 982.4,346.4 982.6,346.5 982.7,346.6 982.8,346.7 982.9,346.7 983.1,346.7 983.2,346.8 983.3,346.8 983.4,346.8 983.5,346.8 983.7,346.8 983.8,346.8 983.9,346.8 984.0,346.8 984.2,346.9 984.3,346.9 984.4,346.9 984.5,346.9 984.6,346.9 984.8,346.9 984.9,346.9 985.0,346.9 985.1,346.9 985.3,346.9 985.4,346.9 985.5,346.9 985.6,346.9 985.7,346.8 985.9,346.8 986.0,346.8 986.1,346.8 986.2,346.8 986.4,346.8 986.5,346.8 986.6,346.8 986.7,346.8 986.9,346.7 987.0,346.7 987.1,346.7 987.2,346.7 987.3,346.6 987.5,346.6 987.6,346.6 987.7,346.5 987.8,346.4 988.0,346.3 988.1,346.2 988.2,346.0 988.3,345.7 988.4,345.3 988.6,344.9 988.7,344.3 988.8,343.5 988.9,342.5 989.1,341.3 989.2,339.9 989.3,338.1 989.4,336.1 989.5,333.9 989.7,331.4 989.8,328.7 989.9,326.0 990.0,323.2 990.2,320.6 990.3,318.1 990.4,316.0 990.5,314.4 990.6,313.4 990.8,313.1 990.9,313.4 991.0,314.4 991.1,316.0 991.3,318.1 991.4,320.6 991.5,323.2 991.6,326.0 991.7,328.7 991.9,331.4 992.0,333.9 992.1,336.1 992.2,338.1 992.4,339.8 992.5,341.3 992.6,342.5 992.7,343.5 992.8,344.2 993.0,344.8 993.1,345.3 993.2,345.6 993.3,345.9 993.5,346.1 993.6,346.2 993.7,346.3 993.8,346.4 994.0,346.5 994.1,346.5 994.2,346.6 994.3,346.6 994.4,346.6 994.6,346.6 994.7,346.6 994.8,346.7 994.9,346.7 995.1,346.7 995.2,346.7 995.3,346.7 995.4,346.7 995.5,346.7 995.7,346.7 995.8,346.7 995.9,346.7 996.0,346.7 996.2,346.7 996.3,346.7 996.4,346.6 996.5,346.6 996.6,346.6 996.8,346.6 996.9,346.6 997.0,346.5 997.1,346.5 997.3,346.4 997.4,346.3 997.5,346.2 997.6,346.1 997.7,345.9 997.9,345.6 998.0,345.2 998.1,344.7 998.2,344.1 998.4,343.3 998.5,342.3 998.6,341.1 998.7,339.6 998.8,337.9 999.0,336.0 999.1,333.8 999.2,331.5 999.3,329.0 999.5,326.5 999.6,324.0 999.7,321.6 999.8,319.6 999.9,317.9 1000.1,316.6 1000.2,316.0 1000.3,316.0 1000.4,316.6 1000.6,317.8 1000.7,319.5 1000.8,321.5 1000.9,323.8 1001.0,326.2 1001.2,328.7 1001.3,331.1 1001.4,333.3 1001.5,335.2 1001.7,336.9 1001.8,338.2 1001.9,339.2 1002.0,339.7 1002.2,339.9 1002.3,339.7 1002.4,339.1 1002.5,338.2 1002.6,337.0 1002.8,335.6 1002.9,334.1 1003.0,332.5 1003.1,331.0 1003.3,329.7 1003.4,328.6 1003.5,327.9 1003.6,327.7 1003.7,328.0 1003.9,328.8 1004.0,329.9 1004.1,331.4 1004.2,333.0 1004.4,334.8 1004.5,336.5 1004.6,338.2 1004.7,339.8 1004.8,341.2 1005.0,342.4 1005.1,343.4 1005.2,344.2 1005.3,344.9 1005.5,345.4 1005.6,345.8 1005.7,346.1 1005.8,346.3 1005.9,346.4 1006.1,346.5 1006.2,346.6 1006.3,346.7 1006.4,346.7 1006.6,346.8 1006.7,346.8 1006.8,346.8 1006.9,346.8 1007.0,346.9 1007.2,346.9 1007.3,346.9 1007.4,346.9 1007.5,346.9 1007.7,346.9 1007.8,346.9 1007.9,347.0 1008.0,347.0 1008.1,347.0 1008.3,347.0 1008.4,347.0 1008.5,347.0 1008.6,347.0 1008.8,347.0 1008.9,347.0 1009.0,347.0 1009.1,347.0 1009.3,347.0 1009.4,347.0 1009.5,347.0 1009.6,347.0 1009.7,347.0 1009.9,347.1 1010.0,347.1 1010.1,347.1 1010.2,347.1 1010.4,347.1 1010.5,347.1 1010.6,347.1 1010.7,347.1 1010.8,347.1 1011.0,347.1 1011.1,347.1 1011.2,347.1 1011.3,347.1 1011.5,347.1 1011.6,347.1 1011.7,347.1 1011.8,347.1 1011.9,347.1 1012.1,347.1 1012.2,347.1 1012.3,347.1 1012.4,347.1 1012.6,347.1 1012.7,347.1 1012.8,347.1 1012.9,347.1 1013.0,347.1 1013.2,347.1 1013.3,347.1 1013.4,347.1 1013.5,347.1 1013.7,347.1 1013.8,347.1 1013.9,347.1 1014.0,347.1 1014.1,347.1 1014.3,347.1 1014.4,347.1 1014.5,347.1 1014.6,347.1 1014.8,347.1 1014.9,347.1 1015.0,347.1 1015.1,347.1 1015.2,347.1 1015.4,347.1 1015.5,347.1 1015.6,347.1 1015.7,347.1 1015.9,347.1 1016.0,347.1 1016.1,347.1 1016.2,347.1 1016.3,347.1 1016.5,347.1 1016.6,347.1 1016.7,347.1 1016.8,347.1 1017.0,347.1 1017.1,347.1 1017.2,347.1 1017.3,347.1 1017.5,347.1 1017.6,347.1 1017.7,347.1 1017.8,347.1 1017.9,347.1 1018.1,347.1 1018.2,347.1 1018.3,347.1 1018.4,347.1 1018.6,347.1 1018.7,347.1 1018.8,347.1 1018.9,347.1 1019.0,347.1 1019.2,347.1 1019.3,347.1 1019.4,347.1 1019.5,347.1 1019.7,347.1 1019.8,347.1 1019.9,347.1 1020.0,347.1 1020.1,347.1 1020.3,347.1 1020.4,347.1 1020.5,347.1 1020.6,347.1 1020.8,347.1 1020.9,347.1 1021.0,347.1 1021.1,347.1 1021.2,347.1 1021.4,347.1 1021.5,347.1 1021.6,347.1 1021.7,347.1 1021.9,347.1 1022.0,347.1 1022.1,347.1 1022.2,347.1 1022.3,347.1 1022.5,347.1 1022.6,347.1 1022.7,347.1 1022.8,347.1 1023.0,347.1 1023.1,347.1 1023.2,347.1 1023.3,347.1 1023.4,347.1 1023.6,347.0 1023.7,347.0 1023.8,347.0 1023.9,347.0 1024.1,347.0 1024.2,347.0 1024.3,347.0 1024.4,347.0 1024.6,346.9 1024.7,346.9 1024.8,346.8 1024.9,346.8 1025.0,346.7 1025.2,346.5 1025.3,346.4 1025.4,346.2 1025.5,345.9 1025.7,345.5 1025.8,345.1 1025.9,344.6 1026.0,344.0 1026.1,343.3 1026.3,342.5 1026.4,341.6 1026.5,340.7 1026.6,339.7 1026.8,338.7 1026.9,337.8 1027.0,336.9 1027.1,336.2 1027.2,335.6 1027.4,335.3 1027.5,335.2 1027.6,335.3 1027.7,335.6 1027.9,336.2 1028.0,336.9 1028.1,337.8 1028.2,338.7 1028.3,339.7 1028.5,340.7 1028.6,341.6 1028.7,342.5 1028.8,343.3 1029.0,344.0 1029.1,344.6 1029.2,345.1 1029.3,345.5 1029.4,345.9 1029.6,346.2 1029.7,346.4 1029.8,346.5 1029.9,346.7 1030.1,346.7 1030.2,346.8 1030.3,346.9 1030.4,346.9 1030.5,346.9 1030.7,347.0 1030.8,347.0 1030.9,347.0 1031.0,347.0 1031.2,347.0 1031.3,347.0 1031.4,347.0 1031.5,347.0 1031.6,347.0 1031.8,347.0 1031.9,347.0 1032.0,347.0 1032.1,347.0 1032.3,347.0 1032.4,347.0 1032.5,347.0 1032.6,347.0 1032.8,347.0 1032.9,347.0 1033.0,347.0 1033.1,347.0 1033.2,347.0 1033.4,347.0 1033.5,347.0 1033.6,346.9 1033.7,346.9 1033.9,346.9 1034.0,346.8 1034.1,346.7 1034.2,346.6 1034.3,346.4 1034.5,346.3 1034.6,346.1 1034.7,345.8 1034.8,345.6 1035.0,345.3 1035.1,345.0 1035.2,344.6 1035.3,344.3 1035.4,344.0 1035.6,343.7 1035.7,343.5 1035.8,343.3 1035.9,343.2 1036.1,343.1 1036.2,343.2 1036.3,343.3 1036.4,343.5 1036.5,343.7 1036.7,344.0 1036.8,344.3 1036.9,344.6 1037.0,345.0 1037.2,345.3 1037.3,345.6 1037.4,345.8 1037.5,346.1 1037.6,346.3 1037.8,346.4 1037.9,346.6 1038.0,346.7 1038.1,346.8 1038.3,346.9 1038.4,346.9 1038.5,347.0 1038.6,347.0 1038.7,347.0 1038.9,347.0 1039.0,347.0 1039.1,347.0 1039.2,347.0 1039.4,347.0 1039.5,347.1 1039.6,347.1 1039.7,347.1 1039.9,347.1 1040.0,347.1 1040.1,347.1 1040.2,347.1 1040.3,347.1 1040.5,347.0 1040.6,347.0 1040.7,347.0 1040.8,347.0 1041.0,347.0 1041.1,347.0 1041.2,347.0 1041.3,347.0 1041.4,347.0 1041.6,347.0 1041.7,347.0 1041.8,347.0 1041.9,347.0 1042.1,346.9 1042.2,346.9 1042.3,346.9 1042.4,346.9 1042.5,346.8 1042.7,346.7 1042.8,346.6 1042.9,346.5 1043.0,346.3 1043.2,346.1 1043.3,345.8 1043.4,345.4 1043.5,344.9 1043.6,344.4 1043.8,343.7 1043.9,343.0 1044.0,342.1 1044.1,341.2 1044.3,340.1 1044.4,339.1 1044.5,338.0 1044.6,337.0 1044.7,336.1 1044.9,335.3 1045.0,334.7 1045.1,334.3 1045.2,334.2 1045.4,334.3 1045.5,334.7 1045.6,335.3 1045.7,336.1 1045.8,337.0 1046.0,338.0 1046.1,339.1 1046.2,340.1 1046.3,341.2 1046.5,342.1 1046.6,343.0 1046.7,343.7 1046.8,344.4 1046.9,344.9 1047.1,345.4 1047.2,345.8 1047.3,346.1 1047.4,346.3 1047.6,346.5 1047.7,346.6 1047.8,346.7 1047.9,346.8 1048.1,346.9 1048.2,346.9 1048.3,346.9 1048.4,347.0 1048.5,347.0 1048.7,347.0 1048.8,347.0 1048.9,347.0 1049.0,347.0 1049.2,347.0 1049.3,347.0 1049.4,347.0 1049.5,347.0 1049.6,347.1 1049.8,347.1 1049.9,347.1 1050.0,347.1 1050.1,347.1 1050.3,347.1 1050.4,347.1 1050.5,347.1 1050.6,347.1 1050.7,347.1 1050.9,347.1 1051.0,347.1 1051.1,347.1 1051.2,347.1 1051.4,347.1 1051.5,347.1 1051.6,347.1 1051.7,347.1 1051.8,347.1 1052.0,347.1 1052.1,347.1 1052.2,347.1 1052.3,347.1 1052.5,347.1 1052.6,347.1 1052.7,347.1 1052.8,347.1 1052.9,347.0 1053.1,347.0 1053.2,347.0 1053.3,347.0 1053.4,346.9 1053.6,346.9 1053.7,346.8 1053.8,346.7 1053.9,346.6 1054.0,346.5 1054.2,346.3 1054.3,346.2 1054.4,346.0 1054.5,345.7 1054.7,345.5 1054.8,345.3 1054.9,345.0 1055.0,344.8 1055.2,344.6 1055.3,344.4 1055.4,344.2 1055.5,344.2 1055.6,344.1 1055.8,344.2 1055.9,344.2 1056.0,344.4 1056.1,344.6 1056.3,344.8 1056.4,345.0 1056.5,345.3 1056.6,345.5 1056.7,345.7 1056.9,345.9 1057.0,346.1 1057.1,346.3 1057.2,346.5 1057.4,346.6 1057.5,346.7 1057.6,346.8 1057.7,346.8 1057.8,346.9 1058.0,346.9 1058.1,347.0 1058.2,347.0 1058.3,347.0 1058.5,347.0 1058.6,347.0 1058.7,347.0 1058.8,347.0 1058.9,347.0 1059.1,346.9 1059.2,346.9 1059.3,346.9 1059.4,346.8 1059.6,346.8 1059.7,346.7 1059.8,346.6 1059.9,346.4 1060.0,346.2 1060.2,346.0 1060.3,345.8 1060.4,345.5 1060.5,345.1 1060.7,344.8 1060.8,344.4 1060.9,344.0 1061.0,343.6 1061.1,343.2 1061.3,342.8 1061.4,342.5 1061.5,342.3 1061.6,342.1 1061.8,342.1 1061.9,342.1 1062.0,342.2 1062.1,342.5 1062.2,342.8 1062.4,343.1 1062.5,343.5 1062.6,343.9 1062.7,344.3 1062.9,344.7 1063.0,345.1 1063.1,345.4 1063.2,345.7 1063.4,345.9 1063.5,346.1 1063.6,346.3 1063.7,346.4 1063.8,346.5 1064.0,346.5 1064.1,346.6 1064.2,346.6 1064.3,346.6 1064.5,346.5 1064.6,346.5 1064.7,346.4 1064.8,346.2 1064.9,346.0 1065.1,345.7 1065.2,345.4 1065.3,344.9 1065.4,344.3 1065.6,343.6 1065.7,342.7 1065.8,341.6 1065.9,340.4 1066.0,339.0 1066.2,337.4 1066.3,335.8 1066.4,334.1 1066.5,332.4 1066.7,330.8 1066.8,329.3 1066.9,328.0 1067.0,327.0 1067.1,326.4 1067.3,326.2 1067.4,326.4 1067.5,327.0 1067.6,328.0 1067.8,329.3 1067.9,330.8 1068.0,332.4 1068.1,334.1 1068.2,335.8 1068.4,337.5 1068.5,339.0 1068.6,340.4 1068.7,341.6 1068.9,342.7 1069.0,343.6 1069.1,344.3 1069.2,344.9 1069.3,345.4 1069.5,345.8 1069.6,346.1 1069.7,346.3 1069.8,346.5 1070.0,346.6 1070.1,346.7 1070.2,346.7 1070.3,346.8 1070.5,346.8 1070.6,346.9 1070.7,346.9 1070.8,346.9 1070.9,346.9 1071.1,346.9 1071.2,347.0 1071.3,347.0 1071.4,347.0 1071.6,347.0 1071.7,347.0 1071.8,347.0 1071.9,347.0 1072.0,347.0 1072.2,347.0 1072.3,347.0 1072.4,347.0 1072.5,347.0 1072.7,347.0 1072.8,347.1 1072.9,347.1 1073.0,347.1 1073.1,347.1 1073.3,347.1 1073.4,347.1 1073.5,347.1 1073.6,347.1 1073.8,347.1 1073.9,347.1 1074.0,347.1 1074.1,347.1 1074.2,347.1 1074.4,347.1 1074.5,347.1 1074.6,347.1 1074.7,347.1 1074.9,347.1 1075.0,347.1 1075.1,347.1 1075.2,347.1 1075.3,347.1 1075.5,347.1 1075.6,347.1 1075.7,347.1 1075.8,347.1 1076.0,347.1 1076.1,347.1 1076.2,347.1 1076.3,347.1 1076.4,347.1 1076.6,347.1 1076.7,347.1 1076.8,347.1 1076.9,347.1 1077.1,347.1 1077.2,347.1 1077.3,347.1 1077.4,347.1 1077.5,347.1 1077.7,347.0 1077.8,347.0 1077.9,347.0 1078.0,347.0 1078.2,347.0 1078.3,346.9 1078.4,346.9 1078.5,346.8 1078.7,346.7 1078.8,346.6 1078.9,346.5 1079.0,346.3 1079.1,346.1 1079.3,345.9 1079.4,345.6 1079.5,345.2 1079.6,344.8 1079.8,344.4 1079.9,343.9 1080.0,343.4 1080.1,342.9 1080.2,342.3 1080.4,341.8 1080.5,341.3 1080.6,340.9 1080.7,340.6 1080.9,340.3 1081.0,340.2 1081.1,340.2 1081.2,340.3 1081.3,340.6 1081.5,340.9 1081.6,341.3 1081.7,341.8 1081.8,342.3 1082.0,342.9 1082.1,343.4 1082.2,343.9 1082.3,344.4 1082.4,344.9 1082.6,345.2 1082.7,345.6 1082.8,345.9 1082.9,346.1 1083.1,346.3 1083.2,346.5 1083.3,346.7 1083.4,346.8 1083.5,346.8 1083.7,346.9 1083.8,346.9 1083.9,347.0 1084.0,347.0 1084.2,347.0 1084.3,347.0 1084.4,347.1 1084.5,347.1 1084.6,347.1 1084.8,347.1 1084.9,347.1 1085.0,347.1 1085.1,347.1 1085.3,347.1 1085.4,347.1 1085.5,347.1 1085.6,347.1 1085.8,347.1 1085.9,347.1 1086.0,347.1 1086.1,347.1 1086.2,347.1 1086.4,347.1 1086.5,347.1 1086.6,347.1 1086.7,347.1 1086.9,347.1 1087.0,347.1 1087.1,347.1 1087.2,347.1 1087.3,347.1 1087.5,347.1 1087.6,347.1 1087.7,347.1 1087.8,347.1 1088.0,347.1 1088.1,347.1 1088.2,347.1 1088.3,347.1 1088.4,347.1 1088.6,347.1 1088.7,347.1 1088.8,347.1 1088.9,347.1 1089.1,347.1 1089.2,347.1 1089.3,347.1 1089.4,347.1 1089.5,347.1 1089.7,347.1 1089.8,347.1 1089.9,347.1 1090.0,347.1 1090.2,347.1 1090.3,347.1 1090.4,347.1 1090.5,347.1 1090.6,347.1 1090.8,347.1 1090.9,347.1 1091.0,347.1 1091.1,347.1 1091.3,347.1 1091.4,347.1 1091.5,347.1 1091.6,347.1 1091.7,347.1 1091.9,347.1 1092.0,347.1 1092.1,347.1 1092.2,347.1 1092.4,347.1 1092.5,347.1 1092.6,347.1 1092.7,347.1 1092.8,347.1 1093.0,347.1 1093.1,347.1 1093.2,347.0 1093.3,347.0 1093.5,347.0 1093.6,346.9 1093.7,346.8 1093.8,346.8 1094.0,346.7 1094.1,346.5 1094.2,346.4 1094.3,346.2 1094.4,345.9 1094.6,345.7 1094.7,345.4 1094.8,345.0 1094.9,344.7 1095.1,344.3 1095.2,343.9 1095.3,343.5 1095.4,343.2 1095.5,342.8 1095.7,342.6 1095.8,342.4 1095.9,342.2 1096.0,342.2 1096.2,342.2 1096.3,342.4 1096.4,342.6 1096.5,342.8 1096.6,343.2 1096.8,343.5 1096.9,343.9 1097.0,344.3 1097.1,344.7 1097.3,345.0 1097.4,345.4 1097.5,345.7 1097.6,345.9 1097.7,346.2 1097.9,346.4 1098.0,346.5 1098.1,346.7 1098.2,346.8 1098.4,346.8 1098.5,346.9 1098.6,347.0 1098.7,347.0 1098.8,347.0 1099.0,347.1 1099.1,347.1 1099.2,347.1 1099.3,347.1 1099.5,347.1 1099.6,347.1 1099.7,347.1 1099.8,347.1 1099.9,347.1 1100.1,347.1 1100.2,347.1 1100.3,347.1 1100.4,347.1 1100.6,347.1 1100.7,347.1 1100.8,347.1 1100.9,347.1 1101.1,347.1 1101.2,347.1 1101.3,347.1 1101.4,347.2 1101.5,347.2 1101.7,347.2 1101.8,347.2 1101.9,347.2 1102.0,347.2 1102.2,347.2 1102.3,347.2 1102.4,347.2 1102.5,347.2 1102.6,347.2 1102.8,347.2 1102.9,347.2 1103.0,347.2 1103.1,347.2 1103.3,347.2 1103.4,347.2 1103.5,347.2 1103.6,347.2 1103.7,347.2 1103.9,347.2 1104.0,347.2 1104.1,347.2 1104.2,347.2 1104.4,347.2 1104.5,347.2 1104.6,347.2 1104.7,347.2 1104.8,347.2 1105.0,347.2 1105.1,347.2 1105.2,347.2 1105.3,347.2 1105.5,347.2 1105.6,347.2 1105.7,347.2 1105.8,347.2 1105.9,347.2 1106.1,347.2 1106.2,347.2 1106.3,347.2 1106.4,347.2 1106.6,347.2 1106.7,347.2 1106.8,347.2 1106.9,347.2 1107.0,347.2 1107.2,347.2 1107.3,347.2 1107.4,347.2 1107.5,347.2 1107.7,347.2 1107.8,347.2 1107.9,347.2 1108.0,347.2 1108.1,347.2 1108.3,347.2 1108.4,347.2 1108.5,347.2 1108.6,347.2 1108.8,347.2 1108.9,347.2 1109.0,347.2 1109.1,347.2 1109.3,347.2 1109.4,347.2 1109.5,347.2 1109.6,347.2 1109.7,347.2 1109.9,347.2 1110.0,347.2 1110.1,347.2 1110.2,347.2 1110.4,347.2 1110.5,347.2 1110.6,347.2 1110.7,347.2 1110.8,347.2 1111.0,347.1 1111.1,347.1 1111.2,347.1 1111.3,347.1 1111.5,347.1 1111.6,347.1 1111.7,347.1 1111.8,347.1 1111.9,347.1 1112.1,347.1 1112.2,347.1 1112.3,347.1 1112.4,347.1 1112.6,347.1 1112.7,347.1 1112.8,347.1 1112.9,347.1 1113.0,347.1 1113.2,347.1 1113.3,347.1 1113.4,347.1 1113.5,347.1 1113.7,347.1 1113.8,347.1 1113.9,347.1 1114.0,347.1 1114.1,347.0 1114.3,347.0 1114.4,347.0 1114.5,347.0 1114.6,346.9 1114.8,346.9 1114.9,346.8 1115.0,346.8 1115.1,346.7 1115.2,346.5 1115.4,346.3 1115.5,346.1 1115.6,345.9 1115.7,345.6 1115.9,345.2 1116.0,344.8 1116.1,344.3 1116.2,343.8 1116.4,343.2 1116.5,342.6 1116.6,342.0 1116.7,341.4 1116.8,340.8 1117.0,340.2 1117.1,339.8 1117.2,339.5 1117.3,339.3 1117.5,339.2 1117.6,339.3 1117.7,339.5 1117.8,339.8 1117.9,340.2 1118.1,340.8 1118.2,341.4 1118.3,342.0 1118.4,342.6 1118.6,343.2 1118.7,343.8 1118.8,344.3 1118.9,344.8 1119.0,345.2 1119.2,345.6 1119.3,345.9 1119.4,346.1 1119.5,346.3 1119.7,346.5 1119.8,346.6 1119.9,346.8 1120.0,346.8 1120.1,346.9 1120.3,346.9 1120.4,347.0 1120.5,347.0 1120.6,347.0 1120.8,347.0 1120.9,347.1 1121.0,347.1 1121.1,347.1 1121.2,347.1 1121.4,347.1 1121.5,347.1 1121.6,347.1 1121.7,347.1 1121.9,347.1 1122.0,347.1 1122.1,347.1 1122.2,347.1 1122.3,347.1 1122.5,347.1 1122.6,347.1 1122.7,347.1 1122.8,347.1 1123.0,347.1 1123.1,347.1 1123.2,347.1 1123.3,347.1 1123.4,347.1 1123.6,347.1 1123.7,347.1 1123.8,347.1 1123.9,347.1 1124.1,347.1 1124.2,347.1 1124.3,347.1 1124.4,347.1 1124.6,347.1 1124.7,347.1 1124.8,347.1 1124.9,347.1 1125.0,347.1 1125.2,347.1 1125.3,347.1 1125.4,347.1 1125.5,347.1 1125.7,347.1 1125.8,347.1 1125.9,347.1 1126.0,347.1 1126.1,347.1 1126.3,347.1 1126.4,347.1 1126.5,347.1 1126.6,347.1 1126.8,347.1 1126.9,347.1 1127.0,347.1 1127.1,347.1 1127.2,347.1 1127.4,347.1 1127.5,347.1 1127.6,347.1 1127.7,347.1 1127.9,347.1 1128.0,347.1 1128.1,347.1 1128.2,347.1 1128.3,347.1 1128.5,347.1 1128.6,347.0 1128.7,347.0 1128.8,347.0 1129.0,347.0 1129.1,346.9 1129.2,346.9 1129.3,346.8 1129.4,346.8 1129.6,346.7 1129.7,346.5 1129.8,346.3 1129.9,346.1 1130.1,345.9 1130.2,345.6 1130.3,345.2 1130.4,344.9 1130.5,344.4 1130.7,343.9 1130.8,343.4 1130.9,342.9 1131.0,342.3 1131.2,341.8 1131.3,341.3 1131.4,340.9 1131.5,340.6 1131.7,340.3 1131.8,340.2 1131.9,340.2 1132.0,340.3 1132.1,340.6 1132.3,340.9 1132.4,341.3 1132.5,341.8 1132.6,342.3 1132.8,342.9 1132.9,343.4 1133.0,343.9 1133.1,344.4 1133.2,344.8 1133.4,345.2 1133.5,345.6 1133.6,345.9 1133.7,346.1 1133.9,346.3 1134.0,346.5 1134.1,346.6 1134.2,346.7 1134.3,346.8 1134.5,346.9 1134.6,346.9 1134.7,347.0 1134.8,347.0 1135.0,347.0 1135.1,347.0 1135.2,347.0 1135.3,347.0 1135.4,347.1 1135.6,347.1 1135.7,347.1 1135.8,347.1 1135.9,347.1 1136.1,347.1 1136.2,347.1 1136.3,347.1 1136.4,347.1 1136.5,347.1 1136.7,347.1 1136.8,347.1 1136.9,347.1 1137.0,347.1 1137.2,347.1 1137.3,347.1 1137.4,347.1 1137.5,347.1 1137.6,347.0 1137.8,347.0 1137.9,347.0 1138.0,347.0 1138.1,347.0 1138.3,347.0 1138.4,346.9 1138.5,346.9 1138.6,346.8 1138.7,346.8 1138.9,346.7 1139.0,346.5 1139.1,346.4 1139.2,346.2 1139.4,346.0 1139.5,345.8 1139.6,345.5 1139.7,345.2 1139.9,344.8 1140.0,344.4 1140.1,344.0 1140.2,343.7 1140.3,343.3 1140.5,342.9 1140.6,342.6 1140.7,342.4 1140.8,342.2 1141.0,342.1 1141.1,342.1 1141.2,342.2 1141.3,342.4 1141.4,342.6 1141.6,342.9 1141.7,343.3 1141.8,343.6 1141.9,344.0 1142.1,344.4 1142.2,344.7 1142.3,345.1 1142.4,345.4 1142.5,345.6 1142.7,345.8 1142.8,346.0 1142.9,346.2 1143.0,346.2 1143.2,346.3 1143.3,346.3 1143.4,346.2 1143.5,346.1 1143.6,345.9 1143.8,345.7 1143.9,345.4 1144.0,345.1 1144.1,344.6 1144.3,344.2 1144.4,343.7 1144.5,343.1 1144.6,342.5 1144.7,341.9 1144.9,341.3 1145.0,340.7 1145.1,340.2 1145.2,339.7 1145.4,339.4 1145.5,339.2 1145.6,339.1 1145.7,339.2 1145.8,339.4 1146.0,339.7 1146.1,340.2 1146.2,340.7 1146.3,341.3 1146.5,341.9 1146.6,342.5 1146.7,343.1 1146.8,343.7 1147.0,344.2 1147.1,344.7 1147.2,345.1 1147.3,345.5 1147.4,345.8 1147.6,346.0 1147.7,346.2 1147.8,346.4 1147.9,346.5 1148.1,346.6 1148.2,346.7 1148.3,346.7 1148.4,346.7 1148.5,346.7 1148.7,346.6 1148.8,346.5 1148.9,346.4 1149.0,346.3 1149.2,346.2 1149.3,346.0 1149.4,345.7 1149.5,345.5 1149.6,345.2 1149.8,344.9 1149.9,344.6 1150.0,344.3 1150.1,344.0 1150.3,343.8 1150.4,343.5 1150.5,343.3 1150.6,343.2 1150.7,343.1 1150.9,343.1 1151.0,343.2 1151.1,343.3 1151.2,343.5 1151.4,343.8 1151.5,344.1 1151.6,344.4 1151.7,344.7 1151.8,345.0 1152.0,345.3 1152.1,345.6 1152.2,345.8 1152.3,346.0 1152.5,346.2 1152.6,346.4 1152.7,346.6 1152.8,346.7 1152.9,346.8 1153.1,346.8 1153.2,346.9 1153.3,347.0 1153.4,347.0 1153.6,347.0 1153.7,347.0 1153.8,347.1 1153.9,347.1 1154.0,347.1 1154.2,347.1 1154.3,347.1 1154.4,347.1 1154.5,347.1 1154.7,347.1 1154.8,347.1 1154.9,347.1 1155.0,347.1 1155.2,347.1 1155.3,347.1 1155.4,347.1 1155.5,347.1 1155.6,347.1 1155.8,347.1 1155.9,347.1 1156.0,347.1 1156.1,347.1 1156.3,347.1 1156.4,347.1 1156.5,347.1 1156.6,347.1 1156.7,347.1 1156.9,347.1 1157.0,347.1 1157.1,347.1 1157.2,347.1 1157.4,347.1 1157.5,347.1 1157.6,347.1 1157.7,347.1 1157.8,347.1 1158.0,347.1 1158.1,347.1 1158.2,347.1 1158.3,347.1 1158.5,347.1 1158.6,347.1 1158.7,347.1 1158.8,347.1 1158.9,347.1 1159.1,347.1 1159.2,347.0 1159.3,347.0 1159.4,347.0 1159.6,346.9 1159.7,346.9 1159.8,346.8 1159.9,346.7 1160.0,346.6 1160.2,346.5 1160.3,346.3 1160.4,346.1 1160.5,345.9 1160.7,345.7 1160.8,345.4 1160.9,345.0 1161.0,344.7 1161.1,344.3 1161.3,343.9 1161.4,343.5 1161.5,343.2 1161.6,342.8 1161.8,342.5 1161.9,342.3 1162.0,342.2 1162.1,342.2 1162.3,342.2 1162.4,342.3 1162.5,342.5 1162.6,342.8 1162.7,343.1 1162.9,343.5 1163.0,343.9 1163.1,344.3 1163.2,344.6 1163.4,345.0 1163.5,345.3 1163.6,345.6 1163.7,345.9 1163.8,346.1 1164.0,346.3 1164.1,346.5 1164.2,346.6 1164.3,346.7 1164.5,346.8 1164.6,346.9 1164.7,346.9 1164.8,347.0 1164.9,347.0 1165.1,347.0 1165.2,347.0 1165.3,347.0 1165.4,347.0 1165.6,347.0 1165.7,347.0 1165.8,347.0 1165.9,347.0 1166.0,347.0 1166.2,346.9 1166.3,346.9 1166.4,346.9 1166.5,346.8 1166.7,346.7 1166.8,346.6 1166.9,346.5 1167.0,346.3 1167.1,346.1 1167.3,345.9 1167.4,345.6 1167.5,345.3 1167.6,345.0 1167.8,344.6 1167.9,344.3 1168.0,343.9 1168.1,343.5 1168.2,343.1 1168.4,342.8 1168.5,342.5 1168.6,342.3 1168.7,342.2 1168.9,342.2 1169.0,342.2 1169.1,342.3 1169.2,342.5 1169.3,342.8 1169.5,343.1 1169.6,343.5 1169.7,343.9 1169.8,344.3 1170.0,344.6 1170.1,345.0 1170.2,345.3 1170.3,345.6 1170.5,345.9 1170.6,346.1 1170.7,346.3 1170.8,346.5 1170.9,346.6 1171.1,346.7 1171.2,346.8 1171.3,346.9 1171.4,346.9 1171.6,347.0 1171.7,347.0 1171.8,347.0 1171.9,347.0 1172.0,347.0 1172.2,347.0 1172.3,347.0 1172.4,347.0 1172.5,347.0 1172.7,347.0 1172.8,347.0 1172.9,347.0 1173.0,347.0 1173.1,347.0 1173.3,347.0 1173.4,347.0 1173.5,346.9 1173.6,346.9 1173.8,346.8 1173.9,346.8 1174.0,346.7 1174.1,346.5 1174.2,346.4 1174.4,346.2 1174.5,345.9 1174.6,345.7 1174.7,345.3 1174.9,345.0 1175.0,344.6 1175.1,344.2 1175.2,343.7 1175.3,343.3 1175.5,342.8 1175.6,342.4 1175.7,342.0 1175.8,341.6 1176.0,341.4 1176.1,341.2 1176.2,341.2 1176.3,341.2 1176.4,341.4 1176.6,341.6 1176.7,342.0 1176.8,342.4 1176.9,342.8 1177.1,343.3 1177.2,343.7 1177.3,344.2 1177.4,344.6 1177.6,345.0 1177.7,345.4 1177.8,345.7 1177.9,346.0 1178.0,346.2 1178.2,346.4 1178.3,346.6 1178.4,346.7 1178.5,346.8 1178.7,346.9 1178.8,346.9 1178.9,347.0 1179.0,347.0 1179.1,347.0 1179.3,347.1 1179.4,347.1 1179.5,347.1 1179.6,347.1 1179.8,347.1 1179.9,347.1 1180.0,347.1 1180.1,347.1 1180.2,347.1 1180.4,347.1 1180.5,347.1 1180.6,347.1 1180.7,347.1 1180.9,347.1 1181.0,347.1 1181.1,347.1 1181.2,347.1 1181.3,347.1 1181.5,347.1 1181.6,347.1 1181.7,347.1 1181.8,347.2 1182.0,347.2 1182.1,347.2 1182.2,347.2 1182.3,347.2 1182.4,347.2 1182.6,347.2 1182.7,347.2 1182.8,347.2 1182.9,347.2 1183.1,347.2 1183.2,347.2 1183.3,347.2 1183.4,347.2 1183.5,347.2 1183.7,347.2 1183.8,347.2 1183.9,347.2 1184.0,347.2 1184.2,347.2 1184.3,347.2 1184.4,347.2 1184.5,347.2 1184.6,347.2 1184.8,347.2 1184.9,347.2 1185.0,347.2 1185.1,347.2 1185.3,347.2 1185.4,347.2 1185.5,347.2 1185.6,347.2 1185.8,347.2 1185.9,347.2 1186.0,347.2 1186.1,347.2 1186.2,347.2 1186.4,347.2 1186.5,347.2 1186.6,347.2 1186.7,347.2 1186.9,347.2 1187.0,347.2 1187.1,347.2 1187.2,347.2 1187.3,347.2 1187.5,347.2 1187.6,347.2 1187.7,347.2 1187.8,347.2 1188.0,347.2 1188.1,347.2 1188.2,347.2 1188.3,347.2 1188.4,347.2 1188.6,347.2 1188.7,347.2 1188.8,347.2 1188.9,347.2 1189.1,347.2 1189.2,347.2 1189.3,347.2 1189.4,347.2 1189.5,347.2 1189.7,347.2 1189.8,347.2 1189.9,347.2 1190.0,347.2 1190.2,347.2 1190.3,347.2 1190.4,347.2 1190.5,347.2 1190.6,347.1 1190.8,347.1 1190.9,347.1 1191.0,347.1 1191.1,347.1 1191.3,347.1 1191.4,347.1 1191.5,347.1 1191.6,347.1 1191.7,347.0 1191.9,347.0 1192.0,347.0 1192.1,346.9 1192.2,346.8 1192.4,346.7 1192.5,346.6 1192.6,346.5 1192.7,346.4 1192.9,346.2 1193.0,346.0 1193.1,345.8 1193.2,345.6 1193.3,345.3 1193.5,345.1 1193.6,344.9 1193.7,344.7 1193.8,344.5 1194.0,344.4 1194.1,344.3 1194.2,344.2 1194.3,344.2 1194.4,344.3 1194.6,344.4 1194.7,344.5 1194.8,344.7 1194.9,344.9 1195.1,345.1 1195.2,345.4 1195.3,345.6 1195.4,345.8 1195.5,346.0 1195.7,346.2 1195.8,346.4 1195.9,346.5 1196.0,346.6 1196.2,346.8 1196.3,346.8 1196.4,346.9" fill="none" stroke="#ff0000" stroke-width="2.6" stroke-linejoin="round"/><polyline points="798.6,360.5 798.8,360.5 799.1,360.5 799.3,360.5 799.6,359.9 799.8,360.2 800.1,360.3 800.3,360.4 800.6,360.7 800.8,360.5 801.0,359.9 801.3,360.0 801.5,359.9 801.8,360.5 802.0,360.6 802.3,360.7 802.5,360.3 802.8,360.4 803.0,360.3 803.3,360.3 803.5,360.2 803.7,360.4 804.0,360.0 804.2,360.6 804.5,359.9 804.7,360.2 805.0,360.7 805.2,360.5 805.5,360.3 805.7,360.4 805.9,360.2 806.2,360.5 806.4,360.5 806.7,360.0 806.9,360.5 807.2,360.1 807.4,360.0 807.7,360.2 807.9,360.3 808.1,359.9 808.4,360.4 808.6,359.9 808.9,360.7 809.1,360.4 809.4,360.2 809.6,360.8 809.9,359.9 810.1,360.7 810.4,360.2 810.6,360.6 810.8,359.9 811.1,360.2 811.3,360.0 811.6,360.3 811.8,360.1 812.1,360.1 812.3,360.5 812.6,360.6 812.8,360.0 813.0,360.7 813.3,359.9 813.5,360.6 813.8,360.7 814.0,360.7 814.3,360.0 814.5,359.8 814.8,360.4 815.0,360.1 815.2,360.5 815.5,359.9 815.7,360.1 816.0,360.6 816.2,360.7 816.5,360.1 816.7,360.8 817.0,360.0 817.2,360.5 817.4,360.6 817.7,360.2 817.9,360.5 818.2,360.2 818.4,360.6 818.7,359.9 818.9,360.5 819.2,360.0 819.4,360.6 819.7,360.0 819.9,359.8 820.1,360.4 820.4,360.8 820.6,360.4 820.9,360.2 821.1,360.6 821.4,360.3 821.6,360.7 821.9,360.3 822.1,360.1 822.3,360.4 822.6,360.1 822.8,360.7 823.1,360.0 823.3,360.7 823.6,359.9 823.8,359.8 824.1,359.9 824.3,360.3 824.5,360.5 824.8,360.5 825.0,360.0 825.3,360.3 825.5,359.9 825.8,360.7 826.0,360.3 826.3,359.9 826.5,360.2 826.8,360.3 827.0,360.7 827.2,360.7 827.5,360.5 827.7,359.9 828.0,360.0 828.2,360.6 828.5,359.9 828.7,360.8 829.0,360.2 829.2,359.8 829.4,360.5 829.7,359.9 829.9,360.1 830.2,360.7 830.4,360.5 830.7,360.4 830.9,360.6 831.2,360.1 831.4,360.6 831.6,360.0 831.9,360.5 832.1,360.7 832.4,360.2 832.6,360.7 832.9,360.2 833.1,360.0 833.4,360.2 833.6,360.3 833.9,360.8 834.1,360.3 834.3,360.7 834.6,360.2 834.8,360.7 835.1,360.2 835.3,360.4 835.6,360.4 835.8,360.1 836.1,360.6 836.3,360.6 836.5,359.9 836.8,360.5 837.0,360.0 837.3,359.9 837.5,360.3 837.8,360.9 838.0,362.7 838.3,361.9 838.5,359.9 838.7,339.0 839.0,302.3 839.2,341.5 839.5,385.5 839.7,403.8 840.0,369.9 840.2,360.6 840.5,360.1 840.7,358.3 841.0,358.1 841.2,360.3 841.4,360.7 841.7,360.6 841.9,359.9 842.2,360.3 842.4,359.9 842.7,360.8 842.9,359.9 843.2,360.3 843.4,360.0 843.6,360.2 843.9,360.1 844.1,360.6 844.4,360.0 844.6,360.6 844.9,360.5 845.1,360.8 845.4,360.4 845.6,360.3 845.8,360.5 846.1,359.9 846.3,360.7 846.6,360.2 846.8,360.6 847.1,360.2 847.3,360.0 847.6,360.1 847.8,360.7 848.0,360.6 848.3,360.2 848.5,359.8 848.8,360.8 849.0,360.2 849.3,360.1 849.5,360.0 849.8,360.5 850.0,360.0 850.3,360.3 850.5,359.9 850.7,360.8 851.0,359.9 851.2,360.4 851.5,360.4 851.7,360.7 852.0,360.6 852.2,360.1 852.5,360.1 852.7,360.6 852.9,360.5 853.2,360.7 853.4,360.6 853.7,360.6 853.9,360.5 854.2,359.8 854.4,359.8 854.7,360.0 854.9,360.3 855.1,360.3 855.4,360.0 855.6,359.9 855.9,360.0 856.1,360.2 856.4,360.6 856.6,360.2 856.9,360.0 857.1,360.0 857.4,360.7 857.6,360.1 857.8,360.5 858.1,360.6 858.3,359.8 858.6,360.1 858.8,360.1 859.1,360.7 859.3,360.0 859.6,359.9 859.8,359.9 860.0,360.1 860.3,360.0 860.5,360.0 860.8,360.2 861.0,360.4 861.3,360.0 861.5,360.0 861.8,359.9 862.0,360.5 862.2,359.8 862.5,360.3 862.7,359.9 863.0,360.7 863.2,359.8 863.5,360.0 863.7,360.5 864.0,360.0 864.2,360.6 864.5,360.6 864.7,360.3 864.9,360.6 865.2,360.3 865.4,359.9 865.7,360.1 865.9,360.1 866.2,360.4 866.4,360.0 866.7,360.0 866.9,360.1 867.1,359.9 867.4,360.0 867.6,360.4 867.9,360.7 868.1,360.1 868.4,360.0 868.6,360.5 868.9,360.2 869.1,360.0 869.3,360.0 869.6,360.8 869.8,360.3 870.1,360.8 870.3,360.7 870.6,360.0 870.8,360.4 871.1,360.2 871.3,360.3 871.6,360.5 871.8,360.6 872.0,360.4 872.3,360.0 872.5,360.2 872.8,360.5 873.0,360.7 873.3,360.5 873.5,360.1 873.8,360.4 874.0,360.1 874.2,360.0 874.5,360.7 874.7,360.1 875.0,360.8 875.2,360.0 875.5,360.6 875.7,360.5 876.0,359.8 876.2,360.4 876.4,360.6 876.7,359.9 876.9,360.2 877.2,359.9 877.4,360.4 877.7,360.3 877.9,359.8 878.2,360.3 878.4,359.8 878.6,360.6 878.9,360.0 879.1,360.6 879.4,360.3 879.6,360.8 879.9,360.6 880.1,359.9 880.4,360.3 880.6,360.0 880.9,360.5 881.1,360.4 881.3,360.7 881.6,360.2 881.8,359.9 882.1,360.3 882.3,360.4 882.6,359.9 882.8,359.9 883.1,360.1 883.3,360.7 883.5,360.2 883.8,360.4 884.0,359.8 884.3,360.4 884.5,360.1 884.8,360.2 885.0,360.4 885.3,360.3 885.5,360.1 885.7,359.9 886.0,360.3 886.2,360.4 886.5,359.8 886.7,360.7 887.0,360.0 887.2,360.1 887.5,360.2 887.7,360.4 888.0,360.0 888.2,359.9 888.4,360.1 888.7,360.1 888.9,360.8 889.2,360.5 889.4,360.7 889.7,359.8 889.9,359.9 890.2,360.7 890.4,360.2 890.6,360.2 890.9,360.8 891.1,360.4 891.4,360.1 891.6,360.2 891.9,360.5 892.1,360.0 892.4,360.5 892.6,360.3 892.8,360.4 893.1,359.8 893.3,360.2 893.6,360.0 893.8,360.1 894.1,360.4 894.3,359.8 894.6,360.1 894.8,360.1 895.1,360.5 895.3,360.6 895.5,360.2 895.8,360.0 896.0,359.9 896.3,359.0 896.5,356.7 896.8,358.9 897.0,361.0 897.3,362.5 897.5,360.5 897.7,360.6 898.0,360.5 898.2,360.7 898.5,360.5 898.7,360.4 899.0,359.8 899.2,359.8 899.5,360.6 899.7,360.5 899.9,359.9 900.2,360.6 900.4,360.5 900.7,360.4 900.9,360.7 901.2,360.5 901.4,360.4 901.7,360.4 901.9,359.8 902.2,360.5 902.4,360.6 902.6,359.9 902.9,360.3 903.1,360.0 903.4,360.2 903.6,360.0 903.9,360.5 904.1,360.6 904.4,360.0 904.6,360.3 904.8,360.2 905.1,360.1 905.3,360.0 905.6,360.5 905.8,360.4 906.1,359.9 906.3,360.3 906.6,360.5 906.8,360.2 907.0,360.5 907.3,360.0 907.5,360.8 907.8,360.0 908.0,360.2 908.3,360.4 908.5,359.9 908.8,360.5 909.0,360.6 909.2,360.7 909.5,360.3 909.7,360.0 910.0,360.1 910.2,360.4 910.5,360.0 910.7,360.3 911.0,352.8 911.2,339.2 911.5,352.3 911.7,362.6 911.9,364.8 912.2,361.1 912.4,360.4 912.7,359.9 912.9,360.1 913.2,360.5 913.4,360.4 913.7,360.0 913.9,360.5 914.1,360.6 914.4,359.9 914.6,360.3 914.9,360.3 915.1,360.1 915.4,359.9 915.6,360.7 915.9,360.5 916.1,360.7 916.3,360.4 916.6,360.3 916.8,359.9 917.1,360.1 917.3,360.2 917.6,360.4 917.8,360.2 918.1,360.5 918.3,360.0 918.6,360.0 918.8,360.0 919.0,360.6 919.3,360.1 919.5,360.0 919.8,360.3 920.0,359.9 920.3,359.9 920.5,360.1 920.8,360.0 921.0,360.2 921.2,359.9 921.5,360.7 921.7,360.1 922.0,360.1 922.2,360.2 922.5,360.5 922.7,360.7 923.0,360.2 923.2,360.0 923.4,360.5 923.7,360.6 923.9,360.6 924.2,360.7 924.4,360.1 924.7,359.8 924.9,360.0 925.2,360.4 925.4,360.1 925.7,360.7 925.9,360.0 926.1,360.5 926.4,360.8 926.6,360.1 926.9,359.9 927.1,358.5 927.4,360.1 927.6,362.0 927.9,363.1 928.1,360.6 928.3,360.8 928.6,360.0 928.8,360.7 929.1,360.6 929.3,360.2 929.6,360.5 929.8,360.5 930.1,360.2 930.3,360.6 930.5,360.0 930.8,360.6 931.0,360.0 931.3,360.0 931.5,360.3 931.8,360.8 932.0,360.0 932.3,360.8 932.5,360.3 932.8,360.4 933.0,360.7 933.2,360.2 933.5,360.1 933.7,360.2 934.0,360.4 934.2,360.3 934.5,360.2 934.7,360.6 935.0,359.9 935.2,359.8 935.4,360.0 935.7,359.8 935.9,360.5 936.2,359.8 936.4,360.7 936.7,360.3 936.9,360.7 937.2,360.3 937.4,360.1 937.6,360.1 937.9,360.3 938.1,360.5 938.4,360.6 938.6,360.4 938.9,360.5 939.1,360.6 939.4,360.1 939.6,360.3 939.8,360.4 940.1,360.6 940.3,360.1 940.6,360.6 940.8,360.5 941.1,360.2 941.3,360.1 941.6,359.8 941.8,360.1 942.1,359.9 942.3,359.8 942.5,359.5 942.8,359.1 943.0,360.8 943.3,362.9 943.5,363.1 943.8,360.3 944.0,360.1 944.3,360.2 944.5,360.5 944.7,360.4 945.0,360.6 945.2,360.2 945.5,359.8 945.7,360.5 946.0,360.8 946.2,360.6 946.5,360.4 946.7,359.9 946.9,360.0 947.2,360.3 947.4,360.7 947.7,360.7 947.9,360.6 948.2,360.0 948.4,360.3 948.7,359.8 948.9,359.9 949.2,360.0 949.4,360.3 949.6,360.0 949.9,360.7 950.1,360.7 950.4,360.2 950.6,360.3 950.9,360.6 951.1,360.5 951.4,360.8 951.6,359.9 951.8,360.1 952.1,359.9 952.3,359.8 952.6,360.4 952.8,360.1 953.1,360.4 953.3,360.0 953.6,360.0 953.8,360.7 954.0,360.8 954.3,360.6 954.5,360.2 954.8,360.4 955.0,360.8 955.3,360.0 955.5,360.0 955.8,360.3 956.0,360.8 956.3,359.9 956.5,360.3 956.7,360.7 957.0,360.5 957.2,360.2 957.5,359.9 957.7,360.3 958.0,360.2 958.2,360.6 958.5,360.6 958.7,359.9 958.9,360.4 959.2,360.7 959.4,360.2 959.7,360.7 959.9,360.6 960.2,360.3 960.4,360.2 960.7,360.2 960.9,360.1 961.1,360.4 961.4,360.7 961.6,360.1 961.9,360.7 962.1,360.3 962.4,360.4 962.6,360.1 962.9,360.1 963.1,360.6 963.4,360.2 963.6,360.1 963.8,360.3 964.1,360.7 964.3,359.9 964.6,360.2 964.8,360.7 965.1,360.6 965.3,359.8 965.6,360.6 965.8,360.4 966.0,360.0 966.3,360.0 966.5,360.2 966.8,360.1 967.0,360.8 967.3,360.7 967.5,359.8 967.8,360.0 968.0,360.8 968.2,360.8 968.5,360.6 968.7,359.9 969.0,360.6 969.2,360.1 969.5,359.9 969.7,360.2 970.0,359.9 970.2,360.5 970.4,360.6 970.7,360.8 970.9,360.0 971.2,360.7 971.4,359.8 971.7,360.1 971.9,360.6 972.2,360.0 972.4,360.6 972.7,360.3 972.9,360.7 973.1,360.0 973.4,359.9 973.6,359.9 973.9,360.8 974.1,359.9 974.4,360.2 974.6,360.0 974.9,360.3 975.1,360.2 975.3,360.2 975.6,360.0 975.8,360.7 976.1,360.7 976.3,360.3 976.6,360.5 976.8,360.4 977.1,360.8 977.3,360.1 977.5,360.8 977.8,360.0 978.0,360.0 978.3,360.3 978.5,360.7 978.8,360.1 979.0,360.5 979.3,359.2 979.5,358.8 979.8,359.6 980.0,361.4 980.2,361.6 980.5,360.9 980.7,360.1 981.0,360.0 981.2,360.0 981.5,360.7 981.7,360.4 982.0,360.5 982.2,360.0 982.4,360.7 982.7,360.2 982.9,359.8 983.2,360.0 983.4,360.8 983.7,360.7 983.9,360.7 984.2,360.1 984.4,360.2 984.6,360.3 984.9,360.3 985.1,360.4 985.4,360.2 985.6,360.2 985.9,359.9 986.1,360.1 986.4,360.0 986.6,359.9 986.9,360.0 987.1,360.1 987.3,360.8 987.6,360.1 987.8,360.0 988.1,360.4 988.3,359.9 988.6,360.6 988.8,359.9 989.1,360.4 989.3,360.1 989.5,360.5 989.8,360.5 990.0,360.2 990.3,357.6 990.5,356.0 990.8,359.5 991.0,361.3 991.3,361.7 991.5,360.1 991.7,360.0 992.0,360.0 992.2,359.8 992.5,360.0 992.7,360.5 993.0,360.6 993.2,360.4 993.5,360.8 993.7,360.6 994.0,359.9 994.2,359.9 994.4,360.5 994.7,360.0 994.9,360.0 995.2,359.9 995.4,360.0 995.7,360.3 995.9,360.7 996.2,360.0 996.4,360.5 996.6,360.2 996.9,360.4 997.1,360.3 997.4,359.8 997.6,360.6 997.9,360.3 998.1,360.2 998.4,360.3 998.6,359.9 998.8,360.4 999.1,359.9 999.3,360.1 999.6,359.7 999.8,359.5 1000.1,359.4 1000.3,360.8 1000.6,361.8 1000.8,361.9 1001.0,360.6 1001.3,360.1 1001.5,359.8 1001.8,360.6 1002.0,360.4 1002.3,360.1 1002.5,360.1 1002.8,360.1 1003.0,360.0 1003.3,360.6 1003.5,360.5 1003.7,360.8 1004.0,360.1 1004.2,360.6 1004.5,360.5 1004.7,359.8 1005.0,360.2 1005.2,360.2 1005.5,360.1 1005.7,360.2 1005.9,360.1 1006.2,360.5 1006.4,360.7 1006.7,360.7 1006.9,360.8 1007.2,360.4 1007.4,360.7 1007.7,360.7 1007.9,360.3 1008.1,359.8 1008.4,360.1 1008.6,360.5 1008.9,360.0 1009.1,360.6 1009.4,360.7 1009.6,360.5 1009.9,360.4 1010.1,360.1 1010.4,360.4 1010.6,360.1 1010.8,360.7 1011.1,359.9 1011.3,360.5 1011.6,360.0 1011.8,360.8 1012.1,360.0 1012.3,360.6 1012.6,359.9 1012.8,360.0 1013.0,360.1 1013.3,360.5 1013.5,360.8 1013.8,360.6 1014.0,359.9 1014.3,360.6 1014.5,360.1 1014.8,360.2 1015.0,360.1 1015.2,360.6 1015.5,360.7 1015.7,360.7 1016.0,359.8 1016.2,360.4 1016.5,360.1 1016.7,360.2 1017.0,360.6 1017.2,360.7 1017.5,360.8 1017.7,359.9 1017.9,360.7 1018.2,359.8 1018.4,360.4 1018.7,360.1 1018.9,360.7 1019.2,360.0 1019.4,360.5 1019.7,360.4 1019.9,360.3 1020.1,360.7 1020.4,360.6 1020.6,360.0 1020.9,360.5 1021.1,360.4 1021.4,360.0 1021.6,360.6 1021.9,360.6 1022.1,360.6 1022.3,360.4 1022.6,360.4 1022.8,360.2 1023.1,360.3 1023.3,359.9 1023.6,360.7 1023.8,360.1 1024.1,360.0 1024.3,360.6 1024.6,360.8 1024.8,360.4 1025.0,360.7 1025.3,360.3 1025.5,360.1 1025.8,360.7 1026.0,360.7 1026.3,360.3 1026.5,360.6 1026.8,360.5 1027.0,359.5 1027.2,359.3 1027.5,360.5 1027.7,361.2 1028.0,361.1 1028.2,360.0 1028.5,360.2 1028.7,360.7 1029.0,360.6 1029.2,360.1 1029.4,360.2 1029.7,359.9 1029.9,359.8 1030.2,359.9 1030.4,360.7 1030.7,359.9 1030.9,360.3 1031.2,360.6 1031.4,360.6 1031.6,359.9 1031.9,360.6 1032.1,360.7 1032.4,360.5 1032.6,359.9 1032.9,360.3 1033.1,360.1 1033.4,360.7 1033.6,360.3 1033.9,360.5 1034.1,360.6 1034.3,360.1 1034.6,360.4 1034.8,360.7 1035.1,359.8 1035.3,360.3 1035.6,360.6 1035.8,360.8 1036.1,360.1 1036.3,360.3 1036.5,360.8 1036.8,360.3 1037.0,360.1 1037.3,360.3 1037.5,360.6 1037.8,360.3 1038.0,360.2 1038.3,360.1 1038.5,360.7 1038.7,360.0 1039.0,359.9 1039.2,360.1 1039.5,359.9 1039.7,360.4 1040.0,359.9 1040.2,360.6 1040.5,360.6 1040.7,360.2 1041.0,359.9 1041.2,360.7 1041.4,360.6 1041.7,360.8 1041.9,360.4 1042.2,360.7 1042.4,360.6 1042.7,360.1 1042.9,360.2 1043.2,359.9 1043.4,360.4 1043.6,360.1 1043.9,360.8 1044.1,359.9 1044.4,360.6 1044.6,360.1 1044.9,359.2 1045.1,359.2 1045.4,360.8 1045.6,361.3 1045.8,360.7 1046.1,360.6 1046.3,360.0 1046.6,360.6 1046.8,359.8 1047.1,360.3 1047.3,360.6 1047.6,359.8 1047.8,360.5 1048.1,360.4 1048.3,360.5 1048.5,360.1 1048.8,360.8 1049.0,360.4 1049.3,360.6 1049.5,360.0 1049.8,360.8 1050.0,360.2 1050.3,360.5 1050.5,360.3 1050.7,360.2 1051.0,360.1 1051.2,360.7 1051.5,360.6 1051.7,360.7 1052.0,359.8 1052.2,360.7 1052.5,360.7 1052.7,360.3 1052.9,360.2 1053.2,359.9 1053.4,360.7 1053.7,360.6 1053.9,360.6 1054.2,360.2 1054.4,360.3 1054.7,360.4 1054.9,359.9 1055.2,360.1 1055.4,359.9 1055.6,359.8 1055.9,360.5 1056.1,359.9 1056.4,360.4 1056.6,360.7 1056.9,359.9 1057.1,360.7 1057.4,360.8 1057.6,360.5 1057.8,360.5 1058.1,359.8 1058.3,359.9 1058.6,360.4 1058.8,360.3 1059.1,360.0 1059.3,360.0 1059.6,360.1 1059.8,360.3 1060.0,360.7 1060.3,360.6 1060.5,360.1 1060.8,360.2 1061.0,360.0 1061.3,359.9 1061.5,359.8 1061.8,360.6 1062.0,360.7 1062.2,359.9 1062.5,360.2 1062.7,360.6 1063.0,360.1 1063.2,360.5 1063.5,360.6 1063.7,360.4 1064.0,360.3 1064.2,360.1 1064.5,360.7 1064.7,360.1 1064.9,360.2 1065.2,360.3 1065.4,360.1 1065.7,360.0 1065.9,360.8 1066.2,360.3 1066.4,360.1 1066.7,359.7 1066.9,358.3 1067.1,359.5 1067.4,360.5 1067.6,362.0 1067.9,361.3 1068.1,360.4 1068.4,359.8 1068.6,360.6 1068.9,360.4 1069.1,359.8 1069.3,359.9 1069.6,360.6 1069.8,360.1 1070.1,360.4 1070.3,360.1 1070.6,360.0 1070.8,360.7 1071.1,360.6 1071.3,360.6 1071.6,360.5 1071.8,360.8 1072.0,360.7 1072.3,360.4 1072.5,360.4 1072.8,360.7 1073.0,360.2 1073.3,359.9 1073.5,360.2 1073.8,360.4 1074.0,360.1 1074.2,360.4 1074.5,360.6 1074.7,360.3 1075.0,360.8 1075.2,360.1 1075.5,360.6 1075.7,360.4 1076.0,359.8 1076.2,360.0 1076.4,360.0 1076.7,360.2 1076.9,360.2 1077.2,360.1 1077.4,359.8 1077.7,360.6 1077.9,360.0 1078.2,360.5 1078.4,360.5 1078.7,360.0 1078.9,360.2 1079.1,360.0 1079.4,359.9 1079.6,360.2 1079.9,360.6 1080.1,360.8 1080.4,360.2 1080.6,359.3 1080.9,359.8 1081.1,360.8 1081.3,361.7 1081.6,361.2 1081.8,360.2 1082.1,360.8 1082.3,360.6 1082.6,360.5 1082.8,360.1 1083.1,359.8 1083.3,360.8 1083.5,360.7 1083.8,359.9 1084.0,359.8 1084.3,360.7 1084.5,360.5 1084.8,360.3 1085.0,360.5 1085.3,360.4 1085.5,360.3 1085.8,360.5 1086.0,360.7 1086.2,360.7 1086.5,360.6 1086.7,360.7 1087.0,360.2 1087.2,360.1 1087.5,360.5 1087.7,360.0 1088.0,360.1 1088.2,360.5 1088.4,360.3 1088.7,360.6 1088.9,359.9 1089.2,360.2 1089.4,360.7 1089.7,360.6 1089.9,360.1 1090.2,360.4 1090.4,360.1 1090.6,360.6 1090.9,360.0 1091.1,360.0 1091.4,360.7 1091.6,360.2 1091.9,360.6 1092.1,360.1 1092.4,360.0 1092.6,360.0 1092.8,360.6 1093.1,360.7 1093.3,360.1 1093.6,360.2 1093.8,360.7 1094.1,360.6 1094.3,360.2 1094.6,360.7 1094.8,360.2 1095.1,360.6 1095.3,360.5 1095.5,360.4 1095.8,360.3 1096.0,360.1 1096.3,360.8 1096.5,360.1 1096.8,360.6 1097.0,360.5 1097.3,360.2 1097.5,360.1 1097.7,360.2 1098.0,359.9 1098.2,360.6 1098.5,360.5 1098.7,360.1 1099.0,360.5 1099.2,360.6 1099.5,360.6 1099.7,360.0 1099.9,360.0 1100.2,360.1 1100.4,359.8 1100.7,360.0 1100.9,360.5 1101.2,360.5 1101.4,360.1 1101.7,360.7 1101.9,360.2 1102.2,360.7 1102.4,360.8 1102.6,360.3 1102.9,360.6 1103.1,359.9 1103.4,359.9 1103.6,360.3 1103.9,360.6 1104.1,360.7 1104.4,360.3 1104.6,360.3 1104.8,360.4 1105.1,360.1 1105.3,360.3 1105.6,360.0 1105.8,360.7 1106.1,360.7 1106.3,360.4 1106.6,360.3 1106.8,360.5 1107.0,360.1 1107.3,360.6 1107.5,360.5 1107.8,360.3 1108.0,360.1 1108.3,360.0 1108.5,360.4 1108.8,360.4 1109.0,359.9 1109.3,359.9 1109.5,360.2 1109.7,360.7 1110.0,360.3 1110.2,360.2 1110.5,360.5 1110.7,360.8 1111.0,359.8 1111.2,359.9 1111.5,360.7 1111.7,360.3 1111.9,360.2 1112.2,360.5 1112.4,360.7 1112.7,360.0 1112.9,360.0 1113.2,360.4 1113.4,360.7 1113.7,360.4 1113.9,360.7 1114.1,359.8 1114.4,360.7 1114.6,360.5 1114.9,360.0 1115.1,360.7 1115.4,360.7 1115.6,360.7 1115.9,360.6 1116.1,360.3 1116.4,360.0 1116.6,360.6 1116.8,360.4 1117.1,359.1 1117.3,359.8 1117.6,360.8 1117.8,361.7 1118.1,360.9 1118.3,359.8 1118.6,360.7 1118.8,360.5 1119.0,360.1 1119.3,359.9 1119.5,359.9 1119.8,360.3 1120.0,359.8 1120.3,360.2 1120.5,360.5 1120.8,360.3 1121.0,360.1 1121.2,360.1 1121.5,360.7 1121.7,360.6 1122.0,359.8 1122.2,360.7 1122.5,360.0 1122.7,360.5 1123.0,360.6 1123.2,360.5 1123.4,360.3 1123.7,359.8 1123.9,360.7 1124.2,359.9 1124.4,360.5 1124.7,360.6 1124.9,360.1 1125.2,360.5 1125.4,360.6 1125.7,360.4 1125.9,360.0 1126.1,359.9 1126.4,360.2 1126.6,360.8 1126.9,360.0 1127.1,360.2 1127.4,359.9 1127.6,359.8 1127.9,360.5 1128.1,360.0 1128.3,360.0 1128.6,360.5 1128.8,360.4 1129.1,360.4 1129.3,360.4 1129.6,360.4 1129.8,360.7 1130.1,360.6 1130.3,359.9 1130.5,360.4 1130.8,360.2 1131.0,359.9 1131.3,360.0 1131.5,360.6 1131.8,359.9 1132.0,360.0 1132.3,359.8 1132.5,360.1 1132.8,360.0 1133.0,360.0 1133.2,360.5 1133.5,360.1 1133.7,360.4 1134.0,360.0 1134.2,360.7 1134.5,360.3 1134.7,360.5 1135.0,360.0 1135.2,360.5 1135.4,360.0 1135.7,360.0 1135.9,359.9 1136.2,360.7 1136.4,359.9 1136.7,360.1 1136.9,360.1 1137.2,360.1 1137.4,360.8 1137.6,359.9 1137.9,360.3 1138.1,360.3 1138.4,360.5 1138.6,360.0 1138.9,360.0 1139.1,359.9 1139.4,360.6 1139.6,360.5 1139.9,360.6 1140.1,360.7 1140.3,360.5 1140.6,360.8 1140.8,360.0 1141.1,360.6 1141.3,360.7 1141.6,360.7 1141.8,360.1 1142.1,360.6 1142.3,360.3 1142.5,360.4 1142.8,360.0 1143.0,359.8 1143.3,360.5 1143.5,360.2 1143.8,359.9 1144.0,360.3 1144.3,359.9 1144.5,360.1 1144.7,360.5 1145.0,359.7 1145.2,359.3 1145.5,360.1 1145.7,360.5 1146.0,361.0 1146.2,360.6 1146.5,360.3 1146.7,360.4 1147.0,359.9 1147.2,360.1 1147.4,360.6 1147.7,360.4 1147.9,360.4 1148.2,359.8 1148.4,360.1 1148.7,360.7 1148.9,359.9 1149.2,360.8 1149.4,360.2 1149.6,360.4 1149.9,360.1 1150.1,360.4 1150.4,360.7 1150.6,360.3 1150.9,360.0 1151.1,360.0 1151.4,360.4 1151.6,360.6 1151.8,360.1 1152.1,360.0 1152.3,360.6 1152.6,359.9 1152.8,359.8 1153.1,360.4 1153.3,360.4 1153.6,360.1 1153.8,359.9 1154.0,360.6 1154.3,360.5 1154.5,360.5 1154.8,360.1 1155.0,360.6 1155.3,360.3 1155.5,360.3 1155.8,360.1 1156.0,360.7 1156.3,359.8 1156.5,359.8 1156.7,360.2 1157.0,360.0 1157.2,360.6 1157.5,359.9 1157.7,360.2 1158.0,360.0 1158.2,359.9 1158.5,360.4 1158.7,359.9 1158.9,360.6 1159.2,360.8 1159.4,360.3 1159.7,359.9 1159.9,359.9 1160.2,359.8 1160.4,360.3 1160.7,359.9 1160.9,360.2 1161.1,360.7 1161.4,360.2 1161.6,360.0 1161.9,360.4 1162.1,360.2 1162.4,360.5 1162.6,360.5 1162.9,360.4 1163.1,360.3 1163.4,360.3 1163.6,360.7 1163.8,360.8 1164.1,360.5 1164.3,360.1 1164.6,360.1 1164.8,360.6 1165.1,360.5 1165.3,360.3 1165.6,360.6 1165.8,360.2 1166.0,359.9 1166.3,360.6 1166.5,360.2 1166.8,360.1 1167.0,360.1 1167.3,360.1 1167.5,360.1 1167.8,360.5 1168.0,360.0 1168.2,359.9 1168.5,360.7 1168.7,359.9 1169.0,360.4 1169.2,360.7 1169.5,360.7 1169.7,360.0 1170.0,360.1 1170.2,360.7 1170.5,360.3 1170.7,360.2 1170.9,359.8 1171.2,360.5 1171.4,360.0 1171.7,360.6 1171.9,360.6 1172.2,360.6 1172.4,360.4 1172.7,360.2 1172.9,360.5 1173.1,360.6 1173.4,360.6 1173.6,360.7 1173.9,360.6 1174.1,360.5 1174.4,360.3 1174.6,360.6 1174.9,360.3 1175.1,360.4 1175.3,359.8 1175.6,360.3 1175.8,359.9 1176.1,360.3 1176.3,360.6 1176.6,360.2 1176.8,360.7 1177.1,360.6 1177.3,360.7 1177.6,360.1 1177.8,359.8 1178.0,360.4 1178.3,360.4 1178.5,360.4 1178.8,360.4 1179.0,360.1 1179.3,360.4 1179.5,360.6 1179.8,359.9 1180.0,360.2 1180.2,360.8 1180.5,360.0 1180.7,360.1 1181.0,360.4 1181.2,360.2 1181.5,359.9 1181.7,360.4 1182.0,360.4 1182.2,360.5 1182.4,360.2 1182.7,360.1 1182.9,360.1 1183.2,359.9 1183.4,360.7 1183.7,360.4 1183.9,359.9 1184.2,360.0 1184.4,360.2 1184.6,360.1 1184.9,360.5 1185.1,359.9 1185.4,360.3 1185.6,360.4 1185.9,360.6 1186.1,360.7 1186.4,359.9 1186.6,360.0 1186.9,360.8 1187.1,360.5 1187.3,360.3 1187.6,360.3 1187.8,360.4 1188.1,359.9 1188.3,360.5 1188.6,360.3 1188.8,359.9 1189.1,360.2 1189.3,360.3 1189.5,360.5 1189.8,360.4 1190.0,360.2 1190.3,360.0 1190.5,360.5 1190.8,360.4 1191.0,360.4 1191.3,360.4 1191.5,359.9 1191.7,360.3 1192.0,360.5 1192.2,360.5 1192.5,360.0 1192.7,360.6 1193.0,360.1 1193.2,360.8 1193.5,360.6 1193.7,360.7 1194.0,360.0 1194.2,360.7 1194.4,360.6 1194.7,360.7 1194.9,360.5 1195.2,360.1 1195.4,360.1 1195.7,359.9 1195.9,359.9 1196.2,360.2 1196.4,359.9" fill="none" stroke="#ff7f00" stroke-width="1.6" stroke-linejoin="round"/><rect x="798.6" y="18.6" width="399.4" height="398.9" fill="none" stroke="#000" stroke-width="2.7"/><line x1="798.6" y1="417.5" x2="798.6" y2="422.0" stroke="#000" stroke-width="2.5"/><line x1="829.2" y1="417.5" x2="829.2" y2="425.5" stroke="#000" stroke-width="2.5"/><line x1="859.8" y1="417.5" x2="859.8" y2="422.0" stroke="#000" stroke-width="2.5"/><line x1="890.4" y1="417.5" x2="890.4" y2="425.5" stroke="#000" stroke-width="2.5"/><line x1="921.0" y1="417.5" x2="921.0" y2="422.0" stroke="#000" stroke-width="2.5"/><line x1="951.6" y1="417.5" x2="951.6" y2="425.5" stroke="#000" stroke-width="2.5"/><line x1="982.2" y1="417.5" x2="982.2" y2="422.0" stroke="#000" stroke-width="2.5"/><line x1="1012.8" y1="417.5" x2="1012.8" y2="425.5" stroke="#000" stroke-width="2.5"/><line x1="1043.4" y1="417.5" x2="1043.4" y2="422.0" stroke="#000" stroke-width="2.5"/><line x1="1074.0" y1="417.5" x2="1074.0" y2="425.5" stroke="#000" stroke-width="2.5"/><line x1="1104.6" y1="417.5" x2="1104.6" y2="422.0" stroke="#000" stroke-width="2.5"/><line x1="1135.2" y1="417.5" x2="1135.2" y2="425.5" stroke="#000" stroke-width="2.5"/><line x1="1165.8" y1="417.5" x2="1165.8" y2="422.0" stroke="#000" stroke-width="2.5"/><line x1="1196.4" y1="417.5" x2="1196.4" y2="425.5" stroke="#000" stroke-width="2.5"/><text transform="translate(830.00,456.90) scale(0.9953,1)" text-anchor="middle" font-family="'Liberation Sans', Arial, Helvetica, sans-serif" font-weight="normal" font-size="30.14" fill="#000">10</text><text transform="translate(891.20,456.90) scale(0.9953,1)" text-anchor="middle" font-family="'Liberation Sans', Arial, Helvetica, sans-serif" font-weight="normal" font-size="30.14" fill="#000">20</text><text transform="translate(952.40,456.90) scale(0.9953,1)" text-anchor="middle" font-family="'Liberation Sans', Arial, Helvetica, sans-serif" font-weight="normal" font-size="30.14" fill="#000">30</text><text transform="translate(1013.60,456.90) scale(0.9953,1)" text-anchor="middle" font-family="'Liberation Sans', Arial, Helvetica, sans-serif" font-weight="normal" font-size="30.14" fill="#000">40</text><text transform="translate(1074.80,456.90) scale(0.9953,1)" text-anchor="middle" font-family="'Liberation Sans', Arial, Helvetica, sans-serif" font-weight="normal" font-size="30.14" fill="#000">50</text><text transform="translate(1136.00,456.90) scale(0.9953,1)" text-anchor="middle" font-family="'Liberation Sans', Arial, Helvetica, sans-serif" font-weight="normal" font-size="30.14" fill="#000">60</text><text transform="translate(1197.20,456.90) scale(0.9953,1)" text-anchor="middle" font-family="'Liberation Sans', Arial, Helvetica, sans-serif" font-weight="normal" font-size="30.14" fill="#000">70</text><text transform="translate(878.92,489.43) scale(1.0620,1)" font-family="'Liberation Sans', Arial, Helvetica, sans-serif" font-weight="bold" font-size="29.15" fill="#000">2 Theta (degree)</text><text transform="translate(782.49,322.20) rotate(-90) scale(0.9902,1)" font-family="'Liberation Sans', Arial, Helvetica, sans-serif" font-weight="bold" font-size="31.02" fill="#000">Intensity (a.u.)</text><circle cx="948.9" cy="38" r="2.7" fill="url(#gobs)"/><line x1="920.6" y1="72.6" x2="977.5" y2="72.6" stroke="#ff0000" stroke-width="2.4"/><line x1="920.6" y1="106.8" x2="977.5" y2="106.8" stroke="#ff7f00" stroke-width="2"/><text transform="translate(984.14,46.44) scale(1.0955,1)" font-family="'Liberation Sans', Arial, Helvetica, sans-serif" font-weight="normal" font-size="25.58" fill="#000">Observed curve</text><text transform="translate(984.00,80.94) scale(1.0640,1)" font-family="'Liberation Sans', Arial, Helvetica, sans-serif" font-weight="normal" font-size="26.26" fill="#000">Calculated curve</text><text transform="translate(983.13,114.94) scale(1.0791,1)" font-family="'Liberation Sans', Arial, Helvetica, sans-serif" font-weight="normal" font-size="26.26" fill="#000">Difference</text><line x1="16.0" y1="760.0" x2="31.5" y2="746.0" stroke="#6c21b4" stroke-width="8"/><line x1="16.0" y1="760.0" x2="31.5" y2="746.0" stroke="#8b2be8" stroke-width="4.8"/><line x1="31.5" y1="746.0" x2="47.0" y2="732.0" stroke="#a5a5a5" stroke-width="8"/><line x1="31.5" y1="746.0" x2="47.0" y2="732.0" stroke="#d4d4d4" stroke-width="4.8"/><line x1="47.0" y1="732.0" x2="59.0" y2="740.5" stroke="#a5a5a5" stroke-width="8"/><line x1="47.0" y1="732.0" x2="59.0" y2="740.5" stroke="#d4d4d4" stroke-width="4.8"/><line x1="59.0" y1="740.5" x2="71.0" y2="749.0" stroke="#6c21b4" stroke-width="8"/><line x1="59.0" y1="740.5" x2="71.0" y2="749.0" stroke="#8b2be8" stroke-width="4.8"/><line x1="71.0" y1="749.0" x2="63.5" y2="765.5" stroke="#6c21b4" stroke-width="8"/><line x1="71.0" y1="749.0" x2="63.5" y2="765.5" stroke="#8b2be8" stroke-width="4.8"/><line x1="63.5" y1="765.5" x2="56.0" y2="782.0" stroke="#a5a5a5" stroke-width="8"/><line x1="63.5" y1="765.5" x2="56.0" y2="782.0" stroke="#d4d4d4" stroke-width="4.8"/><line x1="56.0" y1="782.0" x2="40.0" y2="784.5" stroke="#a5a5a5" stroke-width="8"/><line x1="56.0" y1="782.0" x2="40.0" y2="784.5" stroke="#d4d4d4" stroke-width="4.8"/><line x1="40.0" y1="784.5" x2="24.0" y2="787.0" stroke="#a5a5a5" stroke-width="8"/><line x1="40.0" y1="784.5" x2="24.0" y2="787.0" stroke="#d4d4d4" stroke-width="4.8"/><line x1="24.0" y1="787.0" x2="20.0" y2="773.5" stroke="#a5a5a5" stroke-width="8"/><line x1="24.0" y1="787.0" x2="20.0" y2="773.5" stroke="#d4d4d4" stroke-width="4.8"/><line x1="20.0" y1="773.5" x2="16.0" y2="760.0" stroke="#6c21b4" stroke-width="8"/><line x1="20.0" y1="773.5" x2="16.0" y2="760.0" stroke="#8b2be8" stroke-width="4.8"/><line x1="71.0" y1="749.0" x2="93.5" y2="743.5" stroke="#6c21b4" stroke-width="8"/><line x1="71.0" y1="749.0" x2="93.5" y2="743.5" stroke="#8b2be8" stroke-width="4.8"/><line x1="93.5" y1="743.5" x2="116.0" y2="738.0" stroke="#1297b3" stroke-width="8"/><line x1="93.5" y1="743.5" x2="116.0" y2="738.0" stroke="#18c2e6" stroke-width="4.8"/><line x1="116.0" y1="738.0" x2="109.0" y2="729.5" stroke="#1297b3" stroke-width="8"/><line x1="116.0" y1="738.0" x2="109.0" y2="729.5" stroke="#18c2e6" stroke-width="4.8"/><line x1="109.0" y1="729.5" x2="102.0" y2="721.0" stroke="#ae3838" stroke-width="8"/><line x1="109.0" y1="729.5" x2="102.0" y2="721.0" stroke="#e04848" stroke-width="4.8"/><line x1="116.0" y1="738.0" x2="131.0" y2="721.0" stroke="#1297b3" stroke-width="8"/><line x1="116.0" y1="738.0" x2="131.0" y2="721.0" stroke="#18c2e6" stroke-width="4.8"/><line x1="131.0" y1="721.0" x2="146.0" y2="704.0" stroke="#ae3838" stroke-width="8"/><line x1="131.0" y1="721.0" x2="146.0" y2="704.0" stroke="#e04848" stroke-width="4.8"/><line x1="146.0" y1="704.0" x2="159.5" y2="708.0" stroke="#ae3838" stroke-width="8"/><line x1="146.0" y1="704.0" x2="159.5" y2="708.0" stroke="#e04848" stroke-width="4.8"/><line x1="159.5" y1="708.0" x2="173.0" y2="712.0" stroke="#bca37b" stroke-width="8"/><line x1="159.5" y1="708.0" x2="173.0" y2="712.0" stroke="#f2d29e" stroke-width="4.8"/><line x1="173.0" y1="712.0" x2="181.5" y2="697.0" stroke="#bca37b" stroke-width="8"/><line x1="173.0" y1="712.0" x2="181.5" y2="697.0" stroke="#f2d29e" stroke-width="4.8"/><line x1="181.5" y1="697.0" x2="190.0" y2="682.0" stroke="#ae3838" stroke-width="8"/><line x1="181.5" y1="697.0" x2="190.0" y2="682.0" stroke="#e04848" stroke-width="4.8"/><line x1="173.0" y1="712.0" x2="178.5" y2="732.5" stroke="#bca37b" stroke-width="8"/><line x1="173.0" y1="712.0" x2="178.5" y2="732.5" stroke="#f2d29e" stroke-width="4.8"/><line x1="178.5" y1="732.5" x2="184.0" y2="753.0" stroke="#ae3838" stroke-width="8"/><line x1="178.5" y1="732.5" x2="184.0" y2="753.0" stroke="#e04848" stroke-width="4.8"/><line x1="116.0" y1="738.0" x2="128.0" y2="758.0" stroke="#1297b3" stroke-width="8"/><line x1="116.0" y1="738.0" x2="128.0" y2="758.0" stroke="#18c2e6" stroke-width="4.8"/><line x1="128.0" y1="758.0" x2="140.0" y2="778.0" stroke="#ae3838" stroke-width="8"/><line x1="128.0" y1="758.0" x2="140.0" y2="778.0" stroke="#e04848" stroke-width="4.8"/><line x1="140.0" y1="778.0" x2="162.0" y2="781.5" stroke="#ae3838" stroke-width="8"/><line x1="140.0" y1="778.0" x2="162.0" y2="781.5" stroke="#e04848" stroke-width="4.8"/><line x1="162.0" y1="781.5" x2="184.0" y2="785.0" stroke="#1297b3" stroke-width="8"/><line x1="162.0" y1="781.5" x2="184.0" y2="785.0" stroke="#18c2e6" stroke-width="4.8"/><line x1="184.0" y1="753.0" x2="184.0" y2="769.0" stroke="#ae3838" stroke-width="8"/><line x1="184.0" y1="753.0" x2="184.0" y2="769.0" stroke="#e04848" stroke-width="4.8"/><line x1="184.0" y1="769.0" x2="184.0" y2="785.0" stroke="#1297b3" stroke-width="8"/><line x1="184.0" y1="769.0" x2="184.0" y2="785.0" stroke="#18c2e6" stroke-width="4.8"/><line x1="184.0" y1="785.0" x2="184.0" y2="808.0" stroke="#1297b3" stroke-width="8"/><line x1="184.0" y1="785.0" x2="184.0" y2="808.0" stroke="#18c2e6" stroke-width="4.8"/><line x1="184.0" y1="808.0" x2="184.0" y2="831.0" stroke="#ae3838" stroke-width="8"/><line x1="184.0" y1="808.0" x2="184.0" y2="831.0" stroke="#e04848" stroke-width="4.8"/><line x1="184.0" y1="785.0" x2="200.0" y2="778.0" stroke="#1297b3" stroke-width="8"/><line x1="184.0" y1="785.0" x2="200.0" y2="778.0" stroke="#18c2e6" stroke-width="4.8"/><line x1="200.0" y1="778.0" x2="216.0" y2="771.0" stroke="#6c21b4" stroke-width="8"/><line x1="200.0" y1="778.0" x2="216.0" y2="771.0" stroke="#8b2be8" stroke-width="4.8"/><line x1="216.0" y1="771.0" x2="212.0" y2="755.5" stroke="#6c21b4" stroke-width="8"/><line x1="216.0" y1="771.0" x2="212.0" y2="755.5" stroke="#8b2be8" stroke-width="4.8"/><line x1="212.0" y1="755.5" x2="208.0" y2="740.0" stroke="#a5a5a5" stroke-width="8"/><line x1="212.0" y1="755.5" x2="208.0" y2="740.0" stroke="#d4d4d4" stroke-width="4.8"/><line x1="208.0" y1="740.0" x2="219.5" y2="738.0" stroke="#a5a5a5" stroke-width="8"/><line x1="208.0" y1="740.0" x2="219.5" y2="738.0" stroke="#d4d4d4" stroke-width="4.8"/><line x1="219.5" y1="738.0" x2="231.0" y2="736.0" stroke="#a5a5a5" stroke-width="8"/><line x1="219.5" y1="738.0" x2="231.0" y2="736.0" stroke="#d4d4d4" stroke-width="4.8"/><line x1="231.0" y1="736.0" x2="242.5" y2="748.0" stroke="#a5a5a5" stroke-width="8"/><line x1="231.0" y1="736.0" x2="242.5" y2="748.0" stroke="#d4d4d4" stroke-width="4.8"/><line x1="242.5" y1="748.0" x2="254.0" y2="760.0" stroke="#6c21b4" stroke-width="8"/><line x1="242.5" y1="748.0" x2="254.0" y2="760.0" stroke="#8b2be8" stroke-width="4.8"/><line x1="254.0" y1="760.0" x2="249.0" y2="771.0" stroke="#6c21b4" stroke-width="8"/><line x1="254.0" y1="760.0" x2="249.0" y2="771.0" stroke="#8b2be8" stroke-width="4.8"/><line x1="249.0" y1="771.0" x2="244.0" y2="782.0" stroke="#a5a5a5" stroke-width="8"/><line x1="249.0" y1="771.0" x2="244.0" y2="782.0" stroke="#d4d4d4" stroke-width="4.8"/><line x1="244.0" y1="782.0" x2="230.0" y2="776.5" stroke="#a5a5a5" stroke-width="8"/><line x1="244.0" y1="782.0" x2="230.0" y2="776.5" stroke="#d4d4d4" stroke-width="4.8"/><line x1="230.0" y1="776.5" x2="216.0" y2="771.0" stroke="#6c21b4" stroke-width="8"/><line x1="230.0" y1="776.5" x2="216.0" y2="771.0" stroke="#8b2be8" stroke-width="4.8"/><circle cx="16.0" cy="760.0" r="12.0" fill="url(#gN)"/><circle cx="47.0" cy="732.0" r="12.0" fill="url(#gC)"/><circle cx="71.0" cy="749.0" r="12.0" fill="url(#gN)"/><circle cx="56.0" cy="782.0" r="12.0" fill="url(#gC)"/><circle cx="24.0" cy="787.0" r="12.0" fill="url(#gC)"/><circle cx="116.0" cy="738.0" r="11.0" fill="url(#gZn)"/><circle cx="102.0" cy="721.0" r="10.5" fill="url(#gO)"/><circle cx="146.0" cy="704.0" r="11.5" fill="url(#gO)"/><circle cx="173.0" cy="712.0" r="10.5" fill="url(#gB)"/><circle cx="190.0" cy="682.0" r="13.0" fill="url(#gO)"/><circle cx="184.0" cy="753.0" r="12.0" fill="url(#gO)"/><circle cx="140.0" cy="778.0" r="12.0" fill="url(#gO)"/><circle cx="184.0" cy="785.0" r="11.5" fill="url(#gZn)"/><circle cx="184.0" cy="831.0" r="12.0" fill="url(#gO)"/><circle cx="216.0" cy="771.0" r="11.5" fill="url(#gN)"/><circle cx="208.0" cy="740.0" r="11.0" fill="url(#gC)"/><circle cx="231.0" cy="736.0" r="11.0" fill="url(#gC)"/><circle cx="254.0" cy="760.0" r="11.0" fill="url(#gN)"/><circle cx="244.0" cy="782.0" r="11.0" fill="url(#gC)"/><line x1="305.0" y1="598.0" x2="304.9" y2="613.5" stroke="#1297b3" stroke-width="7.4"/><line x1="305.0" y1="598.0" x2="304.9" y2="613.5" stroke="#18c2e6" stroke-width="4.4"/><line x1="304.9" y1="613.5" x2="304.7" y2="629.0" stroke="#ae3838" stroke-width="7.4"/><line x1="304.9" y1="613.5" x2="304.7" y2="629.0" stroke="#e04848" stroke-width="4.4"/><line x1="305.0" y1="598.0" x2="318.4" y2="589.6" stroke="#1297b3" stroke-width="7.4"/><line x1="305.0" y1="598.0" x2="318.4" y2="589.6" stroke="#18c2e6" stroke-width="4.4"/><line x1="318.4" y1="589.6" x2="331.8" y2="581.2" stroke="#ae3838" stroke-width="7.4"/><line x1="318.4" y1="589.6" x2="331.8" y2="581.2" stroke="#e04848" stroke-width="4.4"/><line x1="358.2" y1="598.4" x2="358.1" y2="613.9" stroke="#1297b3" stroke-width="7.4"/><line x1="358.2" y1="598.4" x2="358.1" y2="613.9" stroke="#18c2e6" stroke-width="4.4"/><line x1="358.1" y1="613.9" x2="357.9" y2="629.4" stroke="#ae3838" stroke-width="7.4"/><line x1="358.1" y1="613.9" x2="357.9" y2="629.4" stroke="#e04848" stroke-width="4.4"/><line x1="358.2" y1="598.4" x2="345.0" y2="589.8" stroke="#1297b3" stroke-width="7.4"/><line x1="358.2" y1="598.4" x2="345.0" y2="589.8" stroke="#18c2e6" stroke-width="4.4"/><line x1="345.0" y1="589.8" x2="331.8" y2="581.2" stroke="#ae3838" stroke-width="7.4"/><line x1="345.0" y1="589.8" x2="331.8" y2="581.2" stroke="#e04848" stroke-width="4.4"/><line x1="358.2" y1="598.4" x2="371.6" y2="590.0" stroke="#1297b3" stroke-width="7.4"/><line x1="358.2" y1="598.4" x2="371.6" y2="590.0" stroke="#18c2e6" stroke-width="4.4"/><line x1="371.6" y1="590.0" x2="385.0" y2="581.6" stroke="#ae3838" stroke-width="7.4"/><line x1="371.6" y1="590.0" x2="385.0" y2="581.6" stroke="#e04848" stroke-width="4.4"/><line x1="411.4" y1="598.9" x2="411.3" y2="614.4" stroke="#bca37b" stroke-width="7.4"/><line x1="411.4" y1="598.9" x2="411.3" y2="614.4" stroke="#f2d29e" stroke-width="4.4"/><line x1="411.3" y1="614.4" x2="411.1" y2="629.9" stroke="#ae3838" stroke-width="7.4"/><line x1="411.3" y1="614.4" x2="411.1" y2="629.9" stroke="#e04848" stroke-width="4.4"/><line x1="411.4" y1="598.9" x2="398.2" y2="590.2" stroke="#bca37b" stroke-width="7.4"/><line x1="411.4" y1="598.9" x2="398.2" y2="590.2" stroke="#f2d29e" stroke-width="4.4"/><line x1="398.2" y1="590.2" x2="385.0" y2="581.6" stroke="#ae3838" stroke-width="7.4"/><line x1="398.2" y1="590.2" x2="385.0" y2="581.6" stroke="#e04848" stroke-width="4.4"/><line x1="411.4" y1="598.9" x2="424.8" y2="590.5" stroke="#bca37b" stroke-width="7.4"/><line x1="411.4" y1="598.9" x2="424.8" y2="590.5" stroke="#f2d29e" stroke-width="4.4"/><line x1="424.8" y1="590.5" x2="438.2" y2="582.1" stroke="#ae3838" stroke-width="7.4"/><line x1="424.8" y1="590.5" x2="438.2" y2="582.1" stroke="#e04848" stroke-width="4.4"/><line x1="464.6" y1="599.3" x2="464.5" y2="614.8" stroke="#1297b3" stroke-width="7.4"/><line x1="464.6" y1="599.3" x2="464.5" y2="614.8" stroke="#18c2e6" stroke-width="4.4"/><line x1="464.5" y1="614.8" x2="464.3" y2="630.3" stroke="#ae3838" stroke-width="7.4"/><line x1="464.5" y1="614.8" x2="464.3" y2="630.3" stroke="#e04848" stroke-width="4.4"/><line x1="464.6" y1="599.3" x2="451.4" y2="590.7" stroke="#1297b3" stroke-width="7.4"/><line x1="464.6" y1="599.3" x2="451.4" y2="590.7" stroke="#18c2e6" stroke-width="4.4"/><line x1="451.4" y1="590.7" x2="438.2" y2="582.1" stroke="#ae3838" stroke-width="7.4"/><line x1="451.4" y1="590.7" x2="438.2" y2="582.1" stroke="#e04848" stroke-width="4.4"/><line x1="464.6" y1="599.3" x2="478.0" y2="590.9" stroke="#1297b3" stroke-width="7.4"/><line x1="464.6" y1="599.3" x2="478.0" y2="590.9" stroke="#18c2e6" stroke-width="4.4"/><line x1="478.0" y1="590.9" x2="491.4" y2="582.5" stroke="#ae3838" stroke-width="7.4"/><line x1="478.0" y1="590.9" x2="491.4" y2="582.5" stroke="#e04848" stroke-width="4.4"/><line x1="517.8" y1="599.7" x2="517.7" y2="615.2" stroke="#1297b3" stroke-width="7.4"/><line x1="517.8" y1="599.7" x2="517.7" y2="615.2" stroke="#18c2e6" stroke-width="4.4"/><line x1="517.7" y1="615.2" x2="517.5" y2="630.7" stroke="#ae3838" stroke-width="7.4"/><line x1="517.7" y1="615.2" x2="517.5" y2="630.7" stroke="#e04848" stroke-width="4.4"/><line x1="517.8" y1="599.7" x2="504.6" y2="591.1" stroke="#1297b3" stroke-width="7.4"/><line x1="517.8" y1="599.7" x2="504.6" y2="591.1" stroke="#18c2e6" stroke-width="4.4"/><line x1="504.6" y1="591.1" x2="491.4" y2="582.5" stroke="#ae3838" stroke-width="7.4"/><line x1="504.6" y1="591.1" x2="491.4" y2="582.5" stroke="#e04848" stroke-width="4.4"/><line x1="517.8" y1="599.7" x2="531.2" y2="591.3" stroke="#1297b3" stroke-width="7.4"/><line x1="517.8" y1="599.7" x2="531.2" y2="591.3" stroke="#18c2e6" stroke-width="4.4"/><line x1="531.2" y1="591.3" x2="544.6" y2="582.9" stroke="#ae3838" stroke-width="7.4"/><line x1="531.2" y1="591.3" x2="544.6" y2="582.9" stroke="#e04848" stroke-width="4.4"/><line x1="571.0" y1="600.1" x2="570.9" y2="615.6" stroke="#bca37b" stroke-width="7.4"/><line x1="571.0" y1="600.1" x2="570.9" y2="615.6" stroke="#f2d29e" stroke-width="4.4"/><line x1="570.9" y1="615.6" x2="570.7" y2="631.1" stroke="#ae3838" stroke-width="7.4"/><line x1="570.9" y1="615.6" x2="570.7" y2="631.1" stroke="#e04848" stroke-width="4.4"/><line x1="571.0" y1="600.1" x2="557.8" y2="591.5" stroke="#bca37b" stroke-width="7.4"/><line x1="571.0" y1="600.1" x2="557.8" y2="591.5" stroke="#f2d29e" stroke-width="4.4"/><line x1="557.8" y1="591.5" x2="544.6" y2="582.9" stroke="#ae3838" stroke-width="7.4"/><line x1="557.8" y1="591.5" x2="544.6" y2="582.9" stroke="#e04848" stroke-width="4.4"/><line x1="571.0" y1="600.1" x2="584.4" y2="591.7" stroke="#bca37b" stroke-width="7.4"/><line x1="571.0" y1="600.1" x2="584.4" y2="591.7" stroke="#f2d29e" stroke-width="4.4"/><line x1="584.4" y1="591.7" x2="597.8" y2="583.3" stroke="#ae3838" stroke-width="7.4"/><line x1="584.4" y1="591.7" x2="597.8" y2="583.3" stroke="#e04848" stroke-width="4.4"/><line x1="624.2" y1="600.6" x2="624.1" y2="616.1" stroke="#1297b3" stroke-width="7.4"/><line x1="624.2" y1="600.6" x2="624.1" y2="616.1" stroke="#18c2e6" stroke-width="4.4"/><line x1="624.1" y1="616.1" x2="623.9" y2="631.6" stroke="#ae3838" stroke-width="7.4"/><line x1="624.1" y1="616.1" x2="623.9" y2="631.6" stroke="#e04848" stroke-width="4.4"/><line x1="624.2" y1="600.6" x2="611.0" y2="591.9" stroke="#1297b3" stroke-width="7.4"/><line x1="624.2" y1="600.6" x2="611.0" y2="591.9" stroke="#18c2e6" stroke-width="4.4"/><line x1="611.0" y1="591.9" x2="597.8" y2="583.3" stroke="#ae3838" stroke-width="7.4"/><line x1="611.0" y1="591.9" x2="597.8" y2="583.3" stroke="#e04848" stroke-width="4.4"/><line x1="624.2" y1="600.6" x2="637.6" y2="592.2" stroke="#1297b3" stroke-width="7.4"/><line x1="624.2" y1="600.6" x2="637.6" y2="592.2" stroke="#18c2e6" stroke-width="4.4"/><line x1="637.6" y1="592.2" x2="651.0" y2="583.8" stroke="#ae3838" stroke-width="7.4"/><line x1="637.6" y1="592.2" x2="651.0" y2="583.8" stroke="#e04848" stroke-width="4.4"/><line x1="677.4" y1="601.0" x2="677.3" y2="616.5" stroke="#1297b3" stroke-width="7.4"/><line x1="677.4" y1="601.0" x2="677.3" y2="616.5" stroke="#18c2e6" stroke-width="4.4"/><line x1="677.3" y1="616.5" x2="677.1" y2="632.0" stroke="#ae3838" stroke-width="7.4"/><line x1="677.3" y1="616.5" x2="677.1" y2="632.0" stroke="#e04848" stroke-width="4.4"/><line x1="677.4" y1="601.0" x2="664.2" y2="592.4" stroke="#1297b3" stroke-width="7.4"/><line x1="677.4" y1="601.0" x2="664.2" y2="592.4" stroke="#18c2e6" stroke-width="4.4"/><line x1="664.2" y1="592.4" x2="651.0" y2="583.8" stroke="#ae3838" stroke-width="7.4"/><line x1="664.2" y1="592.4" x2="651.0" y2="583.8" stroke="#e04848" stroke-width="4.4"/><line x1="331.2" y1="644.4" x2="331.0" y2="659.9" stroke="#bca37b" stroke-width="7.4"/><line x1="331.2" y1="644.4" x2="331.0" y2="659.9" stroke="#f2d29e" stroke-width="4.4"/><line x1="331.0" y1="659.9" x2="330.9" y2="675.4" stroke="#ae3838" stroke-width="7.4"/><line x1="331.0" y1="659.9" x2="330.9" y2="675.4" stroke="#e04848" stroke-width="4.4"/><line x1="331.2" y1="644.4" x2="317.9" y2="636.7" stroke="#bca37b" stroke-width="7.4"/><line x1="331.2" y1="644.4" x2="317.9" y2="636.7" stroke="#f2d29e" stroke-width="4.4"/><line x1="317.9" y1="636.7" x2="304.7" y2="629.0" stroke="#ae3838" stroke-width="7.4"/><line x1="317.9" y1="636.7" x2="304.7" y2="629.0" stroke="#e04848" stroke-width="4.4"/><line x1="331.2" y1="644.4" x2="344.5" y2="636.9" stroke="#bca37b" stroke-width="7.4"/><line x1="331.2" y1="644.4" x2="344.5" y2="636.9" stroke="#f2d29e" stroke-width="4.4"/><line x1="344.5" y1="636.9" x2="357.9" y2="629.4" stroke="#ae3838" stroke-width="7.4"/><line x1="344.5" y1="636.9" x2="357.9" y2="629.4" stroke="#e04848" stroke-width="4.4"/><line x1="384.4" y1="644.8" x2="384.2" y2="660.3" stroke="#1297b3" stroke-width="7.4"/><line x1="384.4" y1="644.8" x2="384.2" y2="660.3" stroke="#18c2e6" stroke-width="4.4"/><line x1="384.2" y1="660.3" x2="384.1" y2="675.8" stroke="#ae3838" stroke-width="7.4"/><line x1="384.2" y1="660.3" x2="384.1" y2="675.8" stroke="#e04848" stroke-width="4.4"/><line x1="384.4" y1="644.8" x2="371.1" y2="637.1" stroke="#1297b3" stroke-width="7.4"/><line x1="384.4" y1="644.8" x2="371.1" y2="637.1" stroke="#18c2e6" stroke-width="4.4"/><line x1="371.1" y1="637.1" x2="357.9" y2="629.4" stroke="#ae3838" stroke-width="7.4"/><line x1="371.1" y1="637.1" x2="357.9" y2="629.4" stroke="#e04848" stroke-width="4.4"/><line x1="384.4" y1="644.8" x2="397.7" y2="637.3" stroke="#1297b3" stroke-width="7.4"/><line x1="384.4" y1="644.8" x2="397.7" y2="637.3" stroke="#18c2e6" stroke-width="4.4"/><line x1="397.7" y1="637.3" x2="411.1" y2="629.9" stroke="#ae3838" stroke-width="7.4"/><line x1="397.7" y1="637.3" x2="411.1" y2="629.9" stroke="#e04848" stroke-width="4.4"/><line x1="437.6" y1="645.3" x2="437.4" y2="660.8" stroke="#1297b3" stroke-width="7.4"/><line x1="437.6" y1="645.3" x2="437.4" y2="660.8" stroke="#18c2e6" stroke-width="4.4"/><line x1="437.4" y1="660.8" x2="437.3" y2="676.3" stroke="#ae3838" stroke-width="7.4"/><line x1="437.4" y1="660.8" x2="437.3" y2="676.3" stroke="#e04848" stroke-width="4.4"/><line x1="437.6" y1="645.3" x2="424.3" y2="637.6" stroke="#1297b3" stroke-width="7.4"/><line x1="437.6" y1="645.3" x2="424.3" y2="637.6" stroke="#18c2e6" stroke-width="4.4"/><line x1="424.3" y1="637.6" x2="411.1" y2="629.9" stroke="#ae3838" stroke-width="7.4"/><line x1="424.3" y1="637.6" x2="411.1" y2="629.9" stroke="#e04848" stroke-width="4.4"/><line x1="437.6" y1="645.3" x2="450.9" y2="637.8" stroke="#1297b3" stroke-width="7.4"/><line x1="437.6" y1="645.3" x2="450.9" y2="637.8" stroke="#18c2e6" stroke-width="4.4"/><line x1="450.9" y1="637.8" x2="464.3" y2="630.3" stroke="#ae3838" stroke-width="7.4"/><line x1="450.9" y1="637.8" x2="464.3" y2="630.3" stroke="#e04848" stroke-width="4.4"/><line x1="490.8" y1="645.7" x2="490.6" y2="661.2" stroke="#bca37b" stroke-width="7.4"/><line x1="490.8" y1="645.7" x2="490.6" y2="661.2" stroke="#f2d29e" stroke-width="4.4"/><line x1="490.6" y1="661.2" x2="490.5" y2="676.7" stroke="#ae3838" stroke-width="7.4"/><line x1="490.6" y1="661.2" x2="490.5" y2="676.7" stroke="#e04848" stroke-width="4.4"/><line x1="490.8" y1="645.7" x2="477.5" y2="638.0" stroke="#bca37b" stroke-width="7.4"/><line x1="490.8" y1="645.7" x2="477.5" y2="638.0" stroke="#f2d29e" stroke-width="4.4"/><line x1="477.5" y1="638.0" x2="464.3" y2="630.3" stroke="#ae3838" stroke-width="7.4"/><line x1="477.5" y1="638.0" x2="464.3" y2="630.3" stroke="#e04848" stroke-width="4.4"/><line x1="490.8" y1="645.7" x2="504.1" y2="638.2" stroke="#bca37b" stroke-width="7.4"/><line x1="490.8" y1="645.7" x2="504.1" y2="638.2" stroke="#f2d29e" stroke-width="4.4"/><line x1="504.1" y1="638.2" x2="517.5" y2="630.7" stroke="#ae3838" stroke-width="7.4"/><line x1="504.1" y1="638.2" x2="517.5" y2="630.7" stroke="#e04848" stroke-width="4.4"/><line x1="544.0" y1="646.1" x2="543.8" y2="661.6" stroke="#1297b3" stroke-width="7.4"/><line x1="544.0" y1="646.1" x2="543.8" y2="661.6" stroke="#18c2e6" stroke-width="4.4"/><line x1="543.8" y1="661.6" x2="543.7" y2="677.1" stroke="#ae3838" stroke-width="7.4"/><line x1="543.8" y1="661.6" x2="543.7" y2="677.1" stroke="#e04848" stroke-width="4.4"/><line x1="544.0" y1="646.1" x2="530.7" y2="638.4" stroke="#1297b3" stroke-width="7.4"/><line x1="544.0" y1="646.1" x2="530.7" y2="638.4" stroke="#18c2e6" stroke-width="4.4"/><line x1="530.7" y1="638.4" x2="517.5" y2="630.7" stroke="#ae3838" stroke-width="7.4"/><line x1="530.7" y1="638.4" x2="517.5" y2="630.7" stroke="#e04848" stroke-width="4.4"/><line x1="544.0" y1="646.1" x2="557.3" y2="638.6" stroke="#1297b3" stroke-width="7.4"/><line x1="544.0" y1="646.1" x2="557.3" y2="638.6" stroke="#18c2e6" stroke-width="4.4"/><line x1="557.3" y1="638.6" x2="570.7" y2="631.1" stroke="#ae3838" stroke-width="7.4"/><line x1="557.3" y1="638.6" x2="570.7" y2="631.1" stroke="#e04848" stroke-width="4.4"/><line x1="597.2" y1="646.5" x2="597.0" y2="662.0" stroke="#1297b3" stroke-width="7.4"/><line x1="597.2" y1="646.5" x2="597.0" y2="662.0" stroke="#18c2e6" stroke-width="4.4"/><line x1="597.0" y1="662.0" x2="596.9" y2="677.5" stroke="#ae3838" stroke-width="7.4"/><line x1="597.0" y1="662.0" x2="596.9" y2="677.5" stroke="#e04848" stroke-width="4.4"/><line x1="597.2" y1="646.5" x2="583.9" y2="638.8" stroke="#1297b3" stroke-width="7.4"/><line x1="597.2" y1="646.5" x2="583.9" y2="638.8" stroke="#18c2e6" stroke-width="4.4"/><line x1="583.9" y1="638.8" x2="570.7" y2="631.1" stroke="#ae3838" stroke-width="7.4"/><line x1="583.9" y1="638.8" x2="570.7" y2="631.1" stroke="#e04848" stroke-width="4.4"/><line x1="597.2" y1="646.5" x2="610.5" y2="639.0" stroke="#1297b3" stroke-width="7.4"/><line x1="597.2" y1="646.5" x2="610.5" y2="639.0" stroke="#18c2e6" stroke-width="4.4"/><line x1="610.5" y1="639.0" x2="623.9" y2="631.6" stroke="#ae3838" stroke-width="7.4"/><line x1="610.5" y1="639.0" x2="623.9" y2="631.6" stroke="#e04848" stroke-width="4.4"/><line x1="650.4" y1="647.0" x2="650.2" y2="662.5" stroke="#bca37b" stroke-width="7.4"/><line x1="650.4" y1="647.0" x2="650.2" y2="662.5" stroke="#f2d29e" stroke-width="4.4"/><line x1="650.2" y1="662.5" x2="650.1" y2="678.0" stroke="#ae3838" stroke-width="7.4"/><line x1="650.2" y1="662.5" x2="650.1" y2="678.0" stroke="#e04848" stroke-width="4.4"/><line x1="650.4" y1="647.0" x2="637.1" y2="639.3" stroke="#bca37b" stroke-width="7.4"/><line x1="650.4" y1="647.0" x2="637.1" y2="639.3" stroke="#f2d29e" stroke-width="4.4"/><line x1="637.1" y1="639.3" x2="623.9" y2="631.6" stroke="#ae3838" stroke-width="7.4"/><line x1="637.1" y1="639.3" x2="623.9" y2="631.6" stroke="#e04848" stroke-width="4.4"/><line x1="650.4" y1="647.0" x2="663.7" y2="639.5" stroke="#bca37b" stroke-width="7.4"/><line x1="650.4" y1="647.0" x2="663.7" y2="639.5" stroke="#f2d29e" stroke-width="4.4"/><line x1="663.7" y1="639.5" x2="677.1" y2="632.0" stroke="#ae3838" stroke-width="7.4"/><line x1="663.7" y1="639.5" x2="677.1" y2="632.0" stroke="#e04848" stroke-width="4.4"/><line x1="304.1" y1="690.4" x2="304.0" y2="705.9" stroke="#1297b3" stroke-width="7.4"/><line x1="304.1" y1="690.4" x2="304.0" y2="705.9" stroke="#18c2e6" stroke-width="4.4"/><line x1="304.0" y1="705.9" x2="303.8" y2="721.4" stroke="#ae3838" stroke-width="7.4"/><line x1="304.0" y1="705.9" x2="303.8" y2="721.4" stroke="#e04848" stroke-width="4.4"/><line x1="304.1" y1="690.4" x2="317.5" y2="682.9" stroke="#1297b3" stroke-width="7.4"/><line x1="304.1" y1="690.4" x2="317.5" y2="682.9" stroke="#18c2e6" stroke-width="4.4"/><line x1="317.5" y1="682.9" x2="330.9" y2="675.4" stroke="#ae3838" stroke-width="7.4"/><line x1="317.5" y1="682.9" x2="330.9" y2="675.4" stroke="#e04848" stroke-width="4.4"/><line x1="357.3" y1="690.8" x2="357.2" y2="706.3" stroke="#1297b3" stroke-width="7.4"/><line x1="357.3" y1="690.8" x2="357.2" y2="706.3" stroke="#18c2e6" stroke-width="4.4"/><line x1="357.2" y1="706.3" x2="357.0" y2="721.8" stroke="#ae3838" stroke-width="7.4"/><line x1="357.2" y1="706.3" x2="357.0" y2="721.8" stroke="#e04848" stroke-width="4.4"/><line x1="357.3" y1="690.8" x2="344.1" y2="683.1" stroke="#1297b3" stroke-width="7.4"/><line x1="357.3" y1="690.8" x2="344.1" y2="683.1" stroke="#18c2e6" stroke-width="4.4"/><line x1="344.1" y1="683.1" x2="330.9" y2="675.4" stroke="#ae3838" stroke-width="7.4"/><line x1="344.1" y1="683.1" x2="330.9" y2="675.4" stroke="#e04848" stroke-width="4.4"/><line x1="357.3" y1="690.8" x2="370.7" y2="683.3" stroke="#1297b3" stroke-width="7.4"/><line x1="357.3" y1="690.8" x2="370.7" y2="683.3" stroke="#18c2e6" stroke-width="4.4"/><line x1="370.7" y1="683.3" x2="384.1" y2="675.8" stroke="#ae3838" stroke-width="7.4"/><line x1="370.7" y1="683.3" x2="384.1" y2="675.8" stroke="#e04848" stroke-width="4.4"/><line x1="410.5" y1="691.3" x2="410.4" y2="706.8" stroke="#bca37b" stroke-width="7.4"/><line x1="410.5" y1="691.3" x2="410.4" y2="706.8" stroke="#f2d29e" stroke-width="4.4"/><line x1="410.4" y1="706.8" x2="410.2" y2="722.3" stroke="#ae3838" stroke-width="7.4"/><line x1="410.4" y1="706.8" x2="410.2" y2="722.3" stroke="#e04848" stroke-width="4.4"/><line x1="410.5" y1="691.3" x2="397.3" y2="683.5" stroke="#bca37b" stroke-width="7.4"/><line x1="410.5" y1="691.3" x2="397.3" y2="683.5" stroke="#f2d29e" stroke-width="4.4"/><line x1="397.3" y1="683.5" x2="384.1" y2="675.8" stroke="#ae3838" stroke-width="7.4"/><line x1="397.3" y1="683.5" x2="384.1" y2="675.8" stroke="#e04848" stroke-width="4.4"/><line x1="410.5" y1="691.3" x2="423.9" y2="683.8" stroke="#bca37b" stroke-width="7.4"/><line x1="410.5" y1="691.3" x2="423.9" y2="683.8" stroke="#f2d29e" stroke-width="4.4"/><line x1="423.9" y1="683.8" x2="437.3" y2="676.3" stroke="#ae3838" stroke-width="7.4"/><line x1="423.9" y1="683.8" x2="437.3" y2="676.3" stroke="#e04848" stroke-width="4.4"/><line x1="463.7" y1="691.7" x2="463.6" y2="707.2" stroke="#1297b3" stroke-width="7.4"/><line x1="463.7" y1="691.7" x2="463.6" y2="707.2" stroke="#18c2e6" stroke-width="4.4"/><line x1="463.6" y1="707.2" x2="463.4" y2="722.7" stroke="#ae3838" stroke-width="7.4"/><line x1="463.6" y1="707.2" x2="463.4" y2="722.7" stroke="#e04848" stroke-width="4.4"/><line x1="463.7" y1="691.7" x2="450.5" y2="684.0" stroke="#1297b3" stroke-width="7.4"/><line x1="463.7" y1="691.7" x2="450.5" y2="684.0" stroke="#18c2e6" stroke-width="4.4"/><line x1="450.5" y1="684.0" x2="437.3" y2="676.3" stroke="#ae3838" stroke-width="7.4"/><line x1="450.5" y1="684.0" x2="437.3" y2="676.3" stroke="#e04848" stroke-width="4.4"/><line x1="463.7" y1="691.7" x2="477.1" y2="684.2" stroke="#1297b3" stroke-width="7.4"/><line x1="463.7" y1="691.7" x2="477.1" y2="684.2" stroke="#18c2e6" stroke-width="4.4"/><line x1="477.1" y1="684.2" x2="490.5" y2="676.7" stroke="#ae3838" stroke-width="7.4"/><line x1="477.1" y1="684.2" x2="490.5" y2="676.7" stroke="#e04848" stroke-width="4.4"/><line x1="516.9" y1="692.1" x2="516.8" y2="707.6" stroke="#1297b3" stroke-width="7.4"/><line x1="516.9" y1="692.1" x2="516.8" y2="707.6" stroke="#18c2e6" stroke-width="4.4"/><line x1="516.8" y1="707.6" x2="516.6" y2="723.1" stroke="#ae3838" stroke-width="7.4"/><line x1="516.8" y1="707.6" x2="516.6" y2="723.1" stroke="#e04848" stroke-width="4.4"/><line x1="516.9" y1="692.1" x2="503.7" y2="684.4" stroke="#1297b3" stroke-width="7.4"/><line x1="516.9" y1="692.1" x2="503.7" y2="684.4" stroke="#18c2e6" stroke-width="4.4"/><line x1="503.7" y1="684.4" x2="490.5" y2="676.7" stroke="#ae3838" stroke-width="7.4"/><line x1="503.7" y1="684.4" x2="490.5" y2="676.7" stroke="#e04848" stroke-width="4.4"/><line x1="516.9" y1="692.1" x2="530.3" y2="684.6" stroke="#1297b3" stroke-width="7.4"/><line x1="516.9" y1="692.1" x2="530.3" y2="684.6" stroke="#18c2e6" stroke-width="4.4"/><line x1="530.3" y1="684.6" x2="543.7" y2="677.1" stroke="#ae3838" stroke-width="7.4"/><line x1="530.3" y1="684.6" x2="543.7" y2="677.1" stroke="#e04848" stroke-width="4.4"/><line x1="570.1" y1="692.5" x2="570.0" y2="708.0" stroke="#bca37b" stroke-width="7.4"/><line x1="570.1" y1="692.5" x2="570.0" y2="708.0" stroke="#f2d29e" stroke-width="4.4"/><line x1="570.0" y1="708.0" x2="569.8" y2="723.5" stroke="#ae3838" stroke-width="7.4"/><line x1="570.0" y1="708.0" x2="569.8" y2="723.5" stroke="#e04848" stroke-width="4.4"/><line x1="570.1" y1="692.5" x2="556.9" y2="684.8" stroke="#bca37b" stroke-width="7.4"/><line x1="570.1" y1="692.5" x2="556.9" y2="684.8" stroke="#f2d29e" stroke-width="4.4"/><line x1="556.9" y1="684.8" x2="543.7" y2="677.1" stroke="#ae3838" stroke-width="7.4"/><line x1="556.9" y1="684.8" x2="543.7" y2="677.1" stroke="#e04848" stroke-width="4.4"/><line x1="570.1" y1="692.5" x2="583.5" y2="685.0" stroke="#bca37b" stroke-width="7.4"/><line x1="570.1" y1="692.5" x2="583.5" y2="685.0" stroke="#f2d29e" stroke-width="4.4"/><line x1="583.5" y1="685.0" x2="596.9" y2="677.5" stroke="#ae3838" stroke-width="7.4"/><line x1="583.5" y1="685.0" x2="596.9" y2="677.5" stroke="#e04848" stroke-width="4.4"/><line x1="623.3" y1="693.0" x2="623.2" y2="708.5" stroke="#1297b3" stroke-width="7.4"/><line x1="623.3" y1="693.0" x2="623.2" y2="708.5" stroke="#18c2e6" stroke-width="4.4"/><line x1="623.2" y1="708.5" x2="623.0" y2="724.0" stroke="#ae3838" stroke-width="7.4"/><line x1="623.2" y1="708.5" x2="623.0" y2="724.0" stroke="#e04848" stroke-width="4.4"/><line x1="623.3" y1="693.0" x2="610.1" y2="685.2" stroke="#1297b3" stroke-width="7.4"/><line x1="623.3" y1="693.0" x2="610.1" y2="685.2" stroke="#18c2e6" stroke-width="4.4"/><line x1="610.1" y1="685.2" x2="596.9" y2="677.5" stroke="#ae3838" stroke-width="7.4"/><line x1="610.1" y1="685.2" x2="596.9" y2="677.5" stroke="#e04848" stroke-width="4.4"/><line x1="623.3" y1="693.0" x2="636.7" y2="685.5" stroke="#1297b3" stroke-width="7.4"/><line x1="623.3" y1="693.0" x2="636.7" y2="685.5" stroke="#18c2e6" stroke-width="4.4"/><line x1="636.7" y1="685.5" x2="650.1" y2="678.0" stroke="#ae3838" stroke-width="7.4"/><line x1="636.7" y1="685.5" x2="650.1" y2="678.0" stroke="#e04848" stroke-width="4.4"/><line x1="676.5" y1="693.4" x2="676.4" y2="708.9" stroke="#1297b3" stroke-width="7.4"/><line x1="676.5" y1="693.4" x2="676.4" y2="708.9" stroke="#18c2e6" stroke-width="4.4"/><line x1="676.4" y1="708.9" x2="676.2" y2="724.4" stroke="#ae3838" stroke-width="7.4"/><line x1="676.4" y1="708.9" x2="676.2" y2="724.4" stroke="#e04848" stroke-width="4.4"/><line x1="676.5" y1="693.4" x2="663.3" y2="685.7" stroke="#1297b3" stroke-width="7.4"/><line x1="676.5" y1="693.4" x2="663.3" y2="685.7" stroke="#18c2e6" stroke-width="4.4"/><line x1="663.3" y1="685.7" x2="650.1" y2="678.0" stroke="#ae3838" stroke-width="7.4"/><line x1="663.3" y1="685.7" x2="650.1" y2="678.0" stroke="#e04848" stroke-width="4.4"/><line x1="330.3" y1="736.8" x2="330.1" y2="752.3" stroke="#bca37b" stroke-width="7.4"/><line x1="330.3" y1="736.8" x2="330.1" y2="752.3" stroke="#f2d29e" stroke-width="4.4"/><line x1="330.1" y1="752.3" x2="330.0" y2="767.8" stroke="#ae3838" stroke-width="7.4"/><line x1="330.1" y1="752.3" x2="330.0" y2="767.8" stroke="#e04848" stroke-width="4.4"/><line x1="330.3" y1="736.8" x2="317.1" y2="729.1" stroke="#bca37b" stroke-width="7.4"/><line x1="330.3" y1="736.8" x2="317.1" y2="729.1" stroke="#f2d29e" stroke-width="4.4"/><line x1="317.1" y1="729.1" x2="303.8" y2="721.4" stroke="#ae3838" stroke-width="7.4"/><line x1="317.1" y1="729.1" x2="303.8" y2="721.4" stroke="#e04848" stroke-width="4.4"/><line x1="330.3" y1="736.8" x2="343.7" y2="729.3" stroke="#bca37b" stroke-width="7.4"/><line x1="330.3" y1="736.8" x2="343.7" y2="729.3" stroke="#f2d29e" stroke-width="4.4"/><line x1="343.7" y1="729.3" x2="357.0" y2="721.8" stroke="#ae3838" stroke-width="7.4"/><line x1="343.7" y1="729.3" x2="357.0" y2="721.8" stroke="#e04848" stroke-width="4.4"/><line x1="383.5" y1="737.2" x2="383.3" y2="752.7" stroke="#1297b3" stroke-width="7.4"/><line x1="383.5" y1="737.2" x2="383.3" y2="752.7" stroke="#18c2e6" stroke-width="4.4"/><line x1="383.3" y1="752.7" x2="383.2" y2="768.2" stroke="#ae3838" stroke-width="7.4"/><line x1="383.3" y1="752.7" x2="383.2" y2="768.2" stroke="#e04848" stroke-width="4.4"/><line x1="383.5" y1="737.2" x2="370.3" y2="729.5" stroke="#1297b3" stroke-width="7.4"/><line x1="383.5" y1="737.2" x2="370.3" y2="729.5" stroke="#18c2e6" stroke-width="4.4"/><line x1="370.3" y1="729.5" x2="357.0" y2="721.8" stroke="#ae3838" stroke-width="7.4"/><line x1="370.3" y1="729.5" x2="357.0" y2="721.8" stroke="#e04848" stroke-width="4.4"/><line x1="383.5" y1="737.2" x2="396.9" y2="729.7" stroke="#1297b3" stroke-width="7.4"/><line x1="383.5" y1="737.2" x2="396.9" y2="729.7" stroke="#18c2e6" stroke-width="4.4"/><line x1="396.9" y1="729.7" x2="410.2" y2="722.3" stroke="#ae3838" stroke-width="7.4"/><line x1="396.9" y1="729.7" x2="410.2" y2="722.3" stroke="#e04848" stroke-width="4.4"/><line x1="436.7" y1="737.7" x2="436.5" y2="753.2" stroke="#1297b3" stroke-width="7.4"/><line x1="436.7" y1="737.7" x2="436.5" y2="753.2" stroke="#18c2e6" stroke-width="4.4"/><line x1="436.5" y1="753.2" x2="436.4" y2="768.7" stroke="#ae3838" stroke-width="7.4"/><line x1="436.5" y1="753.2" x2="436.4" y2="768.7" stroke="#e04848" stroke-width="4.4"/><line x1="436.7" y1="737.7" x2="423.5" y2="730.0" stroke="#1297b3" stroke-width="7.4"/><line x1="436.7" y1="737.7" x2="423.5" y2="730.0" stroke="#18c2e6" stroke-width="4.4"/><line x1="423.5" y1="730.0" x2="410.2" y2="722.3" stroke="#ae3838" stroke-width="7.4"/><line x1="423.5" y1="730.0" x2="410.2" y2="722.3" stroke="#e04848" stroke-width="4.4"/><line x1="436.7" y1="737.7" x2="450.1" y2="730.2" stroke="#1297b3" stroke-width="7.4"/><line x1="436.7" y1="737.7" x2="450.1" y2="730.2" stroke="#18c2e6" stroke-width="4.4"/><line x1="450.1" y1="730.2" x2="463.4" y2="722.7" stroke="#ae3838" stroke-width="7.4"/><line x1="450.1" y1="730.2" x2="463.4" y2="722.7" stroke="#e04848" stroke-width="4.4"/><line x1="489.9" y1="738.1" x2="489.7" y2="753.6" stroke="#bca37b" stroke-width="7.4"/><line x1="489.9" y1="738.1" x2="489.7" y2="753.6" stroke="#f2d29e" stroke-width="4.4"/><line x1="489.7" y1="753.6" x2="489.6" y2="769.1" stroke="#ae3838" stroke-width="7.4"/><line x1="489.7" y1="753.6" x2="489.6" y2="769.1" stroke="#e04848" stroke-width="4.4"/><line x1="489.9" y1="738.1" x2="476.7" y2="730.4" stroke="#bca37b" stroke-width="7.4"/><line x1="489.9" y1="738.1" x2="476.7" y2="730.4" stroke="#f2d29e" stroke-width="4.4"/><line x1="476.7" y1="730.4" x2="463.4" y2="722.7" stroke="#ae3838" stroke-width="7.4"/><line x1="476.7" y1="730.4" x2="463.4" y2="722.7" stroke="#e04848" stroke-width="4.4"/><line x1="489.9" y1="738.1" x2="503.3" y2="730.6" stroke="#bca37b" stroke-width="7.4"/><line x1="489.9" y1="738.1" x2="503.3" y2="730.6" stroke="#f2d29e" stroke-width="4.4"/><line x1="503.3" y1="730.6" x2="516.6" y2="723.1" stroke="#ae3838" stroke-width="7.4"/><line x1="503.3" y1="730.6" x2="516.6" y2="723.1" stroke="#e04848" stroke-width="4.4"/><line x1="543.1" y1="738.5" x2="542.9" y2="754.0" stroke="#1297b3" stroke-width="7.4"/><line x1="543.1" y1="738.5" x2="542.9" y2="754.0" stroke="#18c2e6" stroke-width="4.4"/><line x1="542.9" y1="754.0" x2="542.8" y2="769.5" stroke="#ae3838" stroke-width="7.4"/><line x1="542.9" y1="754.0" x2="542.8" y2="769.5" stroke="#e04848" stroke-width="4.4"/><line x1="543.1" y1="738.5" x2="529.9" y2="730.8" stroke="#1297b3" stroke-width="7.4"/><line x1="543.1" y1="738.5" x2="529.9" y2="730.8" stroke="#18c2e6" stroke-width="4.4"/><line x1="529.9" y1="730.8" x2="516.6" y2="723.1" stroke="#ae3838" stroke-width="7.4"/><line x1="529.9" y1="730.8" x2="516.6" y2="723.1" stroke="#e04848" stroke-width="4.4"/><line x1="543.1" y1="738.5" x2="556.5" y2="731.0" stroke="#1297b3" stroke-width="7.4"/><line x1="543.1" y1="738.5" x2="556.5" y2="731.0" stroke="#18c2e6" stroke-width="4.4"/><line x1="556.5" y1="731.0" x2="569.8" y2="723.5" stroke="#ae3838" stroke-width="7.4"/><line x1="556.5" y1="731.0" x2="569.8" y2="723.5" stroke="#e04848" stroke-width="4.4"/><line x1="596.3" y1="738.9" x2="596.1" y2="754.4" stroke="#1297b3" stroke-width="7.4"/><line x1="596.3" y1="738.9" x2="596.1" y2="754.4" stroke="#18c2e6" stroke-width="4.4"/><line x1="596.1" y1="754.4" x2="596.0" y2="769.9" stroke="#ae3838" stroke-width="7.4"/><line x1="596.1" y1="754.4" x2="596.0" y2="769.9" stroke="#e04848" stroke-width="4.4"/><line x1="596.3" y1="738.9" x2="583.1" y2="731.2" stroke="#1297b3" stroke-width="7.4"/><line x1="596.3" y1="738.9" x2="583.1" y2="731.2" stroke="#18c2e6" stroke-width="4.4"/><line x1="583.1" y1="731.2" x2="569.8" y2="723.5" stroke="#ae3838" stroke-width="7.4"/><line x1="583.1" y1="731.2" x2="569.8" y2="723.5" stroke="#e04848" stroke-width="4.4"/><line x1="596.3" y1="738.9" x2="609.7" y2="731.4" stroke="#1297b3" stroke-width="7.4"/><line x1="596.3" y1="738.9" x2="609.7" y2="731.4" stroke="#18c2e6" stroke-width="4.4"/><line x1="609.7" y1="731.4" x2="623.0" y2="724.0" stroke="#ae3838" stroke-width="7.4"/><line x1="609.7" y1="731.4" x2="623.0" y2="724.0" stroke="#e04848" stroke-width="4.4"/><line x1="649.5" y1="739.4" x2="649.3" y2="754.9" stroke="#bca37b" stroke-width="7.4"/><line x1="649.5" y1="739.4" x2="649.3" y2="754.9" stroke="#f2d29e" stroke-width="4.4"/><line x1="649.3" y1="754.9" x2="649.2" y2="770.4" stroke="#ae3838" stroke-width="7.4"/><line x1="649.3" y1="754.9" x2="649.2" y2="770.4" stroke="#e04848" stroke-width="4.4"/><line x1="649.5" y1="739.4" x2="636.3" y2="731.7" stroke="#bca37b" stroke-width="7.4"/><line x1="649.5" y1="739.4" x2="636.3" y2="731.7" stroke="#f2d29e" stroke-width="4.4"/><line x1="636.3" y1="731.7" x2="623.0" y2="724.0" stroke="#ae3838" stroke-width="7.4"/><line x1="636.3" y1="731.7" x2="623.0" y2="724.0" stroke="#e04848" stroke-width="4.4"/><line x1="649.5" y1="739.4" x2="662.9" y2="731.9" stroke="#bca37b" stroke-width="7.4"/><line x1="649.5" y1="739.4" x2="662.9" y2="731.9" stroke="#f2d29e" stroke-width="4.4"/><line x1="662.9" y1="731.9" x2="676.2" y2="724.4" stroke="#ae3838" stroke-width="7.4"/><line x1="662.9" y1="731.9" x2="676.2" y2="724.4" stroke="#e04848" stroke-width="4.4"/><line x1="303.2" y1="782.8" x2="303.1" y2="798.3" stroke="#1297b3" stroke-width="7.4"/><line x1="303.2" y1="782.8" x2="303.1" y2="798.3" stroke="#18c2e6" stroke-width="4.4"/><line x1="303.1" y1="798.3" x2="302.9" y2="813.8" stroke="#ae3838" stroke-width="7.4"/><line x1="303.1" y1="798.3" x2="302.9" y2="813.8" stroke="#e04848" stroke-width="4.4"/><line x1="303.2" y1="782.8" x2="316.6" y2="775.3" stroke="#1297b3" stroke-width="7.4"/><line x1="303.2" y1="782.8" x2="316.6" y2="775.3" stroke="#18c2e6" stroke-width="4.4"/><line x1="316.6" y1="775.3" x2="330.0" y2="767.8" stroke="#ae3838" stroke-width="7.4"/><line x1="316.6" y1="775.3" x2="330.0" y2="767.8" stroke="#e04848" stroke-width="4.4"/><line x1="356.4" y1="783.2" x2="356.3" y2="798.7" stroke="#1297b3" stroke-width="7.4"/><line x1="356.4" y1="783.2" x2="356.3" y2="798.7" stroke="#18c2e6" stroke-width="4.4"/><line x1="356.3" y1="798.7" x2="356.1" y2="814.2" stroke="#ae3838" stroke-width="7.4"/><line x1="356.3" y1="798.7" x2="356.1" y2="814.2" stroke="#e04848" stroke-width="4.4"/><line x1="356.4" y1="783.2" x2="343.2" y2="775.5" stroke="#1297b3" stroke-width="7.4"/><line x1="356.4" y1="783.2" x2="343.2" y2="775.5" stroke="#18c2e6" stroke-width="4.4"/><line x1="343.2" y1="775.5" x2="330.0" y2="767.8" stroke="#ae3838" stroke-width="7.4"/><line x1="343.2" y1="775.5" x2="330.0" y2="767.8" stroke="#e04848" stroke-width="4.4"/><line x1="356.4" y1="783.2" x2="369.8" y2="775.7" stroke="#1297b3" stroke-width="7.4"/><line x1="356.4" y1="783.2" x2="369.8" y2="775.7" stroke="#18c2e6" stroke-width="4.4"/><line x1="369.8" y1="775.7" x2="383.2" y2="768.2" stroke="#ae3838" stroke-width="7.4"/><line x1="369.8" y1="775.7" x2="383.2" y2="768.2" stroke="#e04848" stroke-width="4.4"/><line x1="409.6" y1="783.7" x2="409.5" y2="799.2" stroke="#bca37b" stroke-width="7.4"/><line x1="409.6" y1="783.7" x2="409.5" y2="799.2" stroke="#f2d29e" stroke-width="4.4"/><line x1="409.5" y1="799.2" x2="409.3" y2="814.7" stroke="#ae3838" stroke-width="7.4"/><line x1="409.5" y1="799.2" x2="409.3" y2="814.7" stroke="#e04848" stroke-width="4.4"/><line x1="409.6" y1="783.7" x2="396.4" y2="775.9" stroke="#bca37b" stroke-width="7.4"/><line x1="409.6" y1="783.7" x2="396.4" y2="775.9" stroke="#f2d29e" stroke-width="4.4"/><line x1="396.4" y1="775.9" x2="383.2" y2="768.2" stroke="#ae3838" stroke-width="7.4"/><line x1="396.4" y1="775.9" x2="383.2" y2="768.2" stroke="#e04848" stroke-width="4.4"/><line x1="409.6" y1="783.7" x2="423.0" y2="776.2" stroke="#bca37b" stroke-width="7.4"/><line x1="409.6" y1="783.7" x2="423.0" y2="776.2" stroke="#f2d29e" stroke-width="4.4"/><line x1="423.0" y1="776.2" x2="436.4" y2="768.7" stroke="#ae3838" stroke-width="7.4"/><line x1="423.0" y1="776.2" x2="436.4" y2="768.7" stroke="#e04848" stroke-width="4.4"/><line x1="462.8" y1="784.1" x2="462.7" y2="799.6" stroke="#1297b3" stroke-width="7.4"/><line x1="462.8" y1="784.1" x2="462.7" y2="799.6" stroke="#18c2e6" stroke-width="4.4"/><line x1="462.7" y1="799.6" x2="462.5" y2="815.1" stroke="#ae3838" stroke-width="7.4"/><line x1="462.7" y1="799.6" x2="462.5" y2="815.1" stroke="#e04848" stroke-width="4.4"/><line x1="462.8" y1="784.1" x2="449.6" y2="776.4" stroke="#1297b3" stroke-width="7.4"/><line x1="462.8" y1="784.1" x2="449.6" y2="776.4" stroke="#18c2e6" stroke-width="4.4"/><line x1="449.6" y1="776.4" x2="436.4" y2="768.7" stroke="#ae3838" stroke-width="7.4"/><line x1="449.6" y1="776.4" x2="436.4" y2="768.7" stroke="#e04848" stroke-width="4.4"/><line x1="462.8" y1="784.1" x2="476.2" y2="776.6" stroke="#1297b3" stroke-width="7.4"/><line x1="462.8" y1="784.1" x2="476.2" y2="776.6" stroke="#18c2e6" stroke-width="4.4"/><line x1="476.2" y1="776.6" x2="489.6" y2="769.1" stroke="#ae3838" stroke-width="7.4"/><line x1="476.2" y1="776.6" x2="489.6" y2="769.1" stroke="#e04848" stroke-width="4.4"/><line x1="516.0" y1="784.5" x2="515.9" y2="800.0" stroke="#1297b3" stroke-width="7.4"/><line x1="516.0" y1="784.5" x2="515.9" y2="800.0" stroke="#18c2e6" stroke-width="4.4"/><line x1="515.9" y1="800.0" x2="515.7" y2="815.5" stroke="#ae3838" stroke-width="7.4"/><line x1="515.9" y1="800.0" x2="515.7" y2="815.5" stroke="#e04848" stroke-width="4.4"/><line x1="516.0" y1="784.5" x2="502.8" y2="776.8" stroke="#1297b3" stroke-width="7.4"/><line x1="516.0" y1="784.5" x2="502.8" y2="776.8" stroke="#18c2e6" stroke-width="4.4"/><line x1="502.8" y1="776.8" x2="489.6" y2="769.1" stroke="#ae3838" stroke-width="7.4"/><line x1="502.8" y1="776.8" x2="489.6" y2="769.1" stroke="#e04848" stroke-width="4.4"/><line x1="516.0" y1="784.5" x2="529.4" y2="777.0" stroke="#1297b3" stroke-width="7.4"/><line x1="516.0" y1="784.5" x2="529.4" y2="777.0" stroke="#18c2e6" stroke-width="4.4"/><line x1="529.4" y1="777.0" x2="542.8" y2="769.5" stroke="#ae3838" stroke-width="7.4"/><line x1="529.4" y1="777.0" x2="542.8" y2="769.5" stroke="#e04848" stroke-width="4.4"/><line x1="569.2" y1="784.9" x2="569.1" y2="800.4" stroke="#bca37b" stroke-width="7.4"/><line x1="569.2" y1="784.9" x2="569.1" y2="800.4" stroke="#f2d29e" stroke-width="4.4"/><line x1="569.1" y1="800.4" x2="568.9" y2="815.9" stroke="#ae3838" stroke-width="7.4"/><line x1="569.1" y1="800.4" x2="568.9" y2="815.9" stroke="#e04848" stroke-width="4.4"/><line x1="569.2" y1="784.9" x2="556.0" y2="777.2" stroke="#bca37b" stroke-width="7.4"/><line x1="569.2" y1="784.9" x2="556.0" y2="777.2" stroke="#f2d29e" stroke-width="4.4"/><line x1="556.0" y1="777.2" x2="542.8" y2="769.5" stroke="#ae3838" stroke-width="7.4"/><line x1="556.0" y1="777.2" x2="542.8" y2="769.5" stroke="#e04848" stroke-width="4.4"/><line x1="569.2" y1="784.9" x2="582.6" y2="777.4" stroke="#bca37b" stroke-width="7.4"/><line x1="569.2" y1="784.9" x2="582.6" y2="777.4" stroke="#f2d29e" stroke-width="4.4"/><line x1="582.6" y1="777.4" x2="596.0" y2="769.9" stroke="#ae3838" stroke-width="7.4"/><line x1="582.6" y1="777.4" x2="596.0" y2="769.9" stroke="#e04848" stroke-width="4.4"/><line x1="622.4" y1="785.4" x2="622.3" y2="800.9" stroke="#1297b3" stroke-width="7.4"/><line x1="622.4" y1="785.4" x2="622.3" y2="800.9" stroke="#18c2e6" stroke-width="4.4"/><line x1="622.3" y1="800.9" x2="622.1" y2="816.4" stroke="#ae3838" stroke-width="7.4"/><line x1="622.3" y1="800.9" x2="622.1" y2="816.4" stroke="#e04848" stroke-width="4.4"/><line x1="622.4" y1="785.4" x2="609.2" y2="777.6" stroke="#1297b3" stroke-width="7.4"/><line x1="622.4" y1="785.4" x2="609.2" y2="777.6" stroke="#18c2e6" stroke-width="4.4"/><line x1="609.2" y1="777.6" x2="596.0" y2="769.9" stroke="#ae3838" stroke-width="7.4"/><line x1="609.2" y1="777.6" x2="596.0" y2="769.9" stroke="#e04848" stroke-width="4.4"/><line x1="622.4" y1="785.4" x2="635.8" y2="777.9" stroke="#1297b3" stroke-width="7.4"/><line x1="622.4" y1="785.4" x2="635.8" y2="777.9" stroke="#18c2e6" stroke-width="4.4"/><line x1="635.8" y1="777.9" x2="649.2" y2="770.4" stroke="#ae3838" stroke-width="7.4"/><line x1="635.8" y1="777.9" x2="649.2" y2="770.4" stroke="#e04848" stroke-width="4.4"/><line x1="675.6" y1="785.8" x2="675.5" y2="801.3" stroke="#1297b3" stroke-width="7.4"/><line x1="675.6" y1="785.8" x2="675.5" y2="801.3" stroke="#18c2e6" stroke-width="4.4"/><line x1="675.5" y1="801.3" x2="675.3" y2="816.8" stroke="#ae3838" stroke-width="7.4"/><line x1="675.5" y1="801.3" x2="675.3" y2="816.8" stroke="#e04848" stroke-width="4.4"/><line x1="675.6" y1="785.8" x2="662.4" y2="778.1" stroke="#1297b3" stroke-width="7.4"/><line x1="675.6" y1="785.8" x2="662.4" y2="778.1" stroke="#18c2e6" stroke-width="4.4"/><line x1="662.4" y1="778.1" x2="649.2" y2="770.4" stroke="#ae3838" stroke-width="7.4"/><line x1="662.4" y1="778.1" x2="649.2" y2="770.4" stroke="#e04848" stroke-width="4.4"/><line x1="329.4" y1="829.2" x2="329.3" y2="844.7" stroke="#bca37b" stroke-width="7.4"/><line x1="329.4" y1="829.2" x2="329.3" y2="844.7" stroke="#f2d29e" stroke-width="4.4"/><line x1="329.3" y1="844.7" x2="329.1" y2="860.2" stroke="#ae3838" stroke-width="7.4"/><line x1="329.3" y1="844.7" x2="329.1" y2="860.2" stroke="#e04848" stroke-width="4.4"/><line x1="329.4" y1="829.2" x2="316.2" y2="821.5" stroke="#bca37b" stroke-width="7.4"/><line x1="329.4" y1="829.2" x2="316.2" y2="821.5" stroke="#f2d29e" stroke-width="4.4"/><line x1="316.2" y1="821.5" x2="302.9" y2="813.8" stroke="#ae3838" stroke-width="7.4"/><line x1="316.2" y1="821.5" x2="302.9" y2="813.8" stroke="#e04848" stroke-width="4.4"/><line x1="329.4" y1="829.2" x2="342.8" y2="821.7" stroke="#bca37b" stroke-width="7.4"/><line x1="329.4" y1="829.2" x2="342.8" y2="821.7" stroke="#f2d29e" stroke-width="4.4"/><line x1="342.8" y1="821.7" x2="356.1" y2="814.2" stroke="#ae3838" stroke-width="7.4"/><line x1="342.8" y1="821.7" x2="356.1" y2="814.2" stroke="#e04848" stroke-width="4.4"/><line x1="382.6" y1="829.6" x2="382.5" y2="845.1" stroke="#1297b3" stroke-width="7.4"/><line x1="382.6" y1="829.6" x2="382.5" y2="845.1" stroke="#18c2e6" stroke-width="4.4"/><line x1="382.5" y1="845.1" x2="382.3" y2="860.6" stroke="#ae3838" stroke-width="7.4"/><line x1="382.5" y1="845.1" x2="382.3" y2="860.6" stroke="#e04848" stroke-width="4.4"/><line x1="382.6" y1="829.6" x2="369.4" y2="821.9" stroke="#1297b3" stroke-width="7.4"/><line x1="382.6" y1="829.6" x2="369.4" y2="821.9" stroke="#18c2e6" stroke-width="4.4"/><line x1="369.4" y1="821.9" x2="356.1" y2="814.2" stroke="#ae3838" stroke-width="7.4"/><line x1="369.4" y1="821.9" x2="356.1" y2="814.2" stroke="#e04848" stroke-width="4.4"/><line x1="382.6" y1="829.6" x2="396.0" y2="822.1" stroke="#1297b3" stroke-width="7.4"/><line x1="382.6" y1="829.6" x2="396.0" y2="822.1" stroke="#18c2e6" stroke-width="4.4"/><line x1="396.0" y1="822.1" x2="409.3" y2="814.7" stroke="#ae3838" stroke-width="7.4"/><line x1="396.0" y1="822.1" x2="409.3" y2="814.7" stroke="#e04848" stroke-width="4.4"/><line x1="435.8" y1="830.1" x2="435.7" y2="845.6" stroke="#1297b3" stroke-width="7.4"/><line x1="435.8" y1="830.1" x2="435.7" y2="845.6" stroke="#18c2e6" stroke-width="4.4"/><line x1="435.7" y1="845.6" x2="435.5" y2="861.1" stroke="#ae3838" stroke-width="7.4"/><line x1="435.7" y1="845.6" x2="435.5" y2="861.1" stroke="#e04848" stroke-width="4.4"/><line x1="435.8" y1="830.1" x2="422.6" y2="822.4" stroke="#1297b3" stroke-width="7.4"/><line x1="435.8" y1="830.1" x2="422.6" y2="822.4" stroke="#18c2e6" stroke-width="4.4"/><line x1="422.6" y1="822.4" x2="409.3" y2="814.7" stroke="#ae3838" stroke-width="7.4"/><line x1="422.6" y1="822.4" x2="409.3" y2="814.7" stroke="#e04848" stroke-width="4.4"/><line x1="435.8" y1="830.1" x2="449.2" y2="822.6" stroke="#1297b3" stroke-width="7.4"/><line x1="435.8" y1="830.1" x2="449.2" y2="822.6" stroke="#18c2e6" stroke-width="4.4"/><line x1="449.2" y1="822.6" x2="462.5" y2="815.1" stroke="#ae3838" stroke-width="7.4"/><line x1="449.2" y1="822.6" x2="462.5" y2="815.1" stroke="#e04848" stroke-width="4.4"/><line x1="489.0" y1="830.5" x2="488.9" y2="846.0" stroke="#bca37b" stroke-width="7.4"/><line x1="489.0" y1="830.5" x2="488.9" y2="846.0" stroke="#f2d29e" stroke-width="4.4"/><line x1="488.9" y1="846.0" x2="488.7" y2="861.5" stroke="#ae3838" stroke-width="7.4"/><line x1="488.9" y1="846.0" x2="488.7" y2="861.5" stroke="#e04848" stroke-width="4.4"/><line x1="489.0" y1="830.5" x2="475.8" y2="822.8" stroke="#bca37b" stroke-width="7.4"/><line x1="489.0" y1="830.5" x2="475.8" y2="822.8" stroke="#f2d29e" stroke-width="4.4"/><line x1="475.8" y1="822.8" x2="462.5" y2="815.1" stroke="#ae3838" stroke-width="7.4"/><line x1="475.8" y1="822.8" x2="462.5" y2="815.1" stroke="#e04848" stroke-width="4.4"/><line x1="489.0" y1="830.5" x2="502.4" y2="823.0" stroke="#bca37b" stroke-width="7.4"/><line x1="489.0" y1="830.5" x2="502.4" y2="823.0" stroke="#f2d29e" stroke-width="4.4"/><line x1="502.4" y1="823.0" x2="515.7" y2="815.5" stroke="#ae3838" stroke-width="7.4"/><line x1="502.4" y1="823.0" x2="515.7" y2="815.5" stroke="#e04848" stroke-width="4.4"/><line x1="542.2" y1="830.9" x2="542.1" y2="846.4" stroke="#1297b3" stroke-width="7.4"/><line x1="542.2" y1="830.9" x2="542.1" y2="846.4" stroke="#18c2e6" stroke-width="4.4"/><line x1="542.1" y1="846.4" x2="541.9" y2="861.9" stroke="#ae3838" stroke-width="7.4"/><line x1="542.1" y1="846.4" x2="541.9" y2="861.9" stroke="#e04848" stroke-width="4.4"/><line x1="542.2" y1="830.9" x2="529.0" y2="823.2" stroke="#1297b3" stroke-width="7.4"/><line x1="542.2" y1="830.9" x2="529.0" y2="823.2" stroke="#18c2e6" stroke-width="4.4"/><line x1="529.0" y1="823.2" x2="515.7" y2="815.5" stroke="#ae3838" stroke-width="7.4"/><line x1="529.0" y1="823.2" x2="515.7" y2="815.5" stroke="#e04848" stroke-width="4.4"/><line x1="542.2" y1="830.9" x2="555.6" y2="823.4" stroke="#1297b3" stroke-width="7.4"/><line x1="542.2" y1="830.9" x2="555.6" y2="823.4" stroke="#18c2e6" stroke-width="4.4"/><line x1="555.6" y1="823.4" x2="568.9" y2="815.9" stroke="#ae3838" stroke-width="7.4"/><line x1="555.6" y1="823.4" x2="568.9" y2="815.9" stroke="#e04848" stroke-width="4.4"/><line x1="595.4" y1="831.3" x2="595.3" y2="846.8" stroke="#1297b3" stroke-width="7.4"/><line x1="595.4" y1="831.3" x2="595.3" y2="846.8" stroke="#18c2e6" stroke-width="4.4"/><line x1="595.3" y1="846.8" x2="595.1" y2="862.3" stroke="#ae3838" stroke-width="7.4"/><line x1="595.3" y1="846.8" x2="595.1" y2="862.3" stroke="#e04848" stroke-width="4.4"/><line x1="595.4" y1="831.3" x2="582.2" y2="823.6" stroke="#1297b3" stroke-width="7.4"/><line x1="595.4" y1="831.3" x2="582.2" y2="823.6" stroke="#18c2e6" stroke-width="4.4"/><line x1="582.2" y1="823.6" x2="568.9" y2="815.9" stroke="#ae3838" stroke-width="7.4"/><line x1="582.2" y1="823.6" x2="568.9" y2="815.9" stroke="#e04848" stroke-width="4.4"/><line x1="595.4" y1="831.3" x2="608.8" y2="823.8" stroke="#1297b3" stroke-width="7.4"/><line x1="595.4" y1="831.3" x2="608.8" y2="823.8" stroke="#18c2e6" stroke-width="4.4"/><line x1="608.8" y1="823.8" x2="622.1" y2="816.4" stroke="#ae3838" stroke-width="7.4"/><line x1="608.8" y1="823.8" x2="622.1" y2="816.4" stroke="#e04848" stroke-width="4.4"/><line x1="648.6" y1="831.8" x2="648.5" y2="847.3" stroke="#bca37b" stroke-width="7.4"/><line x1="648.6" y1="831.8" x2="648.5" y2="847.3" stroke="#f2d29e" stroke-width="4.4"/><line x1="648.5" y1="847.3" x2="648.3" y2="862.8" stroke="#ae3838" stroke-width="7.4"/><line x1="648.5" y1="847.3" x2="648.3" y2="862.8" stroke="#e04848" stroke-width="4.4"/><line x1="648.6" y1="831.8" x2="635.4" y2="824.1" stroke="#bca37b" stroke-width="7.4"/><line x1="648.6" y1="831.8" x2="635.4" y2="824.1" stroke="#f2d29e" stroke-width="4.4"/><line x1="635.4" y1="824.1" x2="622.1" y2="816.4" stroke="#ae3838" stroke-width="7.4"/><line x1="635.4" y1="824.1" x2="622.1" y2="816.4" stroke="#e04848" stroke-width="4.4"/><line x1="648.6" y1="831.8" x2="662.0" y2="824.3" stroke="#bca37b" stroke-width="7.4"/><line x1="648.6" y1="831.8" x2="662.0" y2="824.3" stroke="#f2d29e" stroke-width="4.4"/><line x1="662.0" y1="824.3" x2="675.3" y2="816.8" stroke="#ae3838" stroke-width="7.4"/><line x1="662.0" y1="824.3" x2="675.3" y2="816.8" stroke="#e04848" stroke-width="4.4"/><line x1="302.4" y1="875.2" x2="302.2" y2="890.7" stroke="#1297b3" stroke-width="7.4"/><line x1="302.4" y1="875.2" x2="302.2" y2="890.7" stroke="#18c2e6" stroke-width="4.4"/><line x1="302.2" y1="890.7" x2="302.1" y2="906.2" stroke="#ae3838" stroke-width="7.4"/><line x1="302.2" y1="890.7" x2="302.1" y2="906.2" stroke="#e04848" stroke-width="4.4"/><line x1="302.4" y1="875.2" x2="315.7" y2="867.7" stroke="#1297b3" stroke-width="7.4"/><line x1="302.4" y1="875.2" x2="315.7" y2="867.7" stroke="#18c2e6" stroke-width="4.4"/><line x1="315.7" y1="867.7" x2="329.1" y2="860.2" stroke="#ae3838" stroke-width="7.4"/><line x1="315.7" y1="867.7" x2="329.1" y2="860.2" stroke="#e04848" stroke-width="4.4"/><line x1="355.6" y1="875.6" x2="355.4" y2="891.1" stroke="#1297b3" stroke-width="7.4"/><line x1="355.6" y1="875.6" x2="355.4" y2="891.1" stroke="#18c2e6" stroke-width="4.4"/><line x1="355.4" y1="891.1" x2="355.3" y2="906.6" stroke="#ae3838" stroke-width="7.4"/><line x1="355.4" y1="891.1" x2="355.3" y2="906.6" stroke="#e04848" stroke-width="4.4"/><line x1="355.6" y1="875.6" x2="342.3" y2="867.9" stroke="#1297b3" stroke-width="7.4"/><line x1="355.6" y1="875.6" x2="342.3" y2="867.9" stroke="#18c2e6" stroke-width="4.4"/><line x1="342.3" y1="867.9" x2="329.1" y2="860.2" stroke="#ae3838" stroke-width="7.4"/><line x1="342.3" y1="867.9" x2="329.1" y2="860.2" stroke="#e04848" stroke-width="4.4"/><line x1="355.6" y1="875.6" x2="368.9" y2="868.1" stroke="#1297b3" stroke-width="7.4"/><line x1="355.6" y1="875.6" x2="368.9" y2="868.1" stroke="#18c2e6" stroke-width="4.4"/><line x1="368.9" y1="868.1" x2="382.3" y2="860.6" stroke="#ae3838" stroke-width="7.4"/><line x1="368.9" y1="868.1" x2="382.3" y2="860.6" stroke="#e04848" stroke-width="4.4"/><line x1="408.8" y1="876.1" x2="408.6" y2="891.6" stroke="#bca37b" stroke-width="7.4"/><line x1="408.8" y1="876.1" x2="408.6" y2="891.6" stroke="#f2d29e" stroke-width="4.4"/><line x1="408.6" y1="891.6" x2="408.5" y2="907.1" stroke="#ae3838" stroke-width="7.4"/><line x1="408.6" y1="891.6" x2="408.5" y2="907.1" stroke="#e04848" stroke-width="4.4"/><line x1="408.8" y1="876.1" x2="395.5" y2="868.3" stroke="#bca37b" stroke-width="7.4"/><line x1="408.8" y1="876.1" x2="395.5" y2="868.3" stroke="#f2d29e" stroke-width="4.4"/><line x1="395.5" y1="868.3" x2="382.3" y2="860.6" stroke="#ae3838" stroke-width="7.4"/><line x1="395.5" y1="868.3" x2="382.3" y2="860.6" stroke="#e04848" stroke-width="4.4"/><line x1="408.8" y1="876.1" x2="422.1" y2="868.6" stroke="#bca37b" stroke-width="7.4"/><line x1="408.8" y1="876.1" x2="422.1" y2="868.6" stroke="#f2d29e" stroke-width="4.4"/><line x1="422.1" y1="868.6" x2="435.5" y2="861.1" stroke="#ae3838" stroke-width="7.4"/><line x1="422.1" y1="868.6" x2="435.5" y2="861.1" stroke="#e04848" stroke-width="4.4"/><line x1="462.0" y1="876.5" x2="461.8" y2="892.0" stroke="#1297b3" stroke-width="7.4"/><line x1="462.0" y1="876.5" x2="461.8" y2="892.0" stroke="#18c2e6" stroke-width="4.4"/><line x1="461.8" y1="892.0" x2="461.7" y2="907.5" stroke="#ae3838" stroke-width="7.4"/><line x1="461.8" y1="892.0" x2="461.7" y2="907.5" stroke="#e04848" stroke-width="4.4"/><line x1="462.0" y1="876.5" x2="448.7" y2="868.8" stroke="#1297b3" stroke-width="7.4"/><line x1="462.0" y1="876.5" x2="448.7" y2="868.8" stroke="#18c2e6" stroke-width="4.4"/><line x1="448.7" y1="868.8" x2="435.5" y2="861.1" stroke="#ae3838" stroke-width="7.4"/><line x1="448.7" y1="868.8" x2="435.5" y2="861.1" stroke="#e04848" stroke-width="4.4"/><line x1="462.0" y1="876.5" x2="475.3" y2="869.0" stroke="#1297b3" stroke-width="7.4"/><line x1="462.0" y1="876.5" x2="475.3" y2="869.0" stroke="#18c2e6" stroke-width="4.4"/><line x1="475.3" y1="869.0" x2="488.7" y2="861.5" stroke="#ae3838" stroke-width="7.4"/><line x1="475.3" y1="869.0" x2="488.7" y2="861.5" stroke="#e04848" stroke-width="4.4"/><line x1="515.2" y1="876.9" x2="515.0" y2="892.4" stroke="#1297b3" stroke-width="7.4"/><line x1="515.2" y1="876.9" x2="515.0" y2="892.4" stroke="#18c2e6" stroke-width="4.4"/><line x1="515.0" y1="892.4" x2="514.9" y2="907.9" stroke="#ae3838" stroke-width="7.4"/><line x1="515.0" y1="892.4" x2="514.9" y2="907.9" stroke="#e04848" stroke-width="4.4"/><line x1="515.2" y1="876.9" x2="501.9" y2="869.2" stroke="#1297b3" stroke-width="7.4"/><line x1="515.2" y1="876.9" x2="501.9" y2="869.2" stroke="#18c2e6" stroke-width="4.4"/><line x1="501.9" y1="869.2" x2="488.7" y2="861.5" stroke="#ae3838" stroke-width="7.4"/><line x1="501.9" y1="869.2" x2="488.7" y2="861.5" stroke="#e04848" stroke-width="4.4"/><line x1="515.2" y1="876.9" x2="528.5" y2="869.4" stroke="#1297b3" stroke-width="7.4"/><line x1="515.2" y1="876.9" x2="528.5" y2="869.4" stroke="#18c2e6" stroke-width="4.4"/><line x1="528.5" y1="869.4" x2="541.9" y2="861.9" stroke="#ae3838" stroke-width="7.4"/><line x1="528.5" y1="869.4" x2="541.9" y2="861.9" stroke="#e04848" stroke-width="4.4"/><line x1="568.4" y1="877.3" x2="568.2" y2="892.8" stroke="#bca37b" stroke-width="7.4"/><line x1="568.4" y1="877.3" x2="568.2" y2="892.8" stroke="#f2d29e" stroke-width="4.4"/><line x1="568.2" y1="892.8" x2="568.1" y2="908.3" stroke="#ae3838" stroke-width="7.4"/><line x1="568.2" y1="892.8" x2="568.1" y2="908.3" stroke="#e04848" stroke-width="4.4"/><line x1="568.4" y1="877.3" x2="555.1" y2="869.6" stroke="#bca37b" stroke-width="7.4"/><line x1="568.4" y1="877.3" x2="555.1" y2="869.6" stroke="#f2d29e" stroke-width="4.4"/><line x1="555.1" y1="869.6" x2="541.9" y2="861.9" stroke="#ae3838" stroke-width="7.4"/><line x1="555.1" y1="869.6" x2="541.9" y2="861.9" stroke="#e04848" stroke-width="4.4"/><line x1="568.4" y1="877.3" x2="581.7" y2="869.8" stroke="#bca37b" stroke-width="7.4"/><line x1="568.4" y1="877.3" x2="581.7" y2="869.8" stroke="#f2d29e" stroke-width="4.4"/><line x1="581.7" y1="869.8" x2="595.1" y2="862.3" stroke="#ae3838" stroke-width="7.4"/><line x1="581.7" y1="869.8" x2="595.1" y2="862.3" stroke="#e04848" stroke-width="4.4"/><line x1="621.6" y1="877.8" x2="621.4" y2="893.3" stroke="#1297b3" stroke-width="7.4"/><line x1="621.6" y1="877.8" x2="621.4" y2="893.3" stroke="#18c2e6" stroke-width="4.4"/><line x1="621.4" y1="893.3" x2="621.3" y2="908.8" stroke="#ae3838" stroke-width="7.4"/><line x1="621.4" y1="893.3" x2="621.3" y2="908.8" stroke="#e04848" stroke-width="4.4"/><line x1="621.6" y1="877.8" x2="608.3" y2="870.0" stroke="#1297b3" stroke-width="7.4"/><line x1="621.6" y1="877.8" x2="608.3" y2="870.0" stroke="#18c2e6" stroke-width="4.4"/><line x1="608.3" y1="870.0" x2="595.1" y2="862.3" stroke="#ae3838" stroke-width="7.4"/><line x1="608.3" y1="870.0" x2="595.1" y2="862.3" stroke="#e04848" stroke-width="4.4"/><line x1="621.6" y1="877.8" x2="634.9" y2="870.3" stroke="#1297b3" stroke-width="7.4"/><line x1="621.6" y1="877.8" x2="634.9" y2="870.3" stroke="#18c2e6" stroke-width="4.4"/><line x1="634.9" y1="870.3" x2="648.3" y2="862.8" stroke="#ae3838" stroke-width="7.4"/><line x1="634.9" y1="870.3" x2="648.3" y2="862.8" stroke="#e04848" stroke-width="4.4"/><line x1="674.8" y1="878.2" x2="674.6" y2="893.7" stroke="#1297b3" stroke-width="7.4"/><line x1="674.8" y1="878.2" x2="674.6" y2="893.7" stroke="#18c2e6" stroke-width="4.4"/><line x1="674.6" y1="893.7" x2="674.5" y2="909.2" stroke="#ae3838" stroke-width="7.4"/><line x1="674.6" y1="893.7" x2="674.5" y2="909.2" stroke="#e04848" stroke-width="4.4"/><line x1="674.8" y1="878.2" x2="661.5" y2="870.5" stroke="#1297b3" stroke-width="7.4"/><line x1="674.8" y1="878.2" x2="661.5" y2="870.5" stroke="#18c2e6" stroke-width="4.4"/><line x1="661.5" y1="870.5" x2="648.3" y2="862.8" stroke="#ae3838" stroke-width="7.4"/><line x1="661.5" y1="870.5" x2="648.3" y2="862.8" stroke="#e04848" stroke-width="4.4"/><line x1="328.5" y1="921.6" x2="315.3" y2="913.9" stroke="#bca37b" stroke-width="7.4"/><line x1="328.5" y1="921.6" x2="315.3" y2="913.9" stroke="#f2d29e" stroke-width="4.4"/><line x1="315.3" y1="913.9" x2="302.1" y2="906.2" stroke="#ae3838" stroke-width="7.4"/><line x1="315.3" y1="913.9" x2="302.1" y2="906.2" stroke="#e04848" stroke-width="4.4"/><line x1="328.5" y1="921.6" x2="341.9" y2="914.1" stroke="#bca37b" stroke-width="7.4"/><line x1="328.5" y1="921.6" x2="341.9" y2="914.1" stroke="#f2d29e" stroke-width="4.4"/><line x1="341.9" y1="914.1" x2="355.3" y2="906.6" stroke="#ae3838" stroke-width="7.4"/><line x1="341.9" y1="914.1" x2="355.3" y2="906.6" stroke="#e04848" stroke-width="4.4"/><line x1="381.7" y1="922.0" x2="368.5" y2="914.3" stroke="#1297b3" stroke-width="7.4"/><line x1="381.7" y1="922.0" x2="368.5" y2="914.3" stroke="#18c2e6" stroke-width="4.4"/><line x1="368.5" y1="914.3" x2="355.3" y2="906.6" stroke="#ae3838" stroke-width="7.4"/><line x1="368.5" y1="914.3" x2="355.3" y2="906.6" stroke="#e04848" stroke-width="4.4"/><line x1="381.7" y1="922.0" x2="395.1" y2="914.5" stroke="#1297b3" stroke-width="7.4"/><line x1="381.7" y1="922.0" x2="395.1" y2="914.5" stroke="#18c2e6" stroke-width="4.4"/><line x1="395.1" y1="914.5" x2="408.5" y2="907.1" stroke="#ae3838" stroke-width="7.4"/><line x1="395.1" y1="914.5" x2="408.5" y2="907.1" stroke="#e04848" stroke-width="4.4"/><line x1="434.9" y1="922.5" x2="421.7" y2="914.8" stroke="#1297b3" stroke-width="7.4"/><line x1="434.9" y1="922.5" x2="421.7" y2="914.8" stroke="#18c2e6" stroke-width="4.4"/><line x1="421.7" y1="914.8" x2="408.5" y2="907.1" stroke="#ae3838" stroke-width="7.4"/><line x1="421.7" y1="914.8" x2="408.5" y2="907.1" stroke="#e04848" stroke-width="4.4"/><line x1="434.9" y1="922.5" x2="448.3" y2="915.0" stroke="#1297b3" stroke-width="7.4"/><line x1="434.9" y1="922.5" x2="448.3" y2="915.0" stroke="#18c2e6" stroke-width="4.4"/><line x1="448.3" y1="915.0" x2="461.7" y2="907.5" stroke="#ae3838" stroke-width="7.4"/><line x1="448.3" y1="915.0" x2="461.7" y2="907.5" stroke="#e04848" stroke-width="4.4"/><line x1="488.1" y1="922.9" x2="474.9" y2="915.2" stroke="#bca37b" stroke-width="7.4"/><line x1="488.1" y1="922.9" x2="474.9" y2="915.2" stroke="#f2d29e" stroke-width="4.4"/><line x1="474.9" y1="915.2" x2="461.7" y2="907.5" stroke="#ae3838" stroke-width="7.4"/><line x1="474.9" y1="915.2" x2="461.7" y2="907.5" stroke="#e04848" stroke-width="4.4"/><line x1="488.1" y1="922.9" x2="501.5" y2="915.4" stroke="#bca37b" stroke-width="7.4"/><line x1="488.1" y1="922.9" x2="501.5" y2="915.4" stroke="#f2d29e" stroke-width="4.4"/><line x1="501.5" y1="915.4" x2="514.9" y2="907.9" stroke="#ae3838" stroke-width="7.4"/><line x1="501.5" y1="915.4" x2="514.9" y2="907.9" stroke="#e04848" stroke-width="4.4"/><line x1="541.3" y1="923.3" x2="528.1" y2="915.6" stroke="#1297b3" stroke-width="7.4"/><line x1="541.3" y1="923.3" x2="528.1" y2="915.6" stroke="#18c2e6" stroke-width="4.4"/><line x1="528.1" y1="915.6" x2="514.9" y2="907.9" stroke="#ae3838" stroke-width="7.4"/><line x1="528.1" y1="915.6" x2="514.9" y2="907.9" stroke="#e04848" stroke-width="4.4"/><line x1="541.3" y1="923.3" x2="554.7" y2="915.8" stroke="#1297b3" stroke-width="7.4"/><line x1="541.3" y1="923.3" x2="554.7" y2="915.8" stroke="#18c2e6" stroke-width="4.4"/><line x1="554.7" y1="915.8" x2="568.1" y2="908.3" stroke="#ae3838" stroke-width="7.4"/><line x1="554.7" y1="915.8" x2="568.1" y2="908.3" stroke="#e04848" stroke-width="4.4"/><line x1="594.5" y1="923.7" x2="581.3" y2="916.0" stroke="#1297b3" stroke-width="7.4"/><line x1="594.5" y1="923.7" x2="581.3" y2="916.0" stroke="#18c2e6" stroke-width="4.4"/><line x1="581.3" y1="916.0" x2="568.1" y2="908.3" stroke="#ae3838" stroke-width="7.4"/><line x1="581.3" y1="916.0" x2="568.1" y2="908.3" stroke="#e04848" stroke-width="4.4"/><line x1="594.5" y1="923.7" x2="607.9" y2="916.2" stroke="#1297b3" stroke-width="7.4"/><line x1="594.5" y1="923.7" x2="607.9" y2="916.2" stroke="#18c2e6" stroke-width="4.4"/><line x1="607.9" y1="916.2" x2="621.3" y2="908.8" stroke="#ae3838" stroke-width="7.4"/><line x1="607.9" y1="916.2" x2="621.3" y2="908.8" stroke="#e04848" stroke-width="4.4"/><line x1="647.7" y1="924.2" x2="634.5" y2="916.5" stroke="#bca37b" stroke-width="7.4"/><line x1="647.7" y1="924.2" x2="634.5" y2="916.5" stroke="#f2d29e" stroke-width="4.4"/><line x1="634.5" y1="916.5" x2="621.3" y2="908.8" stroke="#ae3838" stroke-width="7.4"/><line x1="634.5" y1="916.5" x2="621.3" y2="908.8" stroke="#e04848" stroke-width="4.4"/><line x1="647.7" y1="924.2" x2="661.1" y2="916.7" stroke="#bca37b" stroke-width="7.4"/><line x1="647.7" y1="924.2" x2="661.1" y2="916.7" stroke="#f2d29e" stroke-width="4.4"/><line x1="661.1" y1="916.7" x2="674.5" y2="909.2" stroke="#ae3838" stroke-width="7.4"/><line x1="661.1" y1="916.7" x2="674.5" y2="909.2" stroke="#e04848" stroke-width="4.4"/><line x1="305.0" y1="598.0" x2="293.0" y2="591.0" stroke="#18c2e6" stroke-width="7.4"/><line x1="677.4" y1="601.0" x2="689.4" y2="594.0" stroke="#18c2e6" stroke-width="7.4"/><line x1="304.1" y1="690.4" x2="292.1" y2="683.4" stroke="#18c2e6" stroke-width="7.4"/><line x1="676.5" y1="693.4" x2="688.5" y2="686.4" stroke="#18c2e6" stroke-width="7.4"/><line x1="303.2" y1="782.8" x2="291.2" y2="775.8" stroke="#18c2e6" stroke-width="7.4"/><line x1="675.6" y1="785.8" x2="687.6" y2="778.8" stroke="#18c2e6" stroke-width="7.4"/><line x1="302.4" y1="875.2" x2="290.4" y2="868.2" stroke="#18c2e6" stroke-width="7.4"/><line x1="674.8" y1="878.2" x2="686.8" y2="871.2" stroke="#18c2e6" stroke-width="7.4"/><line x1="328.5" y1="921.6" x2="328.5" y2="935.6" stroke="#f2d29e" stroke-width="7.4"/><line x1="381.7" y1="922.0" x2="381.7" y2="936.0" stroke="#18c2e6" stroke-width="7.4"/><line x1="434.9" y1="922.5" x2="434.9" y2="936.5" stroke="#18c2e6" stroke-width="7.4"/><line x1="488.1" y1="922.9" x2="488.1" y2="936.9" stroke="#f2d29e" stroke-width="7.4"/><line x1="541.3" y1="923.3" x2="541.3" y2="937.3" stroke="#18c2e6" stroke-width="7.4"/><line x1="594.5" y1="923.7" x2="594.5" y2="937.7" stroke="#18c2e6" stroke-width="7.4"/><line x1="647.7" y1="924.2" x2="647.7" y2="938.2" stroke="#f2d29e" stroke-width="7.4"/><line x1="331.8" y1="581.2" x2="331.8" y2="568.2" stroke="#e04848" stroke-width="7.4"/><line x1="385.0" y1="581.6" x2="385.0" y2="568.6" stroke="#e04848" stroke-width="7.4"/><line x1="438.2" y1="582.1" x2="438.2" y2="569.1" stroke="#e04848" stroke-width="7.4"/><line x1="491.4" y1="582.5" x2="491.4" y2="569.5" stroke="#e04848" stroke-width="7.4"/><line x1="544.6" y1="582.9" x2="544.6" y2="569.9" stroke="#e04848" stroke-width="7.4"/><line x1="597.8" y1="583.3" x2="597.8" y2="570.3" stroke="#e04848" stroke-width="7.4"/><line x1="651.0" y1="583.8" x2="651.0" y2="570.8" stroke="#e04848" stroke-width="7.4"/><line x1="304.7" y1="629.0" x2="292.7" y2="636.0" stroke="#e04848" stroke-width="7.4"/><line x1="677.1" y1="632.0" x2="689.1" y2="639.0" stroke="#e04848" stroke-width="7.4"/><line x1="303.8" y1="721.4" x2="291.8" y2="728.4" stroke="#e04848" stroke-width="7.4"/><line x1="676.2" y1="724.4" x2="688.2" y2="731.4" stroke="#e04848" stroke-width="7.4"/><line x1="302.9" y1="813.8" x2="290.9" y2="820.8" stroke="#e04848" stroke-width="7.4"/><line x1="675.3" y1="816.8" x2="687.3" y2="823.8" stroke="#e04848" stroke-width="7.4"/><line x1="302.1" y1="906.2" x2="290.1" y2="913.2" stroke="#e04848" stroke-width="7.4"/><line x1="674.5" y1="909.2" x2="686.5" y2="916.2" stroke="#e04848" stroke-width="7.4"/><circle cx="305.0" cy="598.0" r="8.3" fill="url(#gZn)"/><circle cx="304.7" cy="629.0" r="8.0" fill="url(#gO)"/><circle cx="358.2" cy="598.4" r="8.3" fill="url(#gZn)"/><circle cx="357.9" cy="629.4" r="8.0" fill="url(#gO)"/><circle cx="411.4" cy="598.9" r="8.3" fill="url(#gB)"/><circle cx="411.1" cy="629.9" r="8.0" fill="url(#gO)"/><circle cx="464.6" cy="599.3" r="8.3" fill="url(#gZn)"/><circle cx="464.3" cy="630.3" r="8.0" fill="url(#gO)"/><circle cx="517.8" cy="599.7" r="8.3" fill="url(#gZn)"/><circle cx="517.5" cy="630.7" r="8.0" fill="url(#gO)"/><circle cx="571.0" cy="600.1" r="8.3" fill="url(#gB)"/><circle cx="570.7" cy="631.1" r="8.0" fill="url(#gO)"/><circle cx="624.2" cy="600.6" r="8.3" fill="url(#gZn)"/><circle cx="623.9" cy="631.6" r="8.0" fill="url(#gO)"/><circle cx="677.4" cy="601.0" r="8.3" fill="url(#gZn)"/><circle cx="677.1" cy="632.0" r="8.0" fill="url(#gO)"/><circle cx="331.2" cy="644.4" r="8.3" fill="url(#gB)"/><circle cx="330.9" cy="675.4" r="8.0" fill="url(#gO)"/><circle cx="384.4" cy="644.8" r="8.3" fill="url(#gZn)"/><circle cx="384.1" cy="675.8" r="8.0" fill="url(#gO)"/><circle cx="437.6" cy="645.3" r="8.3" fill="url(#gZn)"/><circle cx="437.3" cy="676.3" r="8.0" fill="url(#gO)"/><circle cx="490.8" cy="645.7" r="8.3" fill="url(#gB)"/><circle cx="490.5" cy="676.7" r="8.0" fill="url(#gO)"/><circle cx="544.0" cy="646.1" r="8.3" fill="url(#gZn)"/><circle cx="543.7" cy="677.1" r="8.0" fill="url(#gO)"/><circle cx="597.2" cy="646.5" r="8.3" fill="url(#gZn)"/><circle cx="596.9" cy="677.5" r="8.0" fill="url(#gO)"/><circle cx="650.4" cy="647.0" r="8.3" fill="url(#gB)"/><circle cx="650.1" cy="678.0" r="8.0" fill="url(#gO)"/><circle cx="304.1" cy="690.4" r="8.3" fill="url(#gZn)"/><circle cx="303.8" cy="721.4" r="8.0" fill="url(#gO)"/><circle cx="357.3" cy="690.8" r="8.3" fill="url(#gZn)"/><circle cx="357.0" cy="721.8" r="8.0" fill="url(#gO)"/><circle cx="410.5" cy="691.3" r="8.3" fill="url(#gB)"/><circle cx="410.2" cy="722.3" r="8.0" fill="url(#gO)"/><circle cx="463.7" cy="691.7" r="8.3" fill="url(#gZn)"/><circle cx="463.4" cy="722.7" r="8.0" fill="url(#gO)"/><circle cx="516.9" cy="692.1" r="8.3" fill="url(#gZn)"/><circle cx="516.6" cy="723.1" r="8.0" fill="url(#gO)"/><circle cx="570.1" cy="692.5" r="8.3" fill="url(#gB)"/><circle cx="569.8" cy="723.5" r="8.0" fill="url(#gO)"/><circle cx="623.3" cy="693.0" r="8.3" fill="url(#gZn)"/><circle cx="623.0" cy="724.0" r="8.0" fill="url(#gO)"/><circle cx="676.5" cy="693.4" r="8.3" fill="url(#gZn)"/><circle cx="676.2" cy="724.4" r="8.0" fill="url(#gO)"/><circle cx="330.3" cy="736.8" r="8.3" fill="url(#gB)"/><circle cx="330.0" cy="767.8" r="8.0" fill="url(#gO)"/><circle cx="383.5" cy="737.2" r="8.3" fill="url(#gZn)"/><circle cx="383.2" cy="768.2" r="8.0" fill="url(#gO)"/><circle cx="436.7" cy="737.7" r="8.3" fill="url(#gZn)"/><circle cx="436.4" cy="768.7" r="8.0" fill="url(#gO)"/><circle cx="489.9" cy="738.1" r="8.3" fill="url(#gB)"/><circle cx="489.6" cy="769.1" r="8.0" fill="url(#gO)"/><circle cx="543.1" cy="738.5" r="8.3" fill="url(#gZn)"/><circle cx="542.8" cy="769.5" r="8.0" fill="url(#gO)"/><circle cx="596.3" cy="738.9" r="8.3" fill="url(#gZn)"/><circle cx="596.0" cy="769.9" r="8.0" fill="url(#gO)"/><circle cx="649.5" cy="739.4" r="8.3" fill="url(#gB)"/><circle cx="649.2" cy="770.4" r="8.0" fill="url(#gO)"/><circle cx="303.2" cy="782.8" r="8.3" fill="url(#gZn)"/><circle cx="302.9" cy="813.8" r="8.0" fill="url(#gO)"/><circle cx="356.4" cy="783.2" r="8.3" fill="url(#gZn)"/><circle cx="356.1" cy="814.2" r="8.0" fill="url(#gO)"/><circle cx="409.6" cy="783.7" r="8.3" fill="url(#gB)"/><circle cx="409.3" cy="814.7" r="8.0" fill="url(#gO)"/><circle cx="462.8" cy="784.1" r="8.3" fill="url(#gZn)"/><circle cx="462.5" cy="815.1" r="8.0" fill="url(#gO)"/><circle cx="516.0" cy="784.5" r="8.3" fill="url(#gZn)"/><circle cx="515.7" cy="815.5" r="8.0" fill="url(#gO)"/><circle cx="569.2" cy="784.9" r="8.3" fill="url(#gB)"/><circle cx="568.9" cy="815.9" r="8.0" fill="url(#gO)"/><circle cx="622.4" cy="785.4" r="8.3" fill="url(#gZn)"/><circle cx="622.1" cy="816.4" r="8.0" fill="url(#gO)"/><circle cx="675.6" cy="785.8" r="8.3" fill="url(#gZn)"/><circle cx="675.3" cy="816.8" r="8.0" fill="url(#gO)"/><circle cx="329.4" cy="829.2" r="8.3" fill="url(#gB)"/><circle cx="329.1" cy="860.2" r="8.0" fill="url(#gO)"/><circle cx="382.6" cy="829.6" r="8.3" fill="url(#gZn)"/><circle cx="382.3" cy="860.6" r="8.0" fill="url(#gO)"/><circle cx="435.8" cy="830.1" r="8.3" fill="url(#gZn)"/><circle cx="435.5" cy="861.1" r="8.0" fill="url(#gO)"/><circle cx="489.0" cy="830.5" r="8.3" fill="url(#gB)"/><circle cx="488.7" cy="861.5" r="8.0" fill="url(#gO)"/><circle cx="542.2" cy="830.9" r="8.3" fill="url(#gZn)"/><circle cx="541.9" cy="861.9" r="8.0" fill="url(#gO)"/><circle cx="595.4" cy="831.3" r="8.3" fill="url(#gZn)"/><circle cx="595.1" cy="862.3" r="8.0" fill="url(#gO)"/><circle cx="648.6" cy="831.8" r="8.3" fill="url(#gB)"/><circle cx="648.3" cy="862.8" r="8.0" fill="url(#gO)"/><circle cx="302.4" cy="875.2" r="8.3" fill="url(#gZn)"/><circle cx="302.1" cy="906.2" r="8.0" fill="url(#gO)"/><circle cx="355.6" cy="875.6" r="8.3" fill="url(#gZn)"/><circle cx="355.3" cy="906.6" r="8.0" fill="url(#gO)"/><circle cx="408.8" cy="876.1" r="8.3" fill="url(#gB)"/><circle cx="408.5" cy="907.1" r="8.0" fill="url(#gO)"/><circle cx="462.0" cy="876.5" r="8.3" fill="url(#gZn)"/><circle cx="461.7" cy="907.5" r="8.0" fill="url(#gO)"/><circle cx="515.2" cy="876.9" r="8.3" fill="url(#gZn)"/><circle cx="514.9" cy="907.9" r="8.0" fill="url(#gO)"/><circle cx="568.4" cy="877.3" r="8.3" fill="url(#gB)"/><circle cx="568.1" cy="908.3" r="8.0" fill="url(#gO)"/><circle cx="621.6" cy="877.8" r="8.3" fill="url(#gZn)"/><circle cx="621.3" cy="908.8" r="8.0" fill="url(#gO)"/><circle cx="674.8" cy="878.2" r="8.3" fill="url(#gZn)"/><circle cx="674.5" cy="909.2" r="8.0" fill="url(#gO)"/><circle cx="328.5" cy="921.6" r="8.3" fill="url(#gB)"/><circle cx="381.7" cy="922.0" r="8.3" fill="url(#gZn)"/><circle cx="434.9" cy="922.5" r="8.3" fill="url(#gZn)"/><circle cx="488.1" cy="922.9" r="8.3" fill="url(#gB)"/><circle cx="541.3" cy="923.3" r="8.3" fill="url(#gZn)"/><circle cx="594.5" cy="923.7" r="8.3" fill="url(#gZn)"/><circle cx="647.7" cy="924.2" r="8.3" fill="url(#gB)"/><circle cx="331.8" cy="581.2" r="8.0" fill="url(#gO)"/><circle cx="385.0" cy="581.6" r="8.0" fill="url(#gO)"/><circle cx="438.2" cy="582.1" r="8.0" fill="url(#gO)"/><circle cx="491.4" cy="582.5" r="8.0" fill="url(#gO)"/><circle cx="544.6" cy="582.9" r="8.0" fill="url(#gO)"/><circle cx="597.8" cy="583.3" r="8.0" fill="url(#gO)"/><circle cx="651.0" cy="583.8" r="8.0" fill="url(#gO)"/><rect x="1012.7" y="516" width="26.4" height="401.6" fill="#fde0e2"/><rect x="1041.9" y="516" width="27.2" height="401.6" fill="#fbf9e0"/><rect x="1083.1" y="516" width="15.6" height="401.6" fill="#dfe0fb"/><rect x="1098.7" y="516" width="18.0" height="401.6" fill="#fde0e2"/><rect x="1141.9" y="516" width="26.0" height="401.6" fill="#fbf9e0"/><line x1="942.8" y1="555.5" x2="1099" y2="555.5" stroke="#8000ff" stroke-width="2.5" stroke-dasharray="5,11.3"/><line x1="964.1" y1="743.8" x2="1116" y2="743.8" stroke="#8000ff" stroke-width="2.5" stroke-dasharray="5,11.3"/><line x1="978.7" y1="570" x2="978.7" y2="728" stroke="#8000ff" stroke-width="2.5"/><path d="M978.7,558.7 L973.7,572.8 L983.7,572.8 Z M978.7,739.6 L973.7,726.2 L983.7,726.2 Z" fill="#8000ff"/><text transform="translate(885.97,661.52) scale(0.9235,1)" font-family="'Liberation Sans', Arial, Helvetica, sans-serif" font-weight="bold" font-size="27.89" fill="#8000ff">~26.6%</text><path d="M811.0,552.5 C814.2,552.4 821.8,552.0 830.0,552.0 C838.2,552.0 850.0,552.2 860.0,552.4 C870.0,552.6 880.8,552.7 890.0,553.0 C899.2,553.3 908.3,553.6 915.0,554.0 C921.7,554.4 924.2,555.2 930.0,555.5 C935.8,555.8 941.0,555.7 950.0,556.0 C959.0,556.3 973.5,556.6 984.0,557.2 C994.5,557.8 1004.8,558.6 1012.8,559.6 C1020.8,560.6 1025.6,561.4 1032.0,563.2 C1038.4,565.0 1045.0,567.6 1051.0,570.4 C1057.0,573.2 1063.6,576.8 1068.0,580.0 C1072.4,583.2 1075.0,586.0 1077.6,589.6 C1080.2,593.2 1082.0,596.4 1083.6,601.6 C1085.2,606.8 1086.2,613.6 1087.2,620.8 C1088.2,628.0 1088.8,635.6 1089.6,644.8 C1090.4,654.0 1091.0,665.6 1092.0,676.0 C1093.0,686.4 1094.0,698.8 1095.6,707.2 C1097.2,715.6 1099.0,721.2 1101.6,726.4 C1104.2,731.6 1107.2,735.4 1111.2,738.4 C1115.2,741.4 1118.8,743.3 1125.6,744.2 C1132.4,745.1 1143.8,743.6 1152.0,743.7 C1160.2,743.8 1167.2,744.3 1175.0,744.6 C1182.8,744.9 1195.0,745.4 1199.0,745.6" fill="none" stroke="#8000ff" stroke-width="3" stroke-linejoin="round"/><path d="M811.7,886.7 C813.1,887.1 816.8,888.6 820.0,889.3 C823.2,890.0 828.5,890.8 831.2,890.9 C833.9,891.0 832.5,890.0 836.0,889.6 C839.5,889.2 846.7,888.8 852.0,888.5 C857.3,888.2 862.7,888.0 868.0,887.7 C873.3,887.4 878.7,887.2 884.0,886.6 C889.3,886.0 892.9,886.1 900.0,884.3 C907.1,882.5 917.5,878.5 926.5,876.0 C935.5,873.5 944.6,871.2 953.7,869.0 C962.8,866.8 973.3,864.4 981.0,863.0 C988.7,861.6 994.6,861.7 1000.0,860.6 C1005.4,859.5 1008.8,857.9 1013.2,856.2 C1017.6,854.6 1022.4,852.4 1026.4,850.7 C1030.4,849.1 1034.5,847.9 1037.4,846.3 C1040.3,844.6 1042.0,843.5 1044.0,840.8 C1046.0,838.0 1047.7,832.7 1049.5,829.8 C1051.3,826.9 1053.0,824.7 1055.0,823.2 C1057.0,821.7 1059.8,821.5 1061.6,820.6 C1063.4,819.7 1064.5,820.2 1066.0,817.7 C1067.5,815.2 1068.9,811.3 1070.4,805.6 C1071.9,799.9 1073.3,792.0 1074.8,783.6 C1076.3,775.2 1077.5,763.4 1079.2,755.0 C1080.9,746.6 1082.9,739.0 1084.7,733.0 C1086.5,727.0 1088.6,721.8 1090.2,718.7 C1091.8,715.6 1093.2,715.4 1094.5,714.5 C1095.8,713.6 1097.0,714.8 1098.0,713.5 C1099.0,712.2 1099.6,711.2 1100.3,707.0 C1101.0,702.8 1101.6,697.8 1102.2,688.0 C1102.8,678.2 1103.4,662.0 1104.0,648.0 C1104.6,634.0 1105.3,613.6 1106.0,604.0 C1106.7,594.4 1107.3,591.0 1107.9,590.5 C1108.5,590.0 1109.2,592.8 1109.8,601.0 C1110.4,609.2 1111.2,625.2 1111.8,640.0 C1112.4,654.8 1113.0,675.0 1113.6,690.0 C1114.2,705.0 1114.7,719.0 1115.3,730.0 C1115.9,741.0 1116.3,749.5 1117.3,756.0 C1118.2,762.5 1119.5,765.3 1121.0,769.0 C1122.5,772.7 1124.3,775.8 1126.0,778.0 C1127.7,780.2 1128.9,781.1 1131.0,782.0 C1133.1,782.9 1135.9,783.7 1138.6,783.2 C1141.3,782.7 1144.8,781.3 1147.4,779.2 C1150.0,777.1 1152.0,773.0 1154.0,770.4 C1156.0,767.8 1157.8,764.0 1159.5,763.6 C1161.2,763.2 1162.2,764.1 1163.9,768.2 C1165.6,772.3 1167.6,780.3 1169.4,788.0 C1171.2,795.7 1173.3,807.4 1175.0,814.4 C1176.7,821.4 1177.3,825.8 1179.3,829.8 C1181.3,833.8 1183.9,836.6 1187.0,838.6 C1190.1,840.6 1196.2,841.4 1198.0,841.9" fill="none" stroke="#ff7f00" stroke-width="2.8" stroke-linejoin="round"/><path d="M799.5,516 L1200.2,516 L1200.2,917.6 L799.5,917.6 Z" fill="none" stroke="#000" stroke-width="2.7"/><line x1="799.5" y1="917.6" x2="807.0" y2="917.6" stroke="#000" stroke-width="2.5"/><line x1="799.5" y1="881.0" x2="803.5" y2="881.0" stroke="#000" stroke-width="2.5"/><line x1="799.5" y1="844.5" x2="807.0" y2="844.5" stroke="#000" stroke-width="2.5"/><line x1="799.5" y1="807.9" x2="803.5" y2="807.9" stroke="#000" stroke-width="2.5"/><line x1="799.5" y1="771.4" x2="807.0" y2="771.4" stroke="#000" stroke-width="2.5"/><line x1="799.5" y1="734.8" x2="803.5" y2="734.8" stroke="#000" stroke-width="2.5"/><line x1="799.5" y1="698.2" x2="807.0" y2="698.2" stroke="#000" stroke-width="2.5"/><line x1="799.5" y1="661.7" x2="803.5" y2="661.7" stroke="#000" stroke-width="2.5"/><line x1="799.5" y1="625.1" x2="807.0" y2="625.1" stroke="#000" stroke-width="2.5"/><line x1="799.5" y1="588.6" x2="803.5" y2="588.6" stroke="#000" stroke-width="2.5"/><line x1="799.5" y1="552.0" x2="807.0" y2="552.0" stroke="#000" stroke-width="2.5"/><line x1="1200.2" y1="887.0" x2="1192.7" y2="887.0" stroke="#000" stroke-width="2.5"/><line x1="1200.2" y1="812.8" x2="1196.2" y2="812.8" stroke="#000" stroke-width="2.5"/><line x1="1200.2" y1="738.5" x2="1192.7" y2="738.5" stroke="#000" stroke-width="2.5"/><line x1="1200.2" y1="664.2" x2="1196.2" y2="664.2" stroke="#000" stroke-width="2.5"/><line x1="1200.2" y1="590.0" x2="1192.7" y2="590.0" stroke="#000" stroke-width="2.5"/><line x1="799.5" y1="917.6" x2="799.5" y2="925.1" stroke="#000" stroke-width="2.5"/><line x1="839.5" y1="917.6" x2="839.5" y2="921.6" stroke="#000" stroke-width="2.5"/><line x1="879.5" y1="917.6" x2="879.5" y2="925.1" stroke="#000" stroke-width="2.5"/><line x1="919.5" y1="917.6" x2="919.5" y2="921.6" stroke="#000" stroke-width="2.5"/><line x1="959.5" y1="917.6" x2="959.5" y2="925.1" stroke="#000" stroke-width="2.5"/><line x1="999.5" y1="917.6" x2="999.5" y2="921.6" stroke="#000" stroke-width="2.5"/><line x1="1039.5" y1="917.6" x2="1039.5" y2="925.1" stroke="#000" stroke-width="2.5"/><line x1="1079.5" y1="917.6" x2="1079.5" y2="921.6" stroke="#000" stroke-width="2.5"/><line x1="1119.5" y1="917.6" x2="1119.5" y2="925.1" stroke="#000" stroke-width="2.5"/><line x1="1159.5" y1="917.6" x2="1159.5" y2="921.6" stroke="#000" stroke-width="2.5"/><line x1="1199.5" y1="917.6" x2="1199.5" y2="925.1" stroke="#000" stroke-width="2.5"/><text transform="translate(791.10,926.70) scale(1.0205,1)" text-anchor="end" font-family="'Liberation Sans', Arial, Helvetica, sans-serif" font-weight="normal" font-size="30.56" fill="#000">50</text><text transform="translate(791.10,853.58) scale(1.0205,1)" text-anchor="end" font-family="'Liberation Sans', Arial, Helvetica, sans-serif" font-weight="normal" font-size="30.56" fill="#000">60</text><text transform="translate(791.10,780.46) scale(1.0205,1)" text-anchor="end" font-family="'Liberation Sans', Arial, Helvetica, sans-serif" font-weight="normal" font-size="30.56" fill="#000">70</text><text transform="translate(791.10,707.34) scale(1.0205,1)" text-anchor="end" font-family="'Liberation Sans', Arial, Helvetica, sans-serif" font-weight="normal" font-size="30.56" fill="#000">80</text><text transform="translate(791.10,634.22) scale(1.0205,1)" text-anchor="end" font-family="'Liberation Sans', Arial, Helvetica, sans-serif" font-weight="normal" font-size="30.56" fill="#000">90</text><text transform="translate(791.10,561.10) scale(1.0205,1)" text-anchor="end" font-family="'Liberation Sans', Arial, Helvetica, sans-serif" font-weight="normal" font-size="30.56" fill="#000">100</text><text transform="translate(1208.44,896.70) scale(1.0075,1)" font-family="'Liberation Sans', Arial, Helvetica, sans-serif" font-weight="normal" font-size="30.99" fill="#000">0</text><text transform="translate(1208.44,748.20) scale(1.0075,1)" font-family="'Liberation Sans', Arial, Helvetica, sans-serif" font-weight="normal" font-size="30.99" fill="#000">10</text><text transform="translate(1208.44,599.70) scale(1.0075,1)" font-family="'Liberation Sans', Arial, Helvetica, sans-serif" font-weight="normal" font-size="30.99" fill="#000">20</text><text transform="translate(800.10,955.29) scale(1.0175,1)" text-anchor="middle" font-family="'Liberation Sans', Arial, Helvetica, sans-serif" font-weight="normal" font-size="31.13" fill="#000">0</text><text transform="translate(880.10,955.29) scale(1.0175,1)" text-anchor="middle" font-family="'Liberation Sans', Arial, Helvetica, sans-serif" font-weight="normal" font-size="31.13" fill="#000">200</text><text transform="translate(960.10,955.29) scale(1.0175,1)" text-anchor="middle" font-family="'Liberation Sans', Arial, Helvetica, sans-serif" font-weight="normal" font-size="31.13" fill="#000">400</text><text transform="translate(1040.10,955.29) scale(1.0175,1)" text-anchor="middle" font-family="'Liberation Sans', Arial, Helvetica, sans-serif" font-weight="normal" font-size="31.13" fill="#000">600</text><text transform="translate(1120.10,955.29) scale(1.0175,1)" text-anchor="middle" font-family="'Liberation Sans', Arial, Helvetica, sans-serif" font-weight="normal" font-size="31.13" fill="#000">800</text><text transform="translate(1200.10,955.29) scale(1.0175,1)" text-anchor="middle" font-family="'Liberation Sans', Arial, Helvetica, sans-serif" font-weight="normal" font-size="31.13" fill="#000">1000</text><text transform="translate(873.89,991.50) scale(1.0261,1)" font-family="'Liberation Sans', Arial, Helvetica, sans-serif" font-weight="bold" font-size="30.48" fill="#000">Temperature (</text><text transform="translate(1081.12,978.89) scale(1.0745,1)" font-family="'Liberation Sans', Arial, Helvetica, sans-serif" font-weight="bold" font-size="20.55" fill="#000">o</text><text transform="translate(1094.77,991.50) scale(1.0097,1)" font-family="'Liberation Sans', Arial, Helvetica, sans-serif" font-weight="bold" font-size="30.48" fill="#000">C)</text><text transform="translate(735.41,858.03) rotate(-90) scale(1.0169,1)" font-family="'Liberation Sans', Arial, Helvetica, sans-serif" font-weight="bold" font-size="30.64" fill="#000">Relative weight (%)</text><text transform="translate(1271.58,829.82) rotate(-90) scale(0.9953,1)" font-family="'Liberation Sans', Arial, Helvetica, sans-serif" font-weight="bold" font-size="31.28" fill="#000">DSC (mW mg</text><text transform="translate(1258.40,631.33) rotate(-90) scale(0.8091,1)" font-family="'Liberation Sans', Arial, Helvetica, sans-serif" font-weight="bold" font-size="22.61" fill="#000">-1</text><text transform="translate(1271.13,612.14) rotate(-90) scale(0.9044,1)" font-family="'Liberation Sans', Arial, Helvetica, sans-serif" font-weight="bold" font-size="30.80" fill="#000">)</text><line x1="802" y1="537.2" x2="842.5" y2="537.2" stroke="#8000ff" stroke-width="3"/><text transform="translate(846.66,542.64) scale(0.9787,1)" font-family="'Liberation Sans', Arial, Helvetica, sans-serif" font-weight="normal" font-size="26.34" fill="#000">TGA</text><line x1="1093.5" y1="899.8" x2="1134.2" y2="899.8" stroke="#ff7f00" stroke-width="3"/><text transform="translate(1137.62,904.35) scale(1.0481,1)" font-family="'Liberation Sans', Arial, Helvetica, sans-serif" font-weight="normal" font-size="24.79" fill="#000">DSC</text><path d="M843,553 L843,579 L815,579" fill="none" stroke="#8000ff" stroke-width="2"/><path d="M805,579 L817,572.5 L817,585.5 Z" fill="#8000ff"/><line x1="1168" y1="775.9" x2="1188" y2="775.9" stroke="#ff2020" stroke-width="2"/><path d="M1198.5,775.9 L1186,769.5 L1186,782.3 Z" fill="#ff2020"/><text transform="translate(1034.16,844.06) rotate(-90) scale(0.9120,1)" font-family="'Liberation Sans', Arial, Helvetica, sans-serif" font-weight="bold" font-size="24.23" fill="#ff7f00">560 °C</text><text transform="translate(1063.14,814.47) rotate(-90) scale(0.8633,1)" font-family="'Liberation Sans', Arial, Helvetica, sans-serif" font-weight="bold" font-size="25.63" fill="#ff7f00">650 °C</text><text transform="translate(1099.45,821.91) rotate(-90) scale(0.8987,1)" font-family="'Liberation Sans', Arial, Helvetica, sans-serif" font-weight="bold" font-size="24.93" fill="#ff7f00">730 °C</text><text transform="translate(1163.75,848.67) rotate(-90) scale(0.8780,1)" font-family="'Liberation Sans', Arial, Helvetica, sans-serif" font-weight="bold" font-size="25.35" fill="#ff7f00">896 °C</text><text transform="translate(1117.65,588.01) rotate(-90) scale(0.8837,1)" font-family="'Liberation Sans', Arial, Helvetica, sans-serif" font-weight="bold" font-size="25.35" fill="#ff7f00">768 °C</text><text transform="translate(-0.84,51.80) scale(1.0237,1)" font-family="'Liberation Sans', Arial, Helvetica, sans-serif" font-weight="bold" font-size="48.41" fill="#000">A</text><text transform="translate(747.91,51.75) scale(0.9488,1)" font-family="'Liberation Sans', Arial, Helvetica, sans-serif" font-weight="bold" font-size="48.55" fill="#000">B</text><text transform="translate(0.59,543.91) scale(0.9300,1)" font-family="'Liberation Sans', Arial, Helvetica, sans-serif" font-weight="bold" font-size="48.59" fill="#000">C</text><text transform="translate(292.92,544.70) scale(0.9416,1)" font-family="'Liberation Sans', Arial, Helvetica, sans-serif" font-weight="bold" font-size="48.70" fill="#000">D</text><text transform="translate(706.79,544.80) scale(0.9523,1)" font-family="'Liberation Sans', Arial, Helvetica, sans-serif" font-weight="bold" font-size="48.70" fill="#000">E</text></svg></body></html>
